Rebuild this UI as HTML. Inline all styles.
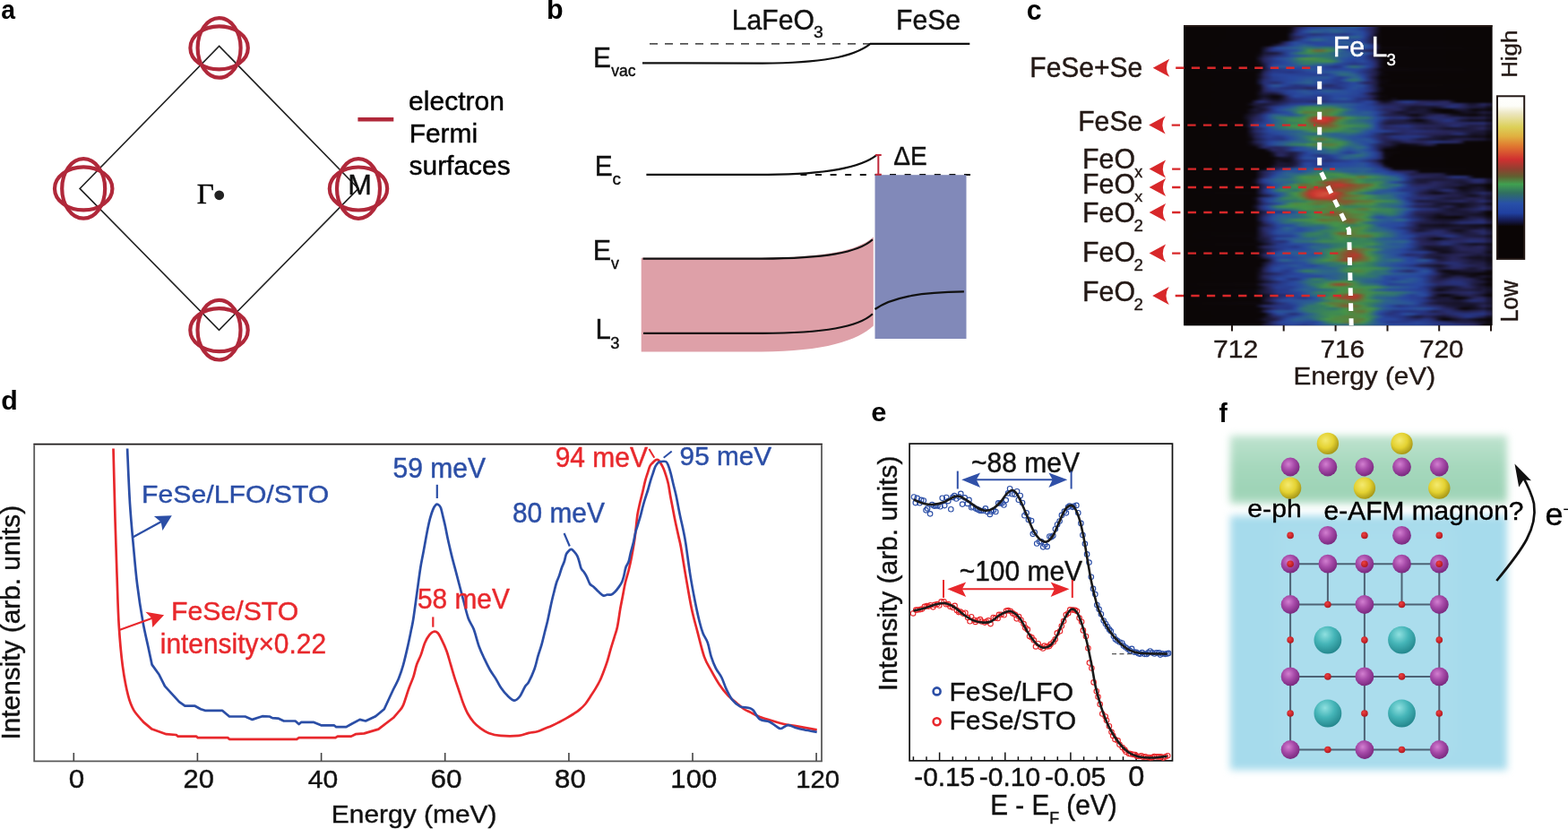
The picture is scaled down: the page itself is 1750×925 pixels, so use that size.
<!DOCTYPE html>
<html><head><meta charset="utf-8"><style>
html,body{margin:0;padding:0;background:#fff;}
body{width:1750px;height:925px;overflow:hidden;}
svg{display:block;font-family:'Liberation Sans', Arial, Helvetica, sans-serif;}
</style></head><body>
<svg width="1750" height="925" viewBox="0 0 1750 925">
<text x="1.35" y="21.20" font-size="28.36" fill="#000" font-weight="bold" transform="matrix(1 0 0 1.0629 0 -1.33)">a</text>
<polygon points="244.6,51.4 400,210.4 244.5,368.3 89.1,210.4" fill="none" stroke="#222" stroke-width="1.6"/>
<ellipse cx="244.6" cy="53.4" rx="32.2" ry="24" fill="none" stroke="#b0283a" stroke-width="4.2"/>
<ellipse cx="244.6" cy="53.4" rx="24" ry="33.3" fill="none" stroke="#b0283a" stroke-width="4.2"/>
<ellipse cx="93.2" cy="210.4" rx="32.2" ry="24" fill="none" stroke="#b0283a" stroke-width="4.2"/>
<ellipse cx="93.2" cy="210.4" rx="24" ry="33.3" fill="none" stroke="#b0283a" stroke-width="4.2"/>
<ellipse cx="400" cy="210.5" rx="32.2" ry="24" fill="none" stroke="#b0283a" stroke-width="4.2"/>
<ellipse cx="400" cy="210.5" rx="24" ry="33.3" fill="none" stroke="#b0283a" stroke-width="4.2"/>
<ellipse cx="244.5" cy="368.2" rx="32.2" ry="24" fill="none" stroke="#b0283a" stroke-width="4.2"/>
<ellipse cx="244.5" cy="368.2" rx="24" ry="33.3" fill="none" stroke="#b0283a" stroke-width="4.2"/>
<text x="219.81" y="226.80" font-size="33.01" fill="#000" font-family="'Liberation Serif', 'Times New Roman', serif" stroke="#000" stroke-width="0.42" transform="matrix(1 0 0 0.9400 0 13.61)">Γ</text>
<circle cx="244.7" cy="217.8" r="5.4" fill="#222"/>
<text x="388.36" y="217.40" font-size="32.06" fill="#111" stroke="#111" stroke-width="0.42" transform="matrix(1 0 0 0.9528 0 10.27)">M</text>
<line x1="399.4" y1="133.2" x2="439.3" y2="133.2" stroke="#b0283a" stroke-width="4.5"/>
<text x="456.12" y="122.80" font-size="30.03" fill="#000" stroke="#000" stroke-width="0.42" transform="matrix(1 0 0 0.9921 0 0.96)">electron</text>
<text x="456.63" y="158.80" font-size="29.98" fill="#000" stroke="#000" stroke-width="0.42" transform="matrix(1 0 0 0.9754 0 3.91)">Fermi</text>
<text x="456.58" y="194.90" font-size="29.91" fill="#000" stroke="#000" stroke-width="0.42" transform="matrix(1 0 0 0.9950 0 0.97)">surfaces</text>
<text x="610.02" y="20.80" font-size="30.50" fill="#000" font-weight="bold">b</text>
<text x="816.81" y="32.80" font-size="30.13" fill="#111" stroke="#111" stroke-width="0.42" transform="matrix(1 0 0 1.0279 0 -0.91)">LaFeO</text>
<text x="908.07" y="41.70" font-size="19.37" fill="#111" stroke="#111" stroke-width="0.42" transform="matrix(1 0 0 0.9400 0 2.50)">3</text>
<text x="1000.12" y="33.10" font-size="30.11" fill="#111" stroke="#111" stroke-width="0.42" transform="matrix(1 0 0 1.0428 0 -1.42)">FeSe</text>
<line x1="725" y1="48.8" x2="971.4" y2="48.8" stroke="#555" stroke-width="1.7" stroke-dasharray="9,8"/>
<line x1="971" y1="48.8" x2="1082.3" y2="48.8" stroke="#111" stroke-width="2.3"/>
<path d="M717,70.3 L851,70.6 C915,70.3 952,64 971.4,48.8" fill="none" stroke="#111" stroke-width="2.2"/>
<text x="662.04" y="74.60" font-size="29.86" fill="#111" stroke="#111" stroke-width="0.42" transform="matrix(1 0 0 1.0473 0 -3.52)">E</text>
<text x="682.21" y="85.00" font-size="17.54" fill="#111" stroke="#111" stroke-width="0.42" transform="matrix(1 0 0 1.0291 0 -2.47)">vac</text>
<line x1="893.4" y1="194.9" x2="1083" y2="194.9" stroke="#111" stroke-width="2" stroke-dasharray="7,9.6"/>
<path d="M721.4,194.9 L857,194.9 C920,194.5 960,188 978.6,172.9" fill="none" stroke="#111" stroke-width="2.2"/>
<text x="663.64" y="196.30" font-size="29.86" fill="#111" stroke="#111" stroke-width="0.42" transform="matrix(1 0 0 1.0521 0 -10.23)">E</text>
<text x="683.40" y="206.50" font-size="18.84" fill="#111" stroke="#111" stroke-width="0.42" transform="matrix(1 0 0 0.9580 0 8.67)">c</text>
<path d="M715.7,287.8 L850,287.8 C920,287.5 957,280 974.8,264.6 L974.8,363.5 C957,380 920,392.2 850,392.4 L715.7,392.4 Z" fill="#dea0a8"/>
<rect x="976.5" y="195.2" width="102" height="182.8" fill="#8189b9"/>
<path d="M717.5,288.6 L850,288.6 C920,288.3 958,282 973.9,267.3" fill="none" stroke="#111" stroke-width="2.2"/>
<path d="M718,371.9 L850,371.9 C920,371.6 958,365 973.9,350.3" fill="none" stroke="#111" stroke-width="2.2"/>
<path d="M976.5,345 C995,332 1025,326 1075.9,325.4" fill="none" stroke="#111" stroke-width="2.2"/>
<path d="M980.3,173 V194.5 M977,172.9 H983.7 M977,194.8 H983.7" stroke="#c0283a" stroke-width="2"/>
<text x="997.16" y="184.20" font-size="28.04" fill="#111" stroke="#111" stroke-width="0.42" transform="matrix(1 0 0 1.0323 0 -5.95)">ΔE</text>
<text x="661.79" y="289.60" font-size="30.41" fill="#111" stroke="#111" stroke-width="0.42" transform="matrix(1 0 0 1.0330 0 -9.55)">E</text>
<text x="681.91" y="299.60" font-size="17.76" fill="#111" stroke="#111" stroke-width="0.42" transform="matrix(1 0 0 1.0464 0 -13.89)">v</text>
<text x="664.53" y="378.50" font-size="31.14" fill="#111" stroke="#111" stroke-width="0.42" transform="matrix(1 0 0 1.0184 0 -6.96)">L</text>
<text x="681.31" y="388.70" font-size="18.32" fill="#111" stroke="#111" stroke-width="0.42" transform="matrix(1 0 0 0.9941 0 2.29)">3</text>
<text x="1145.79" y="21.60" font-size="30.36" fill="#000" font-weight="bold" transform="matrix(1 0 0 1.0234 0 -0.51)">c</text>
<defs><linearGradient id="h0"><stop offset="0.000" stop-color="#0b0606"/><stop offset="0.334" stop-color="#0b0607"/><stop offset="0.348" stop-color="#0e090f"/><stop offset="0.363" stop-color="#1c1938"/><stop offset="0.406" stop-color="#263584"/><stop offset="0.450" stop-color="#273b8c"/><stop offset="0.493" stop-color="#274195"/><stop offset="0.522" stop-color="#294f9b"/><stop offset="0.552" stop-color="#2c618e"/><stop offset="0.566" stop-color="#2a5994"/><stop offset="0.581" stop-color="#28449a"/><stop offset="0.610" stop-color="#272a66"/><stop offset="0.624" stop-color="#1f1c41"/><stop offset="0.639" stop-color="#0b0608"/><stop offset="0.987" stop-color="#0b0606"/></linearGradient><linearGradient id="h1"><stop offset="0.000" stop-color="#0b0606"/><stop offset="0.334" stop-color="#0b0607"/><stop offset="0.348" stop-color="#0f0b14"/><stop offset="0.363" stop-color="#242150"/><stop offset="0.377" stop-color="#273078"/><stop offset="0.406" stop-color="#28479e"/><stop offset="0.479" stop-color="#2b5e90"/><stop offset="0.552" stop-color="#284b9e"/><stop offset="0.581" stop-color="#263888"/><stop offset="0.610" stop-color="#272558"/><stop offset="0.639" stop-color="#0b0607"/><stop offset="0.987" stop-color="#0b0606"/></linearGradient><linearGradient id="h2"><stop offset="0.000" stop-color="#0b0606"/><stop offset="0.334" stop-color="#0b0607"/><stop offset="0.348" stop-color="#110d1a"/><stop offset="0.363" stop-color="#28265d"/><stop offset="0.377" stop-color="#263888"/><stop offset="0.392" stop-color="#294c9d"/><stop offset="0.421" stop-color="#2c628d"/><stop offset="0.464" stop-color="#2a5497"/><stop offset="0.493" stop-color="#2c648c"/><stop offset="0.537" stop-color="#2a5398"/><stop offset="0.566" stop-color="#295299"/><stop offset="0.581" stop-color="#28459c"/><stop offset="0.610" stop-color="#28275e"/><stop offset="0.639" stop-color="#0b0607"/><stop offset="0.987" stop-color="#0b0606"/></linearGradient><linearGradient id="h3"><stop offset="0.000" stop-color="#0b0606"/><stop offset="0.334" stop-color="#0b0607"/><stop offset="0.363" stop-color="#273077"/><stop offset="0.377" stop-color="#273b8c"/><stop offset="0.406" stop-color="#263584"/><stop offset="0.421" stop-color="#273076"/><stop offset="0.479" stop-color="#273d8f"/><stop offset="0.522" stop-color="#263482"/><stop offset="0.552" stop-color="#28469d"/><stop offset="0.566" stop-color="#294f9b"/><stop offset="0.581" stop-color="#284a9f"/><stop offset="0.595" stop-color="#263888"/><stop offset="0.610" stop-color="#28265d"/><stop offset="0.624" stop-color="#141021"/><stop offset="0.639" stop-color="#0b0607"/><stop offset="0.987" stop-color="#0b0606"/></linearGradient><linearGradient id="h4"><stop offset="0.000" stop-color="#0b0606"/><stop offset="0.334" stop-color="#0b0607"/><stop offset="0.348" stop-color="#1c1938"/><stop offset="0.363" stop-color="#262455"/><stop offset="0.377" stop-color="#282860"/><stop offset="0.406" stop-color="#274398"/><stop offset="0.435" stop-color="#294d9c"/><stop offset="0.479" stop-color="#294e9c"/><stop offset="0.552" stop-color="#2c648c"/><stop offset="0.566" stop-color="#2b608f"/><stop offset="0.581" stop-color="#294c9d"/><stop offset="0.595" stop-color="#26327d"/><stop offset="0.624" stop-color="#130f1e"/><stop offset="0.639" stop-color="#0b0607"/><stop offset="0.987" stop-color="#0b0606"/></linearGradient><linearGradient id="h5"><stop offset="0.000" stop-color="#0b0606"/><stop offset="0.334" stop-color="#0b0607"/><stop offset="0.363" stop-color="#272b69"/><stop offset="0.392" stop-color="#2849a0"/><stop offset="0.421" stop-color="#2c658a"/><stop offset="0.435" stop-color="#2d6885"/><stop offset="0.479" stop-color="#284b9e"/><stop offset="0.508" stop-color="#2a5597"/><stop offset="0.552" stop-color="#274398"/><stop offset="0.566" stop-color="#28459b"/><stop offset="0.581" stop-color="#273e91"/><stop offset="0.610" stop-color="#22204b"/><stop offset="0.624" stop-color="#130f1e"/><stop offset="0.639" stop-color="#0b0607"/><stop offset="0.987" stop-color="#0b0606"/></linearGradient><linearGradient id="h6"><stop offset="0.000" stop-color="#0b0606"/><stop offset="0.305" stop-color="#0b0607"/><stop offset="0.319" stop-color="#191631"/><stop offset="0.334" stop-color="#272d6f"/><stop offset="0.348" stop-color="#273f92"/><stop offset="0.363" stop-color="#294d9d"/><stop offset="0.406" stop-color="#274195"/><stop offset="0.450" stop-color="#28469c"/><stop offset="0.522" stop-color="#2b5c92"/><stop offset="0.566" stop-color="#294f9b"/><stop offset="0.581" stop-color="#274297"/><stop offset="0.610" stop-color="#24214f"/><stop offset="0.624" stop-color="#130f1e"/><stop offset="0.639" stop-color="#0b0607"/><stop offset="0.987" stop-color="#0b0606"/></linearGradient><linearGradient id="h7"><stop offset="0.000" stop-color="#0b0606"/><stop offset="0.276" stop-color="#0b0607"/><stop offset="0.290" stop-color="#130f1e"/><stop offset="0.319" stop-color="#282965"/><stop offset="0.348" stop-color="#274298"/><stop offset="0.363" stop-color="#294d9d"/><stop offset="0.392" stop-color="#2b5f8f"/><stop offset="0.435" stop-color="#2848a0"/><stop offset="0.479" stop-color="#284399"/><stop offset="0.493" stop-color="#284a9e"/><stop offset="0.537" stop-color="#2a5895"/><stop offset="0.581" stop-color="#2b5d91"/><stop offset="0.595" stop-color="#29509a"/><stop offset="0.610" stop-color="#273b8c"/><stop offset="0.624" stop-color="#23204d"/><stop offset="0.639" stop-color="#0b0607"/><stop offset="0.987" stop-color="#0b0606"/></linearGradient><linearGradient id="h8"><stop offset="0.000" stop-color="#0b0606"/><stop offset="0.247" stop-color="#0b0607"/><stop offset="0.261" stop-color="#161328"/><stop offset="0.276" stop-color="#262456"/><stop offset="0.290" stop-color="#263685"/><stop offset="0.305" stop-color="#28499f"/><stop offset="0.334" stop-color="#2a5597"/><stop offset="0.377" stop-color="#2d6689"/><stop offset="0.392" stop-color="#307273"/><stop offset="0.406" stop-color="#31756d"/><stop offset="0.435" stop-color="#2f6f78"/><stop offset="0.464" stop-color="#327966"/><stop offset="0.479" stop-color="#31766c"/><stop offset="0.508" stop-color="#2a5497"/><stop offset="0.522" stop-color="#273f92"/><stop offset="0.537" stop-color="#263380"/><stop offset="0.552" stop-color="#263685"/><stop offset="0.566" stop-color="#28459b"/><stop offset="0.581" stop-color="#29509a"/><stop offset="0.595" stop-color="#284b9e"/><stop offset="0.610" stop-color="#273c8e"/><stop offset="0.624" stop-color="#272559"/><stop offset="0.639" stop-color="#0d080c"/><stop offset="0.987" stop-color="#0b0606"/></linearGradient><linearGradient id="h9"><stop offset="0.000" stop-color="#0b0606"/><stop offset="0.247" stop-color="#0b0607"/><stop offset="0.276" stop-color="#272c6c"/><stop offset="0.290" stop-color="#263786"/><stop offset="0.363" stop-color="#294d9c"/><stop offset="0.377" stop-color="#2b5d91"/><stop offset="0.392" stop-color="#317769"/><stop offset="0.406" stop-color="#459248"/><stop offset="0.421" stop-color="#627639"/><stop offset="0.435" stop-color="#736633"/><stop offset="0.450" stop-color="#6c6c34"/><stop offset="0.464" stop-color="#55853f"/><stop offset="0.479" stop-color="#3d8853"/><stop offset="0.508" stop-color="#2d6786"/><stop offset="0.537" stop-color="#28459c"/><stop offset="0.595" stop-color="#28265b"/><stop offset="0.610" stop-color="#23214e"/><stop offset="0.639" stop-color="#0b0607"/><stop offset="0.987" stop-color="#0b0606"/></linearGradient><linearGradient id="h10"><stop offset="0.000" stop-color="#0b0606"/><stop offset="0.232" stop-color="#0b0607"/><stop offset="0.247" stop-color="#0d090e"/><stop offset="0.261" stop-color="#1a1733"/><stop offset="0.290" stop-color="#1b1837"/><stop offset="0.305" stop-color="#201e45"/><stop offset="0.334" stop-color="#273f92"/><stop offset="0.348" stop-color="#2a5795"/><stop offset="0.377" stop-color="#327a64"/><stop offset="0.406" stop-color="#3d8854"/><stop offset="0.464" stop-color="#317769"/><stop offset="0.493" stop-color="#2b5e90"/><stop offset="0.552" stop-color="#2a5596"/><stop offset="0.581" stop-color="#2b5b92"/><stop offset="0.595" stop-color="#294f9b"/><stop offset="0.610" stop-color="#263889"/><stop offset="0.624" stop-color="#1e1b3e"/><stop offset="0.639" stop-color="#0b0607"/><stop offset="0.987" stop-color="#0b0606"/></linearGradient><linearGradient id="h11"><stop offset="0.000" stop-color="#0b0606"/><stop offset="0.232" stop-color="#0b0607"/><stop offset="0.247" stop-color="#120e1d"/><stop offset="0.261" stop-color="#211f48"/><stop offset="0.290" stop-color="#272b6a"/><stop offset="0.334" stop-color="#273e91"/><stop offset="0.348" stop-color="#284b9e"/><stop offset="0.392" stop-color="#2b5b92"/><stop offset="0.421" stop-color="#2f7077"/><stop offset="0.479" stop-color="#2f7075"/><stop offset="0.522" stop-color="#2b5b93"/><stop offset="0.581" stop-color="#28469c"/><stop offset="0.595" stop-color="#263584"/><stop offset="0.610" stop-color="#262457"/><stop offset="0.624" stop-color="#130f1e"/><stop offset="0.639" stop-color="#0b0607"/><stop offset="0.987" stop-color="#0b0606"/></linearGradient><linearGradient id="h12"><stop offset="0.000" stop-color="#0b0606"/><stop offset="0.232" stop-color="#0b0607"/><stop offset="0.261" stop-color="#28275e"/><stop offset="0.305" stop-color="#28479e"/><stop offset="0.348" stop-color="#2b5f90"/><stop offset="0.377" stop-color="#3d8854"/><stop offset="0.392" stop-color="#499145"/><stop offset="0.421" stop-color="#4a8f44"/><stop offset="0.450" stop-color="#3b8656"/><stop offset="0.479" stop-color="#31756d"/><stop offset="0.508" stop-color="#2a5796"/><stop offset="0.537" stop-color="#2849a0"/><stop offset="0.581" stop-color="#28449a"/><stop offset="0.610" stop-color="#272a67"/><stop offset="0.639" stop-color="#120e1b"/><stop offset="0.653" stop-color="#0b0607"/><stop offset="0.987" stop-color="#0b0606"/></linearGradient><linearGradient id="h13"><stop offset="0.000" stop-color="#0b0606"/><stop offset="0.232" stop-color="#0b0607"/><stop offset="0.247" stop-color="#141022"/><stop offset="0.261" stop-color="#27255a"/><stop offset="0.290" stop-color="#263684"/><stop offset="0.334" stop-color="#284b9e"/><stop offset="0.377" stop-color="#31766c"/><stop offset="0.464" stop-color="#43904b"/><stop offset="0.479" stop-color="#3e8a52"/><stop offset="0.493" stop-color="#327966"/><stop offset="0.508" stop-color="#2c618e"/><stop offset="0.522" stop-color="#294d9c"/><stop offset="0.552" stop-color="#274297"/><stop offset="0.581" stop-color="#294d9c"/><stop offset="0.595" stop-color="#274196"/><stop offset="0.610" stop-color="#26327e"/><stop offset="0.624" stop-color="#262457"/><stop offset="0.639" stop-color="#141021"/><stop offset="0.653" stop-color="#0b0607"/><stop offset="0.987" stop-color="#0b0606"/></linearGradient><linearGradient id="h14"><stop offset="0.000" stop-color="#0b0606"/><stop offset="0.232" stop-color="#0b0607"/><stop offset="0.247" stop-color="#100b14"/><stop offset="0.276" stop-color="#272d70"/><stop offset="0.290" stop-color="#273c8e"/><stop offset="0.319" stop-color="#284499"/><stop offset="0.348" stop-color="#294d9c"/><stop offset="0.377" stop-color="#2e6a80"/><stop offset="0.392" stop-color="#317769"/><stop offset="0.406" stop-color="#327966"/><stop offset="0.435" stop-color="#2c658a"/><stop offset="0.479" stop-color="#2b5b92"/><stop offset="0.493" stop-color="#284b9e"/><stop offset="0.552" stop-color="#263583"/><stop offset="0.595" stop-color="#273d90"/><stop offset="0.610" stop-color="#263888"/><stop offset="0.624" stop-color="#282862"/><stop offset="0.639" stop-color="#110d1a"/><stop offset="0.653" stop-color="#0b0607"/><stop offset="0.987" stop-color="#0b0606"/></linearGradient><linearGradient id="h15"><stop offset="0.000" stop-color="#0b0606"/><stop offset="0.247" stop-color="#0b0607"/><stop offset="0.261" stop-color="#1b1735"/><stop offset="0.276" stop-color="#26317b"/><stop offset="0.290" stop-color="#284a9e"/><stop offset="0.305" stop-color="#2a5795"/><stop offset="0.435" stop-color="#294c9d"/><stop offset="0.464" stop-color="#273d90"/><stop offset="0.493" stop-color="#263380"/><stop offset="0.508" stop-color="#273a8b"/><stop offset="0.522" stop-color="#294e9c"/><stop offset="0.537" stop-color="#2d6688"/><stop offset="0.552" stop-color="#307174"/><stop offset="0.581" stop-color="#2b5d91"/><stop offset="0.595" stop-color="#28499f"/><stop offset="0.610" stop-color="#263786"/><stop offset="0.624" stop-color="#28265c"/><stop offset="0.639" stop-color="#141021"/><stop offset="0.653" stop-color="#0b0607"/><stop offset="0.987" stop-color="#0b0606"/></linearGradient><linearGradient id="h16"><stop offset="0.000" stop-color="#0b0606"/><stop offset="0.247" stop-color="#0d080c"/><stop offset="0.276" stop-color="#28275f"/><stop offset="0.290" stop-color="#263380"/><stop offset="0.348" stop-color="#274195"/><stop offset="0.377" stop-color="#274297"/><stop offset="0.392" stop-color="#294d9c"/><stop offset="0.406" stop-color="#2a5895"/><stop offset="0.464" stop-color="#28459c"/><stop offset="0.566" stop-color="#28469d"/><stop offset="0.595" stop-color="#26327c"/><stop offset="0.610" stop-color="#28275f"/><stop offset="0.639" stop-color="#0d080d"/><stop offset="0.987" stop-color="#0b0606"/></linearGradient><linearGradient id="h17"><stop offset="0.000" stop-color="#0b0606"/><stop offset="0.232" stop-color="#0b0607"/><stop offset="0.247" stop-color="#0f0b13"/><stop offset="0.261" stop-color="#252355"/><stop offset="0.276" stop-color="#273078"/><stop offset="0.290" stop-color="#27398a"/><stop offset="0.319" stop-color="#263888"/><stop offset="0.348" stop-color="#263381"/><stop offset="0.421" stop-color="#28489f"/><stop offset="0.508" stop-color="#2c648c"/><stop offset="0.537" stop-color="#2b5d91"/><stop offset="0.552" stop-color="#294d9c"/><stop offset="0.581" stop-color="#263584"/><stop offset="0.624" stop-color="#201d45"/><stop offset="0.639" stop-color="#110d19"/><stop offset="0.653" stop-color="#0b0607"/><stop offset="0.987" stop-color="#0b0606"/></linearGradient><linearGradient id="h18"><stop offset="0.000" stop-color="#0b0606"/><stop offset="0.232" stop-color="#0b0607"/><stop offset="0.247" stop-color="#161227"/><stop offset="0.261" stop-color="#282861"/><stop offset="0.276" stop-color="#263583"/><stop offset="0.290" stop-color="#274298"/><stop offset="0.319" stop-color="#28459c"/><stop offset="0.392" stop-color="#274195"/><stop offset="0.464" stop-color="#273d8f"/><stop offset="0.479" stop-color="#28479e"/><stop offset="0.508" stop-color="#2d6786"/><stop offset="0.522" stop-color="#2f6d7b"/><stop offset="0.552" stop-color="#2c628d"/><stop offset="0.581" stop-color="#274196"/><stop offset="0.610" stop-color="#28265d"/><stop offset="0.624" stop-color="#1f1c42"/><stop offset="0.639" stop-color="#0e0a11"/><stop offset="0.668" stop-color="#0b0606"/><stop offset="0.987" stop-color="#0b0606"/></linearGradient><linearGradient id="h19"><stop offset="0.000" stop-color="#0b0606"/><stop offset="0.232" stop-color="#0b0607"/><stop offset="0.247" stop-color="#151125"/><stop offset="0.261" stop-color="#27255a"/><stop offset="0.290" stop-color="#273c8e"/><stop offset="0.348" stop-color="#2848a0"/><stop offset="0.464" stop-color="#2a5994"/><stop offset="0.479" stop-color="#284a9e"/><stop offset="0.508" stop-color="#27398a"/><stop offset="0.522" stop-color="#274398"/><stop offset="0.552" stop-color="#2c628d"/><stop offset="0.566" stop-color="#2b608f"/><stop offset="0.581" stop-color="#2848a0"/><stop offset="0.610" stop-color="#23214f"/><stop offset="0.639" stop-color="#0b0607"/><stop offset="0.987" stop-color="#0b0606"/></linearGradient><linearGradient id="h20"><stop offset="0.000" stop-color="#0b0606"/><stop offset="0.232" stop-color="#0b0607"/><stop offset="0.261" stop-color="#272d6e"/><stop offset="0.290" stop-color="#273b8d"/><stop offset="0.363" stop-color="#284a9f"/><stop offset="0.406" stop-color="#2b5b93"/><stop offset="0.450" stop-color="#2848a0"/><stop offset="0.479" stop-color="#274196"/><stop offset="0.493" stop-color="#27398a"/><stop offset="0.508" stop-color="#274094"/><stop offset="0.522" stop-color="#2a5895"/><stop offset="0.537" stop-color="#2f6f78"/><stop offset="0.552" stop-color="#31766c"/><stop offset="0.566" stop-color="#2e6c7e"/><stop offset="0.581" stop-color="#2a5497"/><stop offset="0.595" stop-color="#27398a"/><stop offset="0.610" stop-color="#282860"/><stop offset="0.639" stop-color="#0e090f"/><stop offset="0.682" stop-color="#0b0606"/><stop offset="0.987" stop-color="#0b0606"/></linearGradient><linearGradient id="h21"><stop offset="0.000" stop-color="#0b0606"/><stop offset="0.232" stop-color="#0b0607"/><stop offset="0.261" stop-color="#273077"/><stop offset="0.276" stop-color="#273077"/><stop offset="0.290" stop-color="#272b6a"/><stop offset="0.305" stop-color="#272c6e"/><stop offset="0.334" stop-color="#28459b"/><stop offset="0.406" stop-color="#2c628e"/><stop offset="0.435" stop-color="#294d9c"/><stop offset="0.508" stop-color="#263787"/><stop offset="0.552" stop-color="#2849a0"/><stop offset="0.566" stop-color="#273d8f"/><stop offset="0.581" stop-color="#272c6d"/><stop offset="0.595" stop-color="#272458"/><stop offset="0.610" stop-color="#252354"/><stop offset="0.624" stop-color="#1e1b3e"/><stop offset="0.639" stop-color="#0e0910"/><stop offset="0.668" stop-color="#0b0606"/><stop offset="0.987" stop-color="#0b0606"/></linearGradient><linearGradient id="h22"><stop offset="0.000" stop-color="#0b0606"/><stop offset="0.232" stop-color="#0b0607"/><stop offset="0.247" stop-color="#110d19"/><stop offset="0.261" stop-color="#272a68"/><stop offset="0.276" stop-color="#273f92"/><stop offset="0.290" stop-color="#29519a"/><stop offset="0.305" stop-color="#2a5597"/><stop offset="0.319" stop-color="#28499f"/><stop offset="0.363" stop-color="#26327e"/><stop offset="0.392" stop-color="#263888"/><stop offset="0.421" stop-color="#274298"/><stop offset="0.464" stop-color="#272a66"/><stop offset="0.479" stop-color="#272c6c"/><stop offset="0.508" stop-color="#273c8d"/><stop offset="0.552" stop-color="#284b9e"/><stop offset="0.566" stop-color="#295299"/><stop offset="0.581" stop-color="#294c9d"/><stop offset="0.595" stop-color="#273a8b"/><stop offset="0.624" stop-color="#1d1a3c"/><stop offset="0.639" stop-color="#0c0709"/><stop offset="0.987" stop-color="#0b0606"/></linearGradient><linearGradient id="h23"><stop offset="0.000" stop-color="#0b0606"/><stop offset="0.232" stop-color="#0b0607"/><stop offset="0.247" stop-color="#0f0a12"/><stop offset="0.261" stop-color="#272559"/><stop offset="0.276" stop-color="#263583"/><stop offset="0.290" stop-color="#273c8e"/><stop offset="0.334" stop-color="#273076"/><stop offset="0.377" stop-color="#273076"/><stop offset="0.406" stop-color="#28275d"/><stop offset="0.421" stop-color="#282861"/><stop offset="0.450" stop-color="#263888"/><stop offset="0.479" stop-color="#263584"/><stop offset="0.508" stop-color="#26327c"/><stop offset="0.537" stop-color="#28499f"/><stop offset="0.552" stop-color="#295199"/><stop offset="0.581" stop-color="#274297"/><stop offset="0.610" stop-color="#272a68"/><stop offset="0.639" stop-color="#110d19"/><stop offset="0.653" stop-color="#0b0607"/><stop offset="0.987" stop-color="#0b0606"/></linearGradient><linearGradient id="h24"><stop offset="0.000" stop-color="#0b0606"/><stop offset="0.232" stop-color="#0b0607"/><stop offset="0.247" stop-color="#110d1a"/><stop offset="0.261" stop-color="#272458"/><stop offset="0.276" stop-color="#272d6f"/><stop offset="0.348" stop-color="#28459b"/><stop offset="0.392" stop-color="#2a5696"/><stop offset="0.421" stop-color="#28479e"/><stop offset="0.464" stop-color="#2b5e90"/><stop offset="0.537" stop-color="#284a9f"/><stop offset="0.581" stop-color="#274196"/><stop offset="0.595" stop-color="#263989"/><stop offset="0.610" stop-color="#272d6f"/><stop offset="0.639" stop-color="#100b15"/><stop offset="0.653" stop-color="#0b0607"/><stop offset="0.987" stop-color="#0b0606"/></linearGradient><linearGradient id="h25"><stop offset="0.000" stop-color="#0b0606"/><stop offset="0.232" stop-color="#0b0607"/><stop offset="0.261" stop-color="#1e1b3f"/><stop offset="0.290" stop-color="#1c193a"/><stop offset="0.305" stop-color="#22204b"/><stop offset="0.334" stop-color="#273e91"/><stop offset="0.363" stop-color="#28459c"/><stop offset="0.406" stop-color="#2a5497"/><stop offset="0.435" stop-color="#2848a0"/><stop offset="0.522" stop-color="#294f9b"/><stop offset="0.566" stop-color="#274398"/><stop offset="0.581" stop-color="#263887"/><stop offset="0.595" stop-color="#282860"/><stop offset="0.610" stop-color="#1b1735"/><stop offset="0.639" stop-color="#0b0607"/><stop offset="0.987" stop-color="#0b0606"/></linearGradient><linearGradient id="h26"><stop offset="0.000" stop-color="#0b0606"/><stop offset="0.232" stop-color="#0b0607"/><stop offset="0.261" stop-color="#161329"/><stop offset="0.290" stop-color="#0d080d"/><stop offset="0.305" stop-color="#0d080d"/><stop offset="0.319" stop-color="#161226"/><stop offset="0.334" stop-color="#28275f"/><stop offset="0.348" stop-color="#273c8e"/><stop offset="0.363" stop-color="#284a9f"/><stop offset="0.421" stop-color="#273f92"/><stop offset="0.450" stop-color="#263684"/><stop offset="0.493" stop-color="#28499f"/><stop offset="0.537" stop-color="#28449b"/><stop offset="0.581" stop-color="#273b8c"/><stop offset="0.595" stop-color="#26317a"/><stop offset="0.610" stop-color="#27255a"/><stop offset="0.639" stop-color="#0e0910"/><stop offset="0.668" stop-color="#0b0606"/><stop offset="0.987" stop-color="#0b0606"/></linearGradient><linearGradient id="h27"><stop offset="0.000" stop-color="#0b0606"/><stop offset="0.232" stop-color="#0b0607"/><stop offset="0.261" stop-color="#1f1c41"/><stop offset="0.290" stop-color="#120e1c"/><stop offset="0.305" stop-color="#110d19"/><stop offset="0.319" stop-color="#18152e"/><stop offset="0.334" stop-color="#262457"/><stop offset="0.348" stop-color="#272f74"/><stop offset="0.363" stop-color="#263483"/><stop offset="0.464" stop-color="#273b8d"/><stop offset="0.493" stop-color="#294d9d"/><stop offset="0.522" stop-color="#2a5696"/><stop offset="0.537" stop-color="#284a9e"/><stop offset="0.566" stop-color="#26327d"/><stop offset="0.595" stop-color="#272a66"/><stop offset="0.610" stop-color="#221f4b"/><stop offset="0.624" stop-color="#140f20"/><stop offset="0.639" stop-color="#0b0607"/><stop offset="0.668" stop-color="#0c0709"/><stop offset="0.682" stop-color="#110d1a"/><stop offset="0.697" stop-color="#0b0607"/><stop offset="0.987" stop-color="#0b0606"/></linearGradient><linearGradient id="h28"><stop offset="0.000" stop-color="#0b0606"/><stop offset="0.218" stop-color="#0b0607"/><stop offset="0.232" stop-color="#211e48"/><stop offset="0.247" stop-color="#272f75"/><stop offset="0.261" stop-color="#272c6d"/><stop offset="0.290" stop-color="#1e1b40"/><stop offset="0.305" stop-color="#1d1a3c"/><stop offset="0.348" stop-color="#272d70"/><stop offset="0.392" stop-color="#26317a"/><stop offset="0.435" stop-color="#28275f"/><stop offset="0.479" stop-color="#273a8b"/><stop offset="0.537" stop-color="#273b8c"/><stop offset="0.566" stop-color="#263584"/><stop offset="0.595" stop-color="#28459c"/><stop offset="0.610" stop-color="#274094"/><stop offset="0.624" stop-color="#272c6d"/><stop offset="0.639" stop-color="#1a1632"/><stop offset="0.653" stop-color="#120e1c"/><stop offset="0.668" stop-color="#191530"/><stop offset="0.697" stop-color="#272d70"/><stop offset="0.711" stop-color="#263786"/><stop offset="0.726" stop-color="#273c8d"/><stop offset="0.740" stop-color="#263787"/><stop offset="0.769" stop-color="#28275f"/><stop offset="0.813" stop-color="#242252"/><stop offset="0.842" stop-color="#282760"/><stop offset="0.856" stop-color="#27255a"/><stop offset="0.871" stop-color="#151226"/><stop offset="0.885" stop-color="#0b0607"/><stop offset="0.987" stop-color="#0b0606"/></linearGradient><linearGradient id="h29"><stop offset="0.000" stop-color="#0b0606"/><stop offset="0.203" stop-color="#0b0607"/><stop offset="0.232" stop-color="#1d1a3c"/><stop offset="0.261" stop-color="#1a1734"/><stop offset="0.290" stop-color="#211f49"/><stop offset="0.348" stop-color="#273c8e"/><stop offset="0.406" stop-color="#28499f"/><stop offset="0.450" stop-color="#2b608f"/><stop offset="0.537" stop-color="#2b5b92"/><stop offset="0.581" stop-color="#28469d"/><stop offset="0.610" stop-color="#27398a"/><stop offset="0.639" stop-color="#272559"/><stop offset="0.653" stop-color="#242251"/><stop offset="0.726" stop-color="#282862"/><stop offset="0.755" stop-color="#262355"/><stop offset="0.798" stop-color="#272d70"/><stop offset="0.856" stop-color="#282964"/><stop offset="0.885" stop-color="#272e71"/><stop offset="0.900" stop-color="#282964"/><stop offset="0.929" stop-color="#1a1632"/><stop offset="0.943" stop-color="#1b1735"/><stop offset="0.972" stop-color="#282964"/><stop offset="0.987" stop-color="#221f49"/></linearGradient><linearGradient id="h30"><stop offset="0.000" stop-color="#0b0606"/><stop offset="0.218" stop-color="#0b0607"/><stop offset="0.232" stop-color="#151124"/><stop offset="0.261" stop-color="#211e47"/><stop offset="0.290" stop-color="#263685"/><stop offset="0.319" stop-color="#28459c"/><stop offset="0.348" stop-color="#2a5597"/><stop offset="0.363" stop-color="#2d6786"/><stop offset="0.377" stop-color="#337b63"/><stop offset="0.406" stop-color="#3e8a51"/><stop offset="0.479" stop-color="#39825a"/><stop offset="0.522" stop-color="#2b5e90"/><stop offset="0.566" stop-color="#28479e"/><stop offset="0.610" stop-color="#274297"/><stop offset="0.653" stop-color="#272d6f"/><stop offset="0.682" stop-color="#272a68"/><stop offset="0.740" stop-color="#19152f"/><stop offset="0.813" stop-color="#18142d"/><stop offset="0.827" stop-color="#1c193a"/><stop offset="0.856" stop-color="#272e71"/><stop offset="0.871" stop-color="#263380"/><stop offset="0.900" stop-color="#282964"/><stop offset="0.929" stop-color="#1f1c42"/><stop offset="0.972" stop-color="#1e1b40"/><stop offset="0.987" stop-color="#130f1e"/></linearGradient><linearGradient id="h31"><stop offset="0.000" stop-color="#0b0606"/><stop offset="0.203" stop-color="#0b0607"/><stop offset="0.232" stop-color="#1c193a"/><stop offset="0.247" stop-color="#191530"/><stop offset="0.261" stop-color="#1b1837"/><stop offset="0.276" stop-color="#27255a"/><stop offset="0.290" stop-color="#263786"/><stop offset="0.305" stop-color="#28499f"/><stop offset="0.348" stop-color="#2e6b80"/><stop offset="0.392" stop-color="#418d4e"/><stop offset="0.435" stop-color="#469446"/><stop offset="0.464" stop-color="#617839"/><stop offset="0.479" stop-color="#5f793a"/><stop offset="0.508" stop-color="#418e4d"/><stop offset="0.522" stop-color="#347d60"/><stop offset="0.537" stop-color="#2e6a82"/><stop offset="0.566" stop-color="#294d9c"/><stop offset="0.610" stop-color="#284399"/><stop offset="0.653" stop-color="#28275e"/><stop offset="0.697" stop-color="#28275e"/><stop offset="0.726" stop-color="#1a1633"/><stop offset="0.740" stop-color="#171329"/><stop offset="0.769" stop-color="#1c1938"/><stop offset="0.784" stop-color="#1a1733"/><stop offset="0.813" stop-color="#0b0607"/><stop offset="0.856" stop-color="#0b0607"/><stop offset="0.871" stop-color="#0e0910"/><stop offset="0.885" stop-color="#17132b"/><stop offset="0.900" stop-color="#1c1939"/><stop offset="0.914" stop-color="#191631"/><stop offset="0.943" stop-color="#0c070a"/><stop offset="0.972" stop-color="#100c16"/><stop offset="0.987" stop-color="#0c0709"/></linearGradient><linearGradient id="h32"><stop offset="0.000" stop-color="#0b0606"/><stop offset="0.203" stop-color="#0b0608"/><stop offset="0.218" stop-color="#141021"/><stop offset="0.247" stop-color="#1d193a"/><stop offset="0.261" stop-color="#28265c"/><stop offset="0.276" stop-color="#26317a"/><stop offset="0.305" stop-color="#273f93"/><stop offset="0.334" stop-color="#2849a0"/><stop offset="0.348" stop-color="#2a5895"/><stop offset="0.363" stop-color="#307370"/><stop offset="0.377" stop-color="#459248"/><stop offset="0.392" stop-color="#5f793a"/><stop offset="0.464" stop-color="#5d7c3b"/><stop offset="0.493" stop-color="#43904b"/><stop offset="0.508" stop-color="#357e5f"/><stop offset="0.522" stop-color="#2e6a82"/><stop offset="0.537" stop-color="#2b5a93"/><stop offset="0.566" stop-color="#2a5497"/><stop offset="0.595" stop-color="#2b5e91"/><stop offset="0.624" stop-color="#28479f"/><stop offset="0.668" stop-color="#252355"/><stop offset="0.697" stop-color="#18142c"/><stop offset="0.711" stop-color="#17132b"/><stop offset="0.740" stop-color="#1f1c41"/><stop offset="0.784" stop-color="#1a1734"/><stop offset="0.842" stop-color="#0b0607"/><stop offset="0.885" stop-color="#0b0607"/><stop offset="0.914" stop-color="#151126"/><stop offset="0.943" stop-color="#130f1e"/><stop offset="0.972" stop-color="#1f1c42"/><stop offset="0.987" stop-color="#1a1632"/></linearGradient><linearGradient id="h33"><stop offset="0.000" stop-color="#0b0606"/><stop offset="0.189" stop-color="#0b0607"/><stop offset="0.232" stop-color="#201d44"/><stop offset="0.261" stop-color="#263787"/><stop offset="0.276" stop-color="#294d9c"/><stop offset="0.290" stop-color="#2c618e"/><stop offset="0.305" stop-color="#2c658b"/><stop offset="0.348" stop-color="#29509a"/><stop offset="0.377" stop-color="#2d6885"/><stop offset="0.392" stop-color="#337b63"/><stop offset="0.406" stop-color="#408c4f"/><stop offset="0.421" stop-color="#4b8f44"/><stop offset="0.450" stop-color="#5b7e3c"/><stop offset="0.464" stop-color="#5a7f3d"/><stop offset="0.479" stop-color="#489245"/><stop offset="0.508" stop-color="#30746f"/><stop offset="0.537" stop-color="#2c6689"/><stop offset="0.610" stop-color="#29519a"/><stop offset="0.624" stop-color="#274297"/><stop offset="0.653" stop-color="#252354"/><stop offset="0.711" stop-color="#1e1b3e"/><stop offset="0.740" stop-color="#100b15"/><stop offset="0.755" stop-color="#0f0a11"/><stop offset="0.798" stop-color="#242250"/><stop offset="0.827" stop-color="#282861"/><stop offset="0.842" stop-color="#28265b"/><stop offset="0.871" stop-color="#161328"/><stop offset="0.900" stop-color="#0f0b14"/><stop offset="0.943" stop-color="#0c070a"/><stop offset="0.972" stop-color="#141021"/><stop offset="0.987" stop-color="#100c17"/></linearGradient><linearGradient id="h34"><stop offset="0.000" stop-color="#0b0606"/><stop offset="0.189" stop-color="#0b0607"/><stop offset="0.232" stop-color="#272559"/><stop offset="0.247" stop-color="#272c6c"/><stop offset="0.261" stop-color="#273b8c"/><stop offset="0.276" stop-color="#29509a"/><stop offset="0.305" stop-color="#31766b"/><stop offset="0.334" stop-color="#36805d"/><stop offset="0.377" stop-color="#398359"/><stop offset="0.392" stop-color="#43904b"/><stop offset="0.406" stop-color="#5e7b3b"/><stop offset="0.421" stop-color="#8e4f2f"/><stop offset="0.435" stop-color="#ba382d"/><stop offset="0.450" stop-color="#cd352f"/><stop offset="0.464" stop-color="#ca322e"/><stop offset="0.479" stop-color="#b13a2d"/><stop offset="0.508" stop-color="#6b6d35"/><stop offset="0.522" stop-color="#55843f"/><stop offset="0.537" stop-color="#428f4b"/><stop offset="0.566" stop-color="#317868"/><stop offset="0.595" stop-color="#31756d"/><stop offset="0.624" stop-color="#294f9b"/><stop offset="0.668" stop-color="#26327c"/><stop offset="0.682" stop-color="#272f73"/><stop offset="0.711" stop-color="#26327d"/><stop offset="0.726" stop-color="#272b6a"/><stop offset="0.740" stop-color="#211e48"/><stop offset="0.755" stop-color="#1c1939"/><stop offset="0.798" stop-color="#272c6d"/><stop offset="0.813" stop-color="#272f73"/><stop offset="0.856" stop-color="#282964"/><stop offset="0.885" stop-color="#272a66"/><stop offset="0.929" stop-color="#1f1c42"/><stop offset="0.972" stop-color="#22204b"/><stop offset="0.987" stop-color="#17132a"/></linearGradient><linearGradient id="h35"><stop offset="0.000" stop-color="#0b0606"/><stop offset="0.189" stop-color="#0b0607"/><stop offset="0.203" stop-color="#0f0b14"/><stop offset="0.218" stop-color="#1f1c41"/><stop offset="0.232" stop-color="#282760"/><stop offset="0.247" stop-color="#272b69"/><stop offset="0.276" stop-color="#2848a0"/><stop offset="0.305" stop-color="#2c658a"/><stop offset="0.348" stop-color="#3f8b50"/><stop offset="0.377" stop-color="#418d4e"/><stop offset="0.392" stop-color="#4d8d43"/><stop offset="0.421" stop-color="#b23a2d"/><stop offset="0.435" stop-color="#cd3530"/><stop offset="0.450" stop-color="#ce3b32"/><stop offset="0.464" stop-color="#c8332e"/><stop offset="0.479" stop-color="#a33f2c"/><stop offset="0.493" stop-color="#6f6934"/><stop offset="0.508" stop-color="#4c8d43"/><stop offset="0.537" stop-color="#327867"/><stop offset="0.610" stop-color="#2a5597"/><stop offset="0.624" stop-color="#284a9f"/><stop offset="0.639" stop-color="#263888"/><stop offset="0.653" stop-color="#282861"/><stop offset="0.668" stop-color="#22204b"/><stop offset="0.711" stop-color="#201d43"/><stop offset="0.755" stop-color="#0d090e"/><stop offset="0.769" stop-color="#0d080d"/><stop offset="0.813" stop-color="#28265c"/><stop offset="0.856" stop-color="#263584"/><stop offset="0.871" stop-color="#273077"/><stop offset="0.900" stop-color="#1c1939"/><stop offset="0.929" stop-color="#130f20"/><stop offset="0.972" stop-color="#151124"/><stop offset="0.987" stop-color="#0f0a12"/></linearGradient><linearGradient id="h36"><stop offset="0.000" stop-color="#0b0606"/><stop offset="0.203" stop-color="#0d080c"/><stop offset="0.218" stop-color="#211f49"/><stop offset="0.232" stop-color="#272f75"/><stop offset="0.276" stop-color="#28469c"/><stop offset="0.305" stop-color="#2d6884"/><stop offset="0.334" stop-color="#327a64"/><stop offset="0.377" stop-color="#3b8557"/><stop offset="0.392" stop-color="#449149"/><stop offset="0.435" stop-color="#9d422c"/><stop offset="0.450" stop-color="#a93d2c"/><stop offset="0.464" stop-color="#a0402c"/><stop offset="0.493" stop-color="#58823e"/><stop offset="0.508" stop-color="#3f8a51"/><stop offset="0.537" stop-color="#327967"/><stop offset="0.581" stop-color="#307273"/><stop offset="0.610" stop-color="#2b5c92"/><stop offset="0.624" stop-color="#284399"/><stop offset="0.653" stop-color="#211e46"/><stop offset="0.668" stop-color="#1d1a3b"/><stop offset="0.726" stop-color="#211f49"/><stop offset="0.784" stop-color="#191631"/><stop offset="0.813" stop-color="#201d43"/><stop offset="0.842" stop-color="#282862"/><stop offset="0.943" stop-color="#272b6a"/><stop offset="0.972" stop-color="#272e72"/><stop offset="0.987" stop-color="#211e47"/></linearGradient><linearGradient id="h37"><stop offset="0.000" stop-color="#0b0606"/><stop offset="0.189" stop-color="#0b0607"/><stop offset="0.203" stop-color="#100b14"/><stop offset="0.218" stop-color="#28255b"/><stop offset="0.232" stop-color="#263786"/><stop offset="0.261" stop-color="#294d9d"/><stop offset="0.290" stop-color="#2d6885"/><stop offset="0.319" stop-color="#30746f"/><stop offset="0.348" stop-color="#469347"/><stop offset="0.392" stop-color="#4f8b42"/><stop offset="0.450" stop-color="#825a31"/><stop offset="0.479" stop-color="#7a6032"/><stop offset="0.508" stop-color="#518841"/><stop offset="0.537" stop-color="#428f4c"/><stop offset="0.595" stop-color="#357d60"/><stop offset="0.610" stop-color="#2d6786"/><stop offset="0.624" stop-color="#28469d"/><stop offset="0.639" stop-color="#273078"/><stop offset="0.653" stop-color="#282963"/><stop offset="0.697" stop-color="#273078"/><stop offset="0.726" stop-color="#26337f"/><stop offset="0.755" stop-color="#28275f"/><stop offset="0.813" stop-color="#252354"/><stop offset="0.842" stop-color="#23214e"/><stop offset="0.871" stop-color="#272d6f"/><stop offset="0.885" stop-color="#272f74"/><stop offset="0.929" stop-color="#201d44"/><stop offset="0.958" stop-color="#201e46"/><stop offset="0.972" stop-color="#221f4a"/><stop offset="0.987" stop-color="#17132a"/></linearGradient><linearGradient id="h38"><stop offset="0.000" stop-color="#0b0606"/><stop offset="0.203" stop-color="#0b0607"/><stop offset="0.232" stop-color="#262455"/><stop offset="0.247" stop-color="#272a66"/><stop offset="0.276" stop-color="#2848a0"/><stop offset="0.319" stop-color="#2f7175"/><stop offset="0.392" stop-color="#459347"/><stop offset="0.450" stop-color="#5f793a"/><stop offset="0.493" stop-color="#54853f"/><stop offset="0.508" stop-color="#449149"/><stop offset="0.552" stop-color="#307273"/><stop offset="0.581" stop-color="#307272"/><stop offset="0.610" stop-color="#2b5c92"/><stop offset="0.624" stop-color="#28459b"/><stop offset="0.653" stop-color="#282862"/><stop offset="0.726" stop-color="#272d6e"/><stop offset="0.784" stop-color="#211e48"/><stop offset="0.813" stop-color="#23214e"/><stop offset="0.856" stop-color="#18142c"/><stop offset="0.914" stop-color="#1c1939"/><stop offset="0.943" stop-color="#221f49"/><stop offset="0.958" stop-color="#272559"/><stop offset="0.972" stop-color="#28265b"/><stop offset="0.987" stop-color="#1a1734"/></linearGradient><linearGradient id="h39"><stop offset="0.000" stop-color="#0b0606"/><stop offset="0.203" stop-color="#0b0607"/><stop offset="0.232" stop-color="#272a66"/><stop offset="0.276" stop-color="#2848a0"/><stop offset="0.377" stop-color="#2c648c"/><stop offset="0.421" stop-color="#449249"/><stop offset="0.450" stop-color="#57823e"/><stop offset="0.479" stop-color="#43904b"/><stop offset="0.522" stop-color="#357d60"/><stop offset="0.552" stop-color="#367f5f"/><stop offset="0.566" stop-color="#31756d"/><stop offset="0.581" stop-color="#2c628d"/><stop offset="0.610" stop-color="#2848a0"/><stop offset="0.653" stop-color="#274094"/><stop offset="0.711" stop-color="#272a68"/><stop offset="0.755" stop-color="#273078"/><stop offset="0.842" stop-color="#28265b"/><stop offset="0.871" stop-color="#272559"/><stop offset="0.914" stop-color="#201d45"/><stop offset="0.972" stop-color="#1b1836"/><stop offset="0.987" stop-color="#120e1c"/></linearGradient><linearGradient id="h40"><stop offset="0.000" stop-color="#0b0606"/><stop offset="0.203" stop-color="#0b0607"/><stop offset="0.232" stop-color="#221f4a"/><stop offset="0.276" stop-color="#273e91"/><stop offset="0.305" stop-color="#28499f"/><stop offset="0.377" stop-color="#2e6a82"/><stop offset="0.421" stop-color="#2d6688"/><stop offset="0.450" stop-color="#2d6982"/><stop offset="0.493" stop-color="#2b5f90"/><stop offset="0.537" stop-color="#2e6c7e"/><stop offset="0.595" stop-color="#284b9e"/><stop offset="0.610" stop-color="#274093"/><stop offset="0.653" stop-color="#211e46"/><stop offset="0.682" stop-color="#211e47"/><stop offset="0.726" stop-color="#272b6a"/><stop offset="0.784" stop-color="#262458"/><stop offset="0.856" stop-color="#252252"/><stop offset="0.885" stop-color="#272e73"/><stop offset="0.900" stop-color="#272e71"/><stop offset="0.929" stop-color="#1a1734"/><stop offset="0.943" stop-color="#171329"/><stop offset="0.972" stop-color="#19152f"/><stop offset="0.987" stop-color="#0f0b14"/></linearGradient><linearGradient id="h41"><stop offset="0.000" stop-color="#0b0606"/><stop offset="0.203" stop-color="#0b0607"/><stop offset="0.218" stop-color="#130f1e"/><stop offset="0.232" stop-color="#23214f"/><stop offset="0.261" stop-color="#263584"/><stop offset="0.276" stop-color="#273d90"/><stop offset="0.305" stop-color="#263786"/><stop offset="0.319" stop-color="#273a8b"/><stop offset="0.334" stop-color="#28459c"/><stop offset="0.377" stop-color="#2c6689"/><stop offset="0.406" stop-color="#367f5e"/><stop offset="0.435" stop-color="#3a8458"/><stop offset="0.479" stop-color="#2d6885"/><stop offset="0.566" stop-color="#294c9d"/><stop offset="0.595" stop-color="#274297"/><stop offset="0.639" stop-color="#28275f"/><stop offset="0.653" stop-color="#28275f"/><stop offset="0.682" stop-color="#263583"/><stop offset="0.755" stop-color="#263685"/><stop offset="0.784" stop-color="#272c6b"/><stop offset="0.813" stop-color="#1d1a3c"/><stop offset="0.871" stop-color="#141022"/><stop offset="0.914" stop-color="#161227"/><stop offset="0.943" stop-color="#100b15"/><stop offset="0.972" stop-color="#120d1a"/><stop offset="0.987" stop-color="#0c0709"/></linearGradient><linearGradient id="h42"><stop offset="0.000" stop-color="#0b0606"/><stop offset="0.203" stop-color="#0b0607"/><stop offset="0.218" stop-color="#0e090f"/><stop offset="0.232" stop-color="#1c1939"/><stop offset="0.276" stop-color="#263686"/><stop offset="0.319" stop-color="#26337f"/><stop offset="0.348" stop-color="#284b9e"/><stop offset="0.392" stop-color="#2e6d7c"/><stop offset="0.406" stop-color="#347d61"/><stop offset="0.421" stop-color="#479345"/><stop offset="0.435" stop-color="#657337"/><stop offset="0.450" stop-color="#687136"/><stop offset="0.464" stop-color="#518841"/><stop offset="0.479" stop-color="#3e8a52"/><stop offset="0.522" stop-color="#2c648c"/><stop offset="0.552" stop-color="#295199"/><stop offset="0.595" stop-color="#2a5696"/><stop offset="0.610" stop-color="#28469c"/><stop offset="0.639" stop-color="#282964"/><stop offset="0.653" stop-color="#252252"/><stop offset="0.711" stop-color="#273078"/><stop offset="0.726" stop-color="#273076"/><stop offset="0.769" stop-color="#1e1b40"/><stop offset="0.813" stop-color="#1a1734"/><stop offset="0.842" stop-color="#151125"/><stop offset="0.885" stop-color="#23204d"/><stop offset="0.914" stop-color="#211f48"/><stop offset="0.972" stop-color="#1c1838"/><stop offset="0.987" stop-color="#120e1c"/></linearGradient><linearGradient id="h43"><stop offset="0.000" stop-color="#0b0606"/><stop offset="0.203" stop-color="#0b0607"/><stop offset="0.218" stop-color="#130f1e"/><stop offset="0.232" stop-color="#23204c"/><stop offset="0.276" stop-color="#274094"/><stop offset="0.290" stop-color="#284b9e"/><stop offset="0.363" stop-color="#2e6a81"/><stop offset="0.392" stop-color="#2d6688"/><stop offset="0.421" stop-color="#337b63"/><stop offset="0.508" stop-color="#408d4f"/><stop offset="0.522" stop-color="#38825b"/><stop offset="0.552" stop-color="#2b5d91"/><stop offset="0.581" stop-color="#294d9c"/><stop offset="0.610" stop-color="#295199"/><stop offset="0.624" stop-color="#274297"/><stop offset="0.653" stop-color="#242251"/><stop offset="0.682" stop-color="#1a1734"/><stop offset="0.697" stop-color="#1c1939"/><stop offset="0.726" stop-color="#282861"/><stop offset="0.769" stop-color="#28265c"/><stop offset="0.813" stop-color="#263482"/><stop offset="0.885" stop-color="#282964"/><stop offset="0.900" stop-color="#201d44"/><stop offset="0.914" stop-color="#0c0709"/><stop offset="0.987" stop-color="#0b0606"/></linearGradient><linearGradient id="h44"><stop offset="0.000" stop-color="#0b0606"/><stop offset="0.203" stop-color="#0b0607"/><stop offset="0.218" stop-color="#0f0a12"/><stop offset="0.247" stop-color="#211e47"/><stop offset="0.276" stop-color="#274196"/><stop offset="0.305" stop-color="#2a5795"/><stop offset="0.319" stop-color="#2b5c92"/><stop offset="0.348" stop-color="#317769"/><stop offset="0.392" stop-color="#3c8656"/><stop offset="0.406" stop-color="#459347"/><stop offset="0.435" stop-color="#5c7c3b"/><stop offset="0.479" stop-color="#5f7a3a"/><stop offset="0.508" stop-color="#418e4d"/><stop offset="0.537" stop-color="#307273"/><stop offset="0.581" stop-color="#2a5498"/><stop offset="0.595" stop-color="#28479f"/><stop offset="0.639" stop-color="#242251"/><stop offset="0.668" stop-color="#201d44"/><stop offset="0.697" stop-color="#100b15"/><stop offset="0.711" stop-color="#0d080d"/><stop offset="0.755" stop-color="#141022"/><stop offset="0.784" stop-color="#201d45"/><stop offset="0.798" stop-color="#23204d"/><stop offset="0.813" stop-color="#1a1734"/><stop offset="0.827" stop-color="#0b0607"/><stop offset="0.987" stop-color="#0b0606"/></linearGradient><linearGradient id="h45"><stop offset="0.000" stop-color="#0b0606"/><stop offset="0.232" stop-color="#0b0607"/><stop offset="0.261" stop-color="#272a67"/><stop offset="0.305" stop-color="#27255a"/><stop offset="0.334" stop-color="#272e71"/><stop offset="0.363" stop-color="#284399"/><stop offset="0.392" stop-color="#2a5795"/><stop offset="0.406" stop-color="#2c638c"/><stop offset="0.435" stop-color="#317868"/><stop offset="0.479" stop-color="#3f8b50"/><stop offset="0.493" stop-color="#3d8854"/><stop offset="0.508" stop-color="#327966"/><stop offset="0.522" stop-color="#2d6787"/><stop offset="0.537" stop-color="#2b5f8f"/><stop offset="0.566" stop-color="#2e6c7e"/><stop offset="0.581" stop-color="#2d6885"/><stop offset="0.595" stop-color="#2a5795"/><stop offset="0.610" stop-color="#273d8f"/><stop offset="0.639" stop-color="#1f1c42"/><stop offset="0.653" stop-color="#17132b"/><stop offset="0.697" stop-color="#0b0607"/><stop offset="0.987" stop-color="#0b0606"/></linearGradient><linearGradient id="h46"><stop offset="0.000" stop-color="#0b0606"/><stop offset="0.261" stop-color="#0b0607"/><stop offset="0.290" stop-color="#282862"/><stop offset="0.319" stop-color="#272558"/><stop offset="0.363" stop-color="#2848a0"/><stop offset="0.450" stop-color="#2b5e90"/><stop offset="0.479" stop-color="#307370"/><stop offset="0.493" stop-color="#307273"/><stop offset="0.508" stop-color="#2c648c"/><stop offset="0.537" stop-color="#29509a"/><stop offset="0.566" stop-color="#2b5f90"/><stop offset="0.595" stop-color="#284b9e"/><stop offset="0.610" stop-color="#273d90"/><stop offset="0.624" stop-color="#272f75"/><stop offset="0.639" stop-color="#1b1735"/><stop offset="0.653" stop-color="#0b0607"/><stop offset="0.987" stop-color="#0b0606"/></linearGradient><linearGradient id="h47"><stop offset="0.000" stop-color="#0b0606"/><stop offset="0.276" stop-color="#0b0607"/><stop offset="0.305" stop-color="#262456"/><stop offset="0.319" stop-color="#27255a"/><stop offset="0.348" stop-color="#1f1c41"/><stop offset="0.363" stop-color="#211f48"/><stop offset="0.392" stop-color="#27398a"/><stop offset="0.406" stop-color="#28499f"/><stop offset="0.479" stop-color="#2d6983"/><stop offset="0.493" stop-color="#2c658a"/><stop offset="0.522" stop-color="#274398"/><stop offset="0.537" stop-color="#273c8e"/><stop offset="0.552" stop-color="#28469d"/><stop offset="0.581" stop-color="#2c628d"/><stop offset="0.610" stop-color="#294d9c"/><stop offset="0.624" stop-color="#273e92"/><stop offset="0.639" stop-color="#282965"/><stop offset="0.653" stop-color="#0e090e"/><stop offset="0.711" stop-color="#0b0606"/><stop offset="0.987" stop-color="#0b0606"/></linearGradient><linearGradient id="h48"><stop offset="0.000" stop-color="#0b0606"/><stop offset="0.276" stop-color="#0b0607"/><stop offset="0.290" stop-color="#120e1c"/><stop offset="0.305" stop-color="#272559"/><stop offset="0.319" stop-color="#282963"/><stop offset="0.348" stop-color="#1b1735"/><stop offset="0.363" stop-color="#22204c"/><stop offset="0.377" stop-color="#263179"/><stop offset="0.392" stop-color="#274297"/><stop offset="0.406" stop-color="#28459b"/><stop offset="0.435" stop-color="#263380"/><stop offset="0.450" stop-color="#26327d"/><stop offset="0.479" stop-color="#284399"/><stop offset="0.537" stop-color="#2c648c"/><stop offset="0.566" stop-color="#307174"/><stop offset="0.595" stop-color="#2b5d91"/><stop offset="0.610" stop-color="#294c9d"/><stop offset="0.624" stop-color="#274093"/><stop offset="0.639" stop-color="#272b69"/><stop offset="0.653" stop-color="#0f0a12"/><stop offset="0.682" stop-color="#0b0606"/><stop offset="0.987" stop-color="#0b0606"/></linearGradient><linearGradient id="h49"><stop offset="0.000" stop-color="#0b0606"/><stop offset="0.290" stop-color="#0b0607"/><stop offset="0.319" stop-color="#141021"/><stop offset="0.348" stop-color="#151125"/><stop offset="0.363" stop-color="#24214f"/><stop offset="0.377" stop-color="#263786"/><stop offset="0.392" stop-color="#294d9c"/><stop offset="0.421" stop-color="#294e9c"/><stop offset="0.435" stop-color="#28469d"/><stop offset="0.464" stop-color="#263887"/><stop offset="0.479" stop-color="#263989"/><stop offset="0.493" stop-color="#28469d"/><stop offset="0.522" stop-color="#2d6787"/><stop offset="0.581" stop-color="#2a5597"/><stop offset="0.595" stop-color="#284b9e"/><stop offset="0.624" stop-color="#273a8a"/><stop offset="0.639" stop-color="#272a67"/><stop offset="0.653" stop-color="#100c17"/><stop offset="0.668" stop-color="#0b0607"/><stop offset="0.987" stop-color="#0b0606"/></linearGradient><linearGradient id="h50"><stop offset="0.000" stop-color="#0b0606"/><stop offset="0.276" stop-color="#0b0607"/><stop offset="0.290" stop-color="#0d090e"/><stop offset="0.305" stop-color="#161226"/><stop offset="0.334" stop-color="#0f0b13"/><stop offset="0.348" stop-color="#130f20"/><stop offset="0.377" stop-color="#282963"/><stop offset="0.392" stop-color="#26327e"/><stop offset="0.421" stop-color="#273a8a"/><stop offset="0.464" stop-color="#272f74"/><stop offset="0.552" stop-color="#28459c"/><stop offset="0.566" stop-color="#28459c"/><stop offset="0.610" stop-color="#272c6c"/><stop offset="0.624" stop-color="#242150"/><stop offset="0.639" stop-color="#151124"/><stop offset="0.653" stop-color="#0b0607"/><stop offset="0.987" stop-color="#0b0606"/></linearGradient><linearGradient id="h51"><stop offset="0.000" stop-color="#0b0606"/><stop offset="0.276" stop-color="#0b0607"/><stop offset="0.290" stop-color="#0e090f"/><stop offset="0.305" stop-color="#19152f"/><stop offset="0.319" stop-color="#1b1836"/><stop offset="0.348" stop-color="#17142b"/><stop offset="0.363" stop-color="#1e1b3e"/><stop offset="0.392" stop-color="#284399"/><stop offset="0.406" stop-color="#28489f"/><stop offset="0.435" stop-color="#263989"/><stop offset="0.493" stop-color="#2849a0"/><stop offset="0.537" stop-color="#2848a0"/><stop offset="0.581" stop-color="#2a5497"/><stop offset="0.595" stop-color="#2848a0"/><stop offset="0.624" stop-color="#272f75"/><stop offset="0.639" stop-color="#211e48"/><stop offset="0.653" stop-color="#0b0607"/><stop offset="0.987" stop-color="#0b0606"/></linearGradient><linearGradient id="h52"><stop offset="0.000" stop-color="#0b0606"/><stop offset="0.276" stop-color="#0b0607"/><stop offset="0.305" stop-color="#1c1939"/><stop offset="0.334" stop-color="#18152e"/><stop offset="0.348" stop-color="#1b1735"/><stop offset="0.363" stop-color="#242251"/><stop offset="0.377" stop-color="#263179"/><stop offset="0.392" stop-color="#274195"/><stop offset="0.406" stop-color="#28469d"/><stop offset="0.450" stop-color="#263889"/><stop offset="0.493" stop-color="#28499f"/><stop offset="0.581" stop-color="#2a5398"/><stop offset="0.595" stop-color="#284a9f"/><stop offset="0.624" stop-color="#273b8d"/><stop offset="0.639" stop-color="#272f75"/><stop offset="0.653" stop-color="#17142b"/><stop offset="0.668" stop-color="#0b0607"/><stop offset="0.987" stop-color="#0b0606"/></linearGradient><linearGradient id="h53"><stop offset="0.000" stop-color="#0b0606"/><stop offset="0.261" stop-color="#0b0607"/><stop offset="0.276" stop-color="#19152f"/><stop offset="0.305" stop-color="#272458"/><stop offset="0.334" stop-color="#274094"/><stop offset="0.363" stop-color="#2a5498"/><stop offset="0.450" stop-color="#2b5f90"/><stop offset="0.493" stop-color="#2b5b92"/><stop offset="0.595" stop-color="#2c618e"/><stop offset="0.639" stop-color="#274196"/><stop offset="0.653" stop-color="#26327c"/><stop offset="0.668" stop-color="#221f4a"/><stop offset="0.682" stop-color="#0d080c"/><stop offset="0.987" stop-color="#0b0606"/></linearGradient><linearGradient id="h54"><stop offset="0.000" stop-color="#0b0606"/><stop offset="0.232" stop-color="#0b0607"/><stop offset="0.261" stop-color="#262457"/><stop offset="0.305" stop-color="#274398"/><stop offset="0.334" stop-color="#2b5a93"/><stop offset="0.377" stop-color="#284b9e"/><stop offset="0.406" stop-color="#2b5f90"/><stop offset="0.435" stop-color="#327a65"/><stop offset="0.479" stop-color="#327a65"/><stop offset="0.522" stop-color="#2b608f"/><stop offset="0.552" stop-color="#2a5994"/><stop offset="0.581" stop-color="#2c618e"/><stop offset="0.624" stop-color="#2848a0"/><stop offset="0.653" stop-color="#28479e"/><stop offset="0.682" stop-color="#26337e"/><stop offset="0.697" stop-color="#282965"/><stop offset="0.740" stop-color="#27255a"/><stop offset="0.755" stop-color="#1c1838"/><stop offset="0.769" stop-color="#0b0607"/><stop offset="0.987" stop-color="#0b0606"/></linearGradient><linearGradient id="h55"><stop offset="0.000" stop-color="#0b0606"/><stop offset="0.232" stop-color="#0b0607"/><stop offset="0.261" stop-color="#252353"/><stop offset="0.290" stop-color="#273b8c"/><stop offset="0.305" stop-color="#294f9b"/><stop offset="0.334" stop-color="#2c648c"/><stop offset="0.377" stop-color="#2e6c7e"/><stop offset="0.464" stop-color="#418d4e"/><stop offset="0.508" stop-color="#479346"/><stop offset="0.552" stop-color="#2f7175"/><stop offset="0.624" stop-color="#2d6884"/><stop offset="0.668" stop-color="#2848a0"/><stop offset="0.697" stop-color="#28449a"/><stop offset="0.711" stop-color="#263888"/><stop offset="0.740" stop-color="#221f4a"/><stop offset="0.827" stop-color="#23214e"/><stop offset="0.842" stop-color="#1d1a3d"/><stop offset="0.856" stop-color="#0e0910"/><stop offset="0.885" stop-color="#0b0606"/><stop offset="0.987" stop-color="#0b0606"/></linearGradient><linearGradient id="h56"><stop offset="0.000" stop-color="#0b0606"/><stop offset="0.232" stop-color="#0b0607"/><stop offset="0.261" stop-color="#28275e"/><stop offset="0.290" stop-color="#2848a0"/><stop offset="0.305" stop-color="#2a5994"/><stop offset="0.334" stop-color="#2b5d91"/><stop offset="0.348" stop-color="#2d6786"/><stop offset="0.377" stop-color="#3d8953"/><stop offset="0.392" stop-color="#489245"/><stop offset="0.421" stop-color="#518841"/><stop offset="0.450" stop-color="#449149"/><stop offset="0.479" stop-color="#3a8458"/><stop offset="0.522" stop-color="#43904b"/><stop offset="0.552" stop-color="#479346"/><stop offset="0.566" stop-color="#5d7c3b"/><stop offset="0.581" stop-color="#637638"/><stop offset="0.595" stop-color="#528840"/><stop offset="0.610" stop-color="#418d4e"/><stop offset="0.682" stop-color="#2c6589"/><stop offset="0.711" stop-color="#28459b"/><stop offset="0.740" stop-color="#272b6a"/><stop offset="0.784" stop-color="#272558"/><stop offset="0.827" stop-color="#211e47"/><stop offset="0.842" stop-color="#221f49"/><stop offset="0.871" stop-color="#273077"/><stop offset="0.885" stop-color="#263481"/><stop offset="0.914" stop-color="#272d70"/><stop offset="0.943" stop-color="#0b0607"/><stop offset="0.987" stop-color="#0b0606"/></linearGradient><linearGradient id="h57"><stop offset="0.000" stop-color="#0b0606"/><stop offset="0.218" stop-color="#0b0607"/><stop offset="0.232" stop-color="#100c16"/><stop offset="0.247" stop-color="#282861"/><stop offset="0.261" stop-color="#284399"/><stop offset="0.305" stop-color="#2d6787"/><stop offset="0.348" stop-color="#307273"/><stop offset="0.392" stop-color="#408c4f"/><stop offset="0.450" stop-color="#459347"/><stop offset="0.508" stop-color="#766432"/><stop offset="0.537" stop-color="#6b6d34"/><stop offset="0.566" stop-color="#418d4e"/><stop offset="0.595" stop-color="#357e60"/><stop offset="0.668" stop-color="#2e6c7e"/><stop offset="0.682" stop-color="#2e6d7c"/><stop offset="0.697" stop-color="#2c6689"/><stop offset="0.711" stop-color="#294d9c"/><stop offset="0.726" stop-color="#263482"/><stop offset="0.755" stop-color="#1d1a3c"/><stop offset="0.784" stop-color="#1b1836"/><stop offset="0.842" stop-color="#1d193a"/><stop offset="0.871" stop-color="#211e46"/><stop offset="0.900" stop-color="#1f1c42"/><stop offset="0.943" stop-color="#272d6e"/><stop offset="0.958" stop-color="#272d6f"/><stop offset="0.972" stop-color="#282862"/><stop offset="0.987" stop-color="#1a1633"/></linearGradient><linearGradient id="h58"><stop offset="0.000" stop-color="#0b0606"/><stop offset="0.218" stop-color="#0b0607"/><stop offset="0.232" stop-color="#130f20"/><stop offset="0.247" stop-color="#282965"/><stop offset="0.261" stop-color="#273c8d"/><stop offset="0.276" stop-color="#2848a0"/><stop offset="0.305" stop-color="#2b608f"/><stop offset="0.348" stop-color="#2c638c"/><stop offset="0.377" stop-color="#357e5f"/><stop offset="0.421" stop-color="#4b8e43"/><stop offset="0.464" stop-color="#96482d"/><stop offset="0.479" stop-color="#a23f2c"/><stop offset="0.508" stop-color="#934b2e"/><stop offset="0.552" stop-color="#5a7f3d"/><stop offset="0.566" stop-color="#479346"/><stop offset="0.595" stop-color="#398359"/><stop offset="0.624" stop-color="#3e8952"/><stop offset="0.639" stop-color="#3a8458"/><stop offset="0.668" stop-color="#2b5b92"/><stop offset="0.682" stop-color="#28499f"/><stop offset="0.755" stop-color="#1f1c41"/><stop offset="0.769" stop-color="#1c1938"/><stop offset="0.784" stop-color="#1d1a3d"/><stop offset="0.813" stop-color="#28275f"/><stop offset="0.871" stop-color="#201e46"/><stop offset="0.900" stop-color="#191631"/><stop offset="0.914" stop-color="#1c193a"/><stop offset="0.943" stop-color="#282965"/><stop offset="0.958" stop-color="#272a67"/><stop offset="0.972" stop-color="#27255a"/><stop offset="0.987" stop-color="#18152e"/></linearGradient><linearGradient id="h59"><stop offset="0.000" stop-color="#0b0606"/><stop offset="0.232" stop-color="#0c0709"/><stop offset="0.261" stop-color="#282860"/><stop offset="0.290" stop-color="#28479f"/><stop offset="0.319" stop-color="#2c618e"/><stop offset="0.348" stop-color="#39825a"/><stop offset="0.363" stop-color="#4c8d43"/><stop offset="0.377" stop-color="#696f35"/><stop offset="0.392" stop-color="#746533"/><stop offset="0.421" stop-color="#538640"/><stop offset="0.435" stop-color="#538640"/><stop offset="0.450" stop-color="#647538"/><stop offset="0.479" stop-color="#a43f2c"/><stop offset="0.493" stop-color="#be372d"/><stop offset="0.508" stop-color="#c4342e"/><stop offset="0.537" stop-color="#a0402c"/><stop offset="0.566" stop-color="#7d5e31"/><stop offset="0.595" stop-color="#726733"/><stop offset="0.610" stop-color="#617739"/><stop offset="0.624" stop-color="#449149"/><stop offset="0.639" stop-color="#327a63"/><stop offset="0.653" stop-color="#2f6e79"/><stop offset="0.682" stop-color="#307272"/><stop offset="0.697" stop-color="#2e6d7c"/><stop offset="0.711" stop-color="#2a5398"/><stop offset="0.726" stop-color="#263887"/><stop offset="0.740" stop-color="#272b68"/><stop offset="0.755" stop-color="#28265d"/><stop offset="0.813" stop-color="#282860"/><stop offset="0.856" stop-color="#201d45"/><stop offset="0.885" stop-color="#221f49"/><stop offset="0.929" stop-color="#120e1d"/><stop offset="0.972" stop-color="#0f0b14"/><stop offset="0.987" stop-color="#0b0607"/></linearGradient><linearGradient id="h60"><stop offset="0.000" stop-color="#0b0606"/><stop offset="0.232" stop-color="#0c0709"/><stop offset="0.261" stop-color="#282863"/><stop offset="0.290" stop-color="#28449b"/><stop offset="0.305" stop-color="#2b5e91"/><stop offset="0.319" stop-color="#30746f"/><stop offset="0.334" stop-color="#37805d"/><stop offset="0.377" stop-color="#3f8b50"/><stop offset="0.392" stop-color="#4f8a42"/><stop offset="0.435" stop-color="#924c2e"/><stop offset="0.493" stop-color="#a63e2c"/><stop offset="0.566" stop-color="#766332"/><stop offset="0.610" stop-color="#469347"/><stop offset="0.653" stop-color="#317868"/><stop offset="0.668" stop-color="#2d6886"/><stop offset="0.697" stop-color="#284b9e"/><stop offset="0.726" stop-color="#263787"/><stop offset="0.755" stop-color="#272e71"/><stop offset="0.784" stop-color="#272c6d"/><stop offset="0.871" stop-color="#1a1632"/><stop offset="0.900" stop-color="#0e0a11"/><stop offset="0.929" stop-color="#130f1f"/><stop offset="0.958" stop-color="#1a1632"/><stop offset="0.972" stop-color="#151123"/><stop offset="0.987" stop-color="#0b0607"/></linearGradient><linearGradient id="h61"><stop offset="0.000" stop-color="#0b0606"/><stop offset="0.232" stop-color="#0b0607"/><stop offset="0.247" stop-color="#1d1a3c"/><stop offset="0.261" stop-color="#26337e"/><stop offset="0.276" stop-color="#28479e"/><stop offset="0.290" stop-color="#2b5f8f"/><stop offset="0.305" stop-color="#327a64"/><stop offset="0.319" stop-color="#3c8755"/><stop offset="0.363" stop-color="#307371"/><stop offset="0.377" stop-color="#39835a"/><stop offset="0.392" stop-color="#5b7e3c"/><stop offset="0.406" stop-color="#97472d"/><stop offset="0.421" stop-color="#c1352e"/><stop offset="0.435" stop-color="#ce3931"/><stop offset="0.450" stop-color="#cd3831"/><stop offset="0.464" stop-color="#c0362d"/><stop offset="0.479" stop-color="#a53e2c"/><stop offset="0.493" stop-color="#885430"/><stop offset="0.508" stop-color="#7b5f32"/><stop offset="0.537" stop-color="#7f5c31"/><stop offset="0.581" stop-color="#499145"/><stop offset="0.610" stop-color="#347d61"/><stop offset="0.624" stop-color="#2d6885"/><stop offset="0.639" stop-color="#2b5a93"/><stop offset="0.682" stop-color="#28499f"/><stop offset="0.711" stop-color="#263583"/><stop offset="0.740" stop-color="#26337f"/><stop offset="0.784" stop-color="#242252"/><stop offset="0.798" stop-color="#1d1a3d"/><stop offset="0.813" stop-color="#1c193a"/><stop offset="0.842" stop-color="#272b6b"/><stop offset="0.856" stop-color="#272e72"/><stop offset="0.871" stop-color="#282861"/><stop offset="0.900" stop-color="#151124"/><stop offset="0.914" stop-color="#141021"/><stop offset="0.943" stop-color="#1c1939"/><stop offset="0.972" stop-color="#1a1632"/><stop offset="0.987" stop-color="#100c17"/></linearGradient><linearGradient id="h62"><stop offset="0.000" stop-color="#0b0606"/><stop offset="0.232" stop-color="#0c070a"/><stop offset="0.261" stop-color="#272e71"/><stop offset="0.276" stop-color="#273d90"/><stop offset="0.290" stop-color="#284b9e"/><stop offset="0.319" stop-color="#2b608f"/><stop offset="0.348" stop-color="#3c8755"/><stop offset="0.363" stop-color="#469347"/><stop offset="0.377" stop-color="#5a7f3c"/><stop offset="0.406" stop-color="#b8382d"/><stop offset="0.421" stop-color="#ce3931"/><stop offset="0.464" stop-color="#d4553f"/><stop offset="0.479" stop-color="#d3503c"/><stop offset="0.493" stop-color="#cd3630"/><stop offset="0.508" stop-color="#a43f2c"/><stop offset="0.522" stop-color="#776332"/><stop offset="0.537" stop-color="#58813e"/><stop offset="0.552" stop-color="#428f4c"/><stop offset="0.581" stop-color="#31756d"/><stop offset="0.595" stop-color="#2c658a"/><stop offset="0.624" stop-color="#2a5497"/><stop offset="0.668" stop-color="#2c618e"/><stop offset="0.711" stop-color="#295299"/><stop offset="0.726" stop-color="#274296"/><stop offset="0.769" stop-color="#221f4a"/><stop offset="0.813" stop-color="#110c18"/><stop offset="0.827" stop-color="#110c18"/><stop offset="0.871" stop-color="#211f49"/><stop offset="0.914" stop-color="#191631"/><stop offset="0.929" stop-color="#1c1939"/><stop offset="0.972" stop-color="#272d6e"/><stop offset="0.987" stop-color="#242251"/></linearGradient><linearGradient id="h63"><stop offset="0.000" stop-color="#0b0606"/><stop offset="0.232" stop-color="#0b0607"/><stop offset="0.276" stop-color="#242251"/><stop offset="0.305" stop-color="#28459b"/><stop offset="0.319" stop-color="#2b5f90"/><stop offset="0.348" stop-color="#38815b"/><stop offset="0.363" stop-color="#428f4c"/><stop offset="0.377" stop-color="#59803d"/><stop offset="0.406" stop-color="#ab3d2c"/><stop offset="0.421" stop-color="#cc332e"/><stop offset="0.435" stop-color="#d14638"/><stop offset="0.450" stop-color="#d24d3b"/><stop offset="0.479" stop-color="#cd3630"/><stop offset="0.493" stop-color="#b43a2d"/><stop offset="0.522" stop-color="#7d5e31"/><stop offset="0.581" stop-color="#538740"/><stop offset="0.595" stop-color="#44914a"/><stop offset="0.639" stop-color="#307175"/><stop offset="0.653" stop-color="#307272"/><stop offset="0.668" stop-color="#2f6d7b"/><stop offset="0.697" stop-color="#294e9c"/><stop offset="0.726" stop-color="#274196"/><stop offset="0.769" stop-color="#28265d"/><stop offset="0.813" stop-color="#262456"/><stop offset="0.842" stop-color="#262457"/><stop offset="0.871" stop-color="#23204c"/><stop offset="0.885" stop-color="#242150"/><stop offset="0.914" stop-color="#1a1632"/><stop offset="0.929" stop-color="#141021"/><stop offset="0.943" stop-color="#141021"/><stop offset="0.972" stop-color="#211e48"/><stop offset="0.987" stop-color="#1a1734"/></linearGradient><linearGradient id="h64"><stop offset="0.000" stop-color="#0b0606"/><stop offset="0.218" stop-color="#0b0607"/><stop offset="0.232" stop-color="#100c17"/><stop offset="0.247" stop-color="#28275e"/><stop offset="0.261" stop-color="#273a8a"/><stop offset="0.290" stop-color="#294e9c"/><stop offset="0.305" stop-color="#2c658a"/><stop offset="0.319" stop-color="#327a65"/><stop offset="0.334" stop-color="#3a8459"/><stop offset="0.363" stop-color="#38815c"/><stop offset="0.377" stop-color="#408c4f"/><stop offset="0.392" stop-color="#5f793a"/><stop offset="0.406" stop-color="#8b512f"/><stop offset="0.421" stop-color="#a73e2c"/><stop offset="0.464" stop-color="#c0362d"/><stop offset="0.479" stop-color="#c0362d"/><stop offset="0.493" stop-color="#af3b2d"/><stop offset="0.522" stop-color="#637638"/><stop offset="0.552" stop-color="#54863f"/><stop offset="0.581" stop-color="#459347"/><stop offset="0.639" stop-color="#31756e"/><stop offset="0.682" stop-color="#2d6884"/><stop offset="0.711" stop-color="#28469c"/><stop offset="0.726" stop-color="#263584"/><stop offset="0.755" stop-color="#272f75"/><stop offset="0.784" stop-color="#272f74"/><stop offset="0.856" stop-color="#1c1939"/><stop offset="0.900" stop-color="#1d1a3b"/><stop offset="0.929" stop-color="#262355"/><stop offset="0.972" stop-color="#23204c"/><stop offset="0.987" stop-color="#17132a"/></linearGradient><linearGradient id="h65"><stop offset="0.000" stop-color="#0b0606"/><stop offset="0.218" stop-color="#0b0607"/><stop offset="0.232" stop-color="#0d080d"/><stop offset="0.247" stop-color="#22204b"/><stop offset="0.261" stop-color="#263685"/><stop offset="0.276" stop-color="#284b9e"/><stop offset="0.305" stop-color="#2d6786"/><stop offset="0.334" stop-color="#2e6b7f"/><stop offset="0.392" stop-color="#36805e"/><stop offset="0.406" stop-color="#418d4e"/><stop offset="0.435" stop-color="#657438"/><stop offset="0.464" stop-color="#677136"/><stop offset="0.493" stop-color="#835830"/><stop offset="0.537" stop-color="#845830"/><stop offset="0.566" stop-color="#687036"/><stop offset="0.610" stop-color="#5f7a3a"/><stop offset="0.624" stop-color="#4e8c42"/><stop offset="0.653" stop-color="#3f8b50"/><stop offset="0.682" stop-color="#38825a"/><stop offset="0.711" stop-color="#2b5a93"/><stop offset="0.726" stop-color="#274094"/><stop offset="0.755" stop-color="#22204b"/><stop offset="0.769" stop-color="#1c193a"/><stop offset="0.813" stop-color="#1e1b3f"/><stop offset="0.900" stop-color="#282965"/><stop offset="0.929" stop-color="#201e46"/><stop offset="0.943" stop-color="#23214e"/><stop offset="0.958" stop-color="#272a67"/><stop offset="0.972" stop-color="#272f74"/><stop offset="0.987" stop-color="#23214e"/></linearGradient><linearGradient id="h66"><stop offset="0.000" stop-color="#0b0606"/><stop offset="0.218" stop-color="#0b0607"/><stop offset="0.232" stop-color="#0e0910"/><stop offset="0.261" stop-color="#272c6c"/><stop offset="0.305" stop-color="#28499f"/><stop offset="0.319" stop-color="#2b5d91"/><stop offset="0.348" stop-color="#428f4c"/><stop offset="0.363" stop-color="#528740"/><stop offset="0.392" stop-color="#499144"/><stop offset="0.435" stop-color="#647438"/><stop offset="0.479" stop-color="#4f8b42"/><stop offset="0.522" stop-color="#7d5e31"/><stop offset="0.566" stop-color="#528841"/><stop offset="0.595" stop-color="#54853f"/><stop offset="0.610" stop-color="#479345"/><stop offset="0.639" stop-color="#307370"/><stop offset="0.697" stop-color="#2e6c7e"/><stop offset="0.726" stop-color="#294c9d"/><stop offset="0.755" stop-color="#272e72"/><stop offset="0.798" stop-color="#262456"/><stop offset="0.827" stop-color="#18152e"/><stop offset="0.900" stop-color="#130f1e"/><stop offset="0.958" stop-color="#1f1c42"/><stop offset="0.972" stop-color="#1d1a3c"/><stop offset="0.987" stop-color="#110d1a"/></linearGradient><linearGradient id="h67"><stop offset="0.000" stop-color="#0b0606"/><stop offset="0.218" stop-color="#0b0607"/><stop offset="0.232" stop-color="#161228"/><stop offset="0.247" stop-color="#272b69"/><stop offset="0.261" stop-color="#273f92"/><stop offset="0.276" stop-color="#2a5398"/><stop offset="0.305" stop-color="#3c8755"/><stop offset="0.334" stop-color="#459347"/><stop offset="0.406" stop-color="#43914a"/><stop offset="0.435" stop-color="#3e8953"/><stop offset="0.450" stop-color="#43904b"/><stop offset="0.479" stop-color="#5e7b3b"/><stop offset="0.493" stop-color="#59803d"/><stop offset="0.508" stop-color="#449149"/><stop offset="0.522" stop-color="#37815c"/><stop offset="0.552" stop-color="#357f5f"/><stop offset="0.595" stop-color="#3c8755"/><stop offset="0.697" stop-color="#2b5b92"/><stop offset="0.711" stop-color="#294e9c"/><stop offset="0.726" stop-color="#273c8e"/><stop offset="0.755" stop-color="#262457"/><stop offset="0.798" stop-color="#1f1d43"/><stop offset="0.813" stop-color="#1b1836"/><stop offset="0.827" stop-color="#1c1939"/><stop offset="0.856" stop-color="#262456"/><stop offset="0.871" stop-color="#211e47"/><stop offset="0.885" stop-color="#17132a"/><stop offset="0.900" stop-color="#120e1b"/><stop offset="0.943" stop-color="#1f1c41"/><stop offset="0.972" stop-color="#272a66"/><stop offset="0.987" stop-color="#221f49"/></linearGradient><linearGradient id="h68"><stop offset="0.000" stop-color="#0b0606"/><stop offset="0.218" stop-color="#0b0607"/><stop offset="0.232" stop-color="#100b14"/><stop offset="0.247" stop-color="#27255a"/><stop offset="0.261" stop-color="#263888"/><stop offset="0.276" stop-color="#28459c"/><stop offset="0.305" stop-color="#2c648c"/><stop offset="0.348" stop-color="#307371"/><stop offset="0.392" stop-color="#459347"/><stop offset="0.450" stop-color="#5c7d3c"/><stop offset="0.508" stop-color="#528740"/><stop offset="0.537" stop-color="#4d8d43"/><stop offset="0.581" stop-color="#647438"/><stop offset="0.595" stop-color="#5c7d3b"/><stop offset="0.610" stop-color="#499145"/><stop offset="0.639" stop-color="#3c8656"/><stop offset="0.668" stop-color="#3a8557"/><stop offset="0.726" stop-color="#2b5d91"/><stop offset="0.740" stop-color="#284b9e"/><stop offset="0.769" stop-color="#26337f"/><stop offset="0.813" stop-color="#272c6d"/><stop offset="0.856" stop-color="#1b1836"/><stop offset="0.871" stop-color="#18142d"/><stop offset="0.914" stop-color="#221f4a"/><stop offset="0.972" stop-color="#272f75"/><stop offset="0.987" stop-color="#252252"/></linearGradient><linearGradient id="h69"><stop offset="0.000" stop-color="#0b0606"/><stop offset="0.232" stop-color="#0b0607"/><stop offset="0.276" stop-color="#272a67"/><stop offset="0.290" stop-color="#26337f"/><stop offset="0.305" stop-color="#263685"/><stop offset="0.319" stop-color="#26327d"/><stop offset="0.334" stop-color="#263584"/><stop offset="0.348" stop-color="#284399"/><stop offset="0.377" stop-color="#2c6589"/><stop offset="0.406" stop-color="#337b63"/><stop offset="0.450" stop-color="#449149"/><stop offset="0.493" stop-color="#756433"/><stop offset="0.537" stop-color="#55853f"/><stop offset="0.552" stop-color="#489245"/><stop offset="0.624" stop-color="#37805d"/><stop offset="0.668" stop-color="#38815c"/><stop offset="0.682" stop-color="#327a64"/><stop offset="0.711" stop-color="#2b5e90"/><stop offset="0.726" stop-color="#28459c"/><stop offset="0.755" stop-color="#28275f"/><stop offset="0.871" stop-color="#1b1837"/><stop offset="0.914" stop-color="#1b1836"/><stop offset="0.943" stop-color="#201e46"/><stop offset="0.958" stop-color="#1d1a3c"/><stop offset="0.987" stop-color="#0b0607"/></linearGradient><linearGradient id="h70"><stop offset="0.000" stop-color="#0b0606"/><stop offset="0.232" stop-color="#0b0607"/><stop offset="0.261" stop-color="#27255a"/><stop offset="0.290" stop-color="#28469c"/><stop offset="0.305" stop-color="#2a5597"/><stop offset="0.363" stop-color="#2c658b"/><stop offset="0.392" stop-color="#357d60"/><stop offset="0.421" stop-color="#408d4e"/><stop offset="0.435" stop-color="#518841"/><stop offset="0.464" stop-color="#845830"/><stop offset="0.479" stop-color="#8a532f"/><stop offset="0.552" stop-color="#59803d"/><stop offset="0.581" stop-color="#538640"/><stop offset="0.595" stop-color="#43914a"/><stop offset="0.624" stop-color="#2f6e7a"/><stop offset="0.639" stop-color="#2e6c7e"/><stop offset="0.668" stop-color="#327867"/><stop offset="0.682" stop-color="#30746f"/><stop offset="0.711" stop-color="#295299"/><stop offset="0.726" stop-color="#273c8e"/><stop offset="0.755" stop-color="#242250"/><stop offset="0.769" stop-color="#201d44"/><stop offset="0.798" stop-color="#1d193b"/><stop offset="0.827" stop-color="#140f20"/><stop offset="0.856" stop-color="#1e1a3d"/><stop offset="0.885" stop-color="#1d1a3b"/><stop offset="0.972" stop-color="#130f1e"/><stop offset="0.987" stop-color="#0b0607"/></linearGradient><linearGradient id="h71"><stop offset="0.000" stop-color="#0b0606"/><stop offset="0.232" stop-color="#0b0607"/><stop offset="0.261" stop-color="#272f73"/><stop offset="0.276" stop-color="#273f93"/><stop offset="0.290" stop-color="#295199"/><stop offset="0.319" stop-color="#2c648c"/><stop offset="0.363" stop-color="#2c628e"/><stop offset="0.392" stop-color="#2f6f77"/><stop offset="0.421" stop-color="#3d8953"/><stop offset="0.464" stop-color="#428f4b"/><stop offset="0.493" stop-color="#607839"/><stop offset="0.537" stop-color="#637538"/><stop offset="0.581" stop-color="#469347"/><stop offset="0.595" stop-color="#398459"/><stop offset="0.610" stop-color="#2e6a80"/><stop offset="0.624" stop-color="#295299"/><stop offset="0.639" stop-color="#284a9e"/><stop offset="0.668" stop-color="#2b5b93"/><stop offset="0.697" stop-color="#294e9c"/><stop offset="0.726" stop-color="#263686"/><stop offset="0.784" stop-color="#1d1a3d"/><stop offset="0.827" stop-color="#0f0a12"/><stop offset="0.885" stop-color="#0b0607"/><stop offset="0.900" stop-color="#0f0a13"/><stop offset="0.929" stop-color="#201d44"/><stop offset="0.958" stop-color="#1f1c42"/><stop offset="0.972" stop-color="#1b1837"/><stop offset="0.987" stop-color="#110c18"/></linearGradient><linearGradient id="h72"><stop offset="0.000" stop-color="#0b0606"/><stop offset="0.232" stop-color="#0b0607"/><stop offset="0.261" stop-color="#272e73"/><stop offset="0.276" stop-color="#273e91"/><stop offset="0.290" stop-color="#295299"/><stop offset="0.334" stop-color="#2f7076"/><stop offset="0.363" stop-color="#3f8b50"/><stop offset="0.421" stop-color="#4a8f44"/><stop offset="0.450" stop-color="#6a6e35"/><stop offset="0.493" stop-color="#5e7b3b"/><stop offset="0.537" stop-color="#835830"/><stop offset="0.595" stop-color="#489145"/><stop offset="0.624" stop-color="#2f6f78"/><stop offset="0.639" stop-color="#2c628e"/><stop offset="0.668" stop-color="#2a5994"/><stop offset="0.697" stop-color="#2e6a82"/><stop offset="0.711" stop-color="#2c658b"/><stop offset="0.726" stop-color="#29509a"/><stop offset="0.740" stop-color="#273b8d"/><stop offset="0.784" stop-color="#23214e"/><stop offset="0.813" stop-color="#18152f"/><stop offset="0.871" stop-color="#171329"/><stop offset="0.958" stop-color="#272b6b"/><stop offset="0.972" stop-color="#282965"/><stop offset="0.987" stop-color="#1b1735"/></linearGradient><linearGradient id="h73"><stop offset="0.000" stop-color="#0b0606"/><stop offset="0.232" stop-color="#0b0607"/><stop offset="0.247" stop-color="#130f1e"/><stop offset="0.261" stop-color="#272559"/><stop offset="0.276" stop-color="#26337e"/><stop offset="0.290" stop-color="#274094"/><stop offset="0.305" stop-color="#295299"/><stop offset="0.334" stop-color="#2f7075"/><stop offset="0.363" stop-color="#2e6b7e"/><stop offset="0.406" stop-color="#38815b"/><stop offset="0.435" stop-color="#449149"/><stop offset="0.464" stop-color="#4e8b42"/><stop offset="0.493" stop-color="#43914a"/><stop offset="0.508" stop-color="#4c8e43"/><stop offset="0.537" stop-color="#716833"/><stop offset="0.552" stop-color="#667337"/><stop offset="0.566" stop-color="#4a9044"/><stop offset="0.595" stop-color="#2f6e7a"/><stop offset="0.610" stop-color="#2b5d91"/><stop offset="0.653" stop-color="#2a5398"/><stop offset="0.711" stop-color="#28449a"/><stop offset="0.740" stop-color="#272d70"/><stop offset="0.755" stop-color="#262355"/><stop offset="0.769" stop-color="#211e48"/><stop offset="0.813" stop-color="#1f1d43"/><stop offset="0.842" stop-color="#1c1838"/><stop offset="0.856" stop-color="#1d1a3d"/><stop offset="0.900" stop-color="#272e73"/><stop offset="0.943" stop-color="#272f74"/><stop offset="0.972" stop-color="#273078"/><stop offset="0.987" stop-color="#23204d"/></linearGradient><linearGradient id="h74"><stop offset="0.000" stop-color="#0b0606"/><stop offset="0.232" stop-color="#0b0607"/><stop offset="0.276" stop-color="#28265b"/><stop offset="0.305" stop-color="#28459b"/><stop offset="0.348" stop-color="#284a9f"/><stop offset="0.377" stop-color="#2e6d7c"/><stop offset="0.392" stop-color="#307370"/><stop offset="0.450" stop-color="#2f7076"/><stop offset="0.493" stop-color="#469446"/><stop offset="0.522" stop-color="#3c8755"/><stop offset="0.552" stop-color="#347d61"/><stop offset="0.581" stop-color="#3f8b50"/><stop offset="0.595" stop-color="#3e8a52"/><stop offset="0.610" stop-color="#327966"/><stop offset="0.624" stop-color="#2b608f"/><stop offset="0.639" stop-color="#294d9c"/><stop offset="0.711" stop-color="#28479f"/><stop offset="0.740" stop-color="#272d6f"/><stop offset="0.769" stop-color="#171329"/><stop offset="0.842" stop-color="#110c18"/><stop offset="0.900" stop-color="#18142c"/><stop offset="0.972" stop-color="#100b15"/><stop offset="0.987" stop-color="#0b0607"/></linearGradient><linearGradient id="h75"><stop offset="0.000" stop-color="#0b0606"/><stop offset="0.232" stop-color="#0b0607"/><stop offset="0.261" stop-color="#272a66"/><stop offset="0.290" stop-color="#263380"/><stop offset="0.305" stop-color="#274398"/><stop offset="0.334" stop-color="#2c638d"/><stop offset="0.377" stop-color="#294c9d"/><stop offset="0.421" stop-color="#2c628d"/><stop offset="0.450" stop-color="#2c638d"/><stop offset="0.493" stop-color="#3a8458"/><stop offset="0.522" stop-color="#479346"/><stop offset="0.566" stop-color="#538640"/><stop offset="0.581" stop-color="#4b8e43"/><stop offset="0.610" stop-color="#31756d"/><stop offset="0.653" stop-color="#2a5895"/><stop offset="0.682" stop-color="#28449a"/><stop offset="0.755" stop-color="#221f4b"/><stop offset="0.769" stop-color="#1b1735"/><stop offset="0.798" stop-color="#1b1837"/><stop offset="0.885" stop-color="#1b1735"/><stop offset="0.929" stop-color="#18142c"/><stop offset="0.943" stop-color="#161227"/><stop offset="0.972" stop-color="#1c193a"/><stop offset="0.987" stop-color="#130f1f"/></linearGradient><linearGradient id="h76"><stop offset="0.000" stop-color="#0b0606"/><stop offset="0.232" stop-color="#0b0607"/><stop offset="0.261" stop-color="#282964"/><stop offset="0.290" stop-color="#273e91"/><stop offset="0.305" stop-color="#294d9c"/><stop offset="0.334" stop-color="#2b5b93"/><stop offset="0.377" stop-color="#284a9e"/><stop offset="0.421" stop-color="#2c648c"/><stop offset="0.450" stop-color="#337b63"/><stop offset="0.522" stop-color="#449149"/><stop offset="0.552" stop-color="#57833e"/><stop offset="0.566" stop-color="#4e8b42"/><stop offset="0.581" stop-color="#3d8953"/><stop offset="0.610" stop-color="#2f6f78"/><stop offset="0.653" stop-color="#2d6689"/><stop offset="0.697" stop-color="#284a9f"/><stop offset="0.711" stop-color="#28449a"/><stop offset="0.726" stop-color="#263583"/><stop offset="0.740" stop-color="#28265d"/><stop offset="0.755" stop-color="#1d1a3c"/><stop offset="0.769" stop-color="#1a1733"/><stop offset="0.813" stop-color="#282963"/><stop offset="0.827" stop-color="#272a68"/><stop offset="0.842" stop-color="#28275f"/><stop offset="0.871" stop-color="#18142c"/><stop offset="0.885" stop-color="#120e1c"/><stop offset="0.900" stop-color="#141020"/><stop offset="0.943" stop-color="#28265b"/><stop offset="0.972" stop-color="#272a66"/><stop offset="0.987" stop-color="#1d1a3d"/></linearGradient><linearGradient id="h77"><stop offset="0.000" stop-color="#0b0606"/><stop offset="0.232" stop-color="#0b0708"/><stop offset="0.261" stop-color="#272558"/><stop offset="0.290" stop-color="#273f93"/><stop offset="0.305" stop-color="#294d9d"/><stop offset="0.348" stop-color="#294f9b"/><stop offset="0.377" stop-color="#2c658a"/><stop offset="0.406" stop-color="#337b63"/><stop offset="0.435" stop-color="#38815c"/><stop offset="0.464" stop-color="#31756d"/><stop offset="0.479" stop-color="#3a8557"/><stop offset="0.493" stop-color="#5a7f3d"/><stop offset="0.508" stop-color="#7a6032"/><stop offset="0.522" stop-color="#7b6032"/><stop offset="0.566" stop-color="#4c8e43"/><stop offset="0.624" stop-color="#3d8953"/><stop offset="0.697" stop-color="#295299"/><stop offset="0.711" stop-color="#284399"/><stop offset="0.755" stop-color="#272c6e"/><stop offset="0.827" stop-color="#272e72"/><stop offset="0.871" stop-color="#252353"/><stop offset="0.900" stop-color="#1c1939"/><stop offset="0.943" stop-color="#211f49"/><stop offset="0.972" stop-color="#272c6c"/><stop offset="0.987" stop-color="#22204c"/></linearGradient><linearGradient id="h78"><stop offset="0.000" stop-color="#0b0606"/><stop offset="0.232" stop-color="#0c070a"/><stop offset="0.261" stop-color="#252252"/><stop offset="0.305" stop-color="#263888"/><stop offset="0.348" stop-color="#273f92"/><stop offset="0.363" stop-color="#284a9f"/><stop offset="0.377" stop-color="#2b5e90"/><stop offset="0.392" stop-color="#307273"/><stop offset="0.406" stop-color="#337b63"/><stop offset="0.464" stop-color="#307371"/><stop offset="0.493" stop-color="#418d4e"/><stop offset="0.522" stop-color="#58813d"/><stop offset="0.595" stop-color="#667237"/><stop offset="0.624" stop-color="#3e8a51"/><stop offset="0.653" stop-color="#2f7175"/><stop offset="0.668" stop-color="#2f6e7a"/><stop offset="0.697" stop-color="#295199"/><stop offset="0.726" stop-color="#28479f"/><stop offset="0.740" stop-color="#274398"/><stop offset="0.769" stop-color="#272a68"/><stop offset="0.798" stop-color="#262456"/><stop offset="0.813" stop-color="#262355"/><stop offset="0.856" stop-color="#263584"/><stop offset="0.871" stop-color="#26337f"/><stop offset="0.914" stop-color="#211e47"/><stop offset="0.958" stop-color="#1d1a3b"/><stop offset="0.972" stop-color="#1e1b3e"/><stop offset="0.987" stop-color="#151124"/></linearGradient><linearGradient id="h79"><stop offset="0.000" stop-color="#0b0606"/><stop offset="0.218" stop-color="#0b0607"/><stop offset="0.232" stop-color="#0d080d"/><stop offset="0.247" stop-color="#191631"/><stop offset="0.261" stop-color="#1d1a3b"/><stop offset="0.276" stop-color="#252353"/><stop offset="0.290" stop-color="#263584"/><stop offset="0.305" stop-color="#284b9e"/><stop offset="0.363" stop-color="#2b5e91"/><stop offset="0.421" stop-color="#2d6688"/><stop offset="0.450" stop-color="#327967"/><stop offset="0.479" stop-color="#347c61"/><stop offset="0.508" stop-color="#459248"/><stop offset="0.552" stop-color="#337b63"/><stop offset="0.581" stop-color="#3b8656"/><stop offset="0.610" stop-color="#31756c"/><stop offset="0.639" stop-color="#2b5f8f"/><stop offset="0.697" stop-color="#294d9c"/><stop offset="0.726" stop-color="#274298"/><stop offset="0.755" stop-color="#28265d"/><stop offset="0.784" stop-color="#211e47"/><stop offset="0.813" stop-color="#110c17"/><stop offset="0.827" stop-color="#0f0b13"/><stop offset="0.871" stop-color="#252253"/><stop offset="0.929" stop-color="#282964"/><stop offset="0.972" stop-color="#282760"/><stop offset="0.987" stop-color="#1f1c42"/></linearGradient><linearGradient id="h80"><stop offset="0.000" stop-color="#0b0606"/><stop offset="0.232" stop-color="#0b0607"/><stop offset="0.290" stop-color="#272d6e"/><stop offset="0.305" stop-color="#273077"/><stop offset="0.319" stop-color="#272e72"/><stop offset="0.334" stop-color="#263888"/><stop offset="0.348" stop-color="#2a5398"/><stop offset="0.363" stop-color="#2d6885"/><stop offset="0.406" stop-color="#307174"/><stop offset="0.450" stop-color="#3e8952"/><stop offset="0.537" stop-color="#3c8854"/><stop offset="0.581" stop-color="#398359"/><stop offset="0.610" stop-color="#36805e"/><stop offset="0.639" stop-color="#2d6884"/><stop offset="0.682" stop-color="#2c638d"/><stop offset="0.711" stop-color="#2d6688"/><stop offset="0.726" stop-color="#2b5c92"/><stop offset="0.740" stop-color="#28449a"/><stop offset="0.769" stop-color="#27255a"/><stop offset="0.798" stop-color="#211e48"/><stop offset="0.813" stop-color="#22204b"/><stop offset="0.842" stop-color="#272c6c"/><stop offset="0.871" stop-color="#272c6c"/><stop offset="0.900" stop-color="#282964"/><stop offset="0.929" stop-color="#26327b"/><stop offset="0.972" stop-color="#272d70"/><stop offset="0.987" stop-color="#23214d"/></linearGradient><linearGradient id="h81"><stop offset="0.000" stop-color="#0b0606"/><stop offset="0.247" stop-color="#0c070b"/><stop offset="0.276" stop-color="#1d1a3c"/><stop offset="0.305" stop-color="#263786"/><stop offset="0.348" stop-color="#284a9f"/><stop offset="0.406" stop-color="#294f9b"/><stop offset="0.493" stop-color="#317769"/><stop offset="0.537" stop-color="#398359"/><stop offset="0.581" stop-color="#3c8755"/><stop offset="0.610" stop-color="#428f4c"/><stop offset="0.639" stop-color="#30746f"/><stop offset="0.653" stop-color="#2c638c"/><stop offset="0.682" stop-color="#2a5597"/><stop offset="0.711" stop-color="#2a5597"/><stop offset="0.726" stop-color="#28499f"/><stop offset="0.769" stop-color="#282760"/><stop offset="0.813" stop-color="#262355"/><stop offset="0.842" stop-color="#273076"/><stop offset="0.856" stop-color="#273077"/><stop offset="0.914" stop-color="#1a1734"/><stop offset="0.943" stop-color="#140f20"/><stop offset="0.972" stop-color="#17132b"/><stop offset="0.987" stop-color="#110d1a"/></linearGradient><linearGradient id="h82"><stop offset="0.000" stop-color="#0b0606"/><stop offset="0.232" stop-color="#0b0607"/><stop offset="0.261" stop-color="#28265b"/><stop offset="0.305" stop-color="#273c8d"/><stop offset="0.334" stop-color="#273e91"/><stop offset="0.363" stop-color="#263787"/><stop offset="0.392" stop-color="#294d9d"/><stop offset="0.421" stop-color="#2d6786"/><stop offset="0.464" stop-color="#2c628e"/><stop offset="0.493" stop-color="#317868"/><stop offset="0.566" stop-color="#459348"/><stop offset="0.624" stop-color="#2e6a81"/><stop offset="0.697" stop-color="#2b5b92"/><stop offset="0.726" stop-color="#284a9f"/><stop offset="0.740" stop-color="#273e91"/><stop offset="0.784" stop-color="#1a1632"/><stop offset="0.798" stop-color="#18142c"/><stop offset="0.827" stop-color="#1a1733"/><stop offset="0.856" stop-color="#191631"/><stop offset="0.885" stop-color="#262456"/><stop offset="0.900" stop-color="#27255a"/><stop offset="0.929" stop-color="#23204c"/><stop offset="0.958" stop-color="#28275e"/><stop offset="0.972" stop-color="#272458"/><stop offset="0.987" stop-color="#18142c"/></linearGradient><linearGradient id="h83"><stop offset="0.000" stop-color="#0b0606"/><stop offset="0.232" stop-color="#0b0607"/><stop offset="0.247" stop-color="#110c18"/><stop offset="0.261" stop-color="#1b1836"/><stop offset="0.305" stop-color="#26327d"/><stop offset="0.334" stop-color="#28459c"/><stop offset="0.392" stop-color="#28499f"/><stop offset="0.435" stop-color="#2d6688"/><stop offset="0.464" stop-color="#337c62"/><stop offset="0.508" stop-color="#4a9044"/><stop offset="0.537" stop-color="#796132"/><stop offset="0.552" stop-color="#805b31"/><stop offset="0.610" stop-color="#4e8b42"/><stop offset="0.624" stop-color="#3d8854"/><stop offset="0.653" stop-color="#2b5e90"/><stop offset="0.711" stop-color="#28459c"/><stop offset="0.784" stop-color="#1d1a3d"/><stop offset="0.813" stop-color="#110c18"/><stop offset="0.856" stop-color="#17132a"/><stop offset="0.900" stop-color="#28265c"/><stop offset="0.958" stop-color="#262457"/><stop offset="0.972" stop-color="#242250"/><stop offset="0.987" stop-color="#18142c"/></linearGradient><linearGradient id="h84"><stop offset="0.000" stop-color="#0b0606"/><stop offset="0.232" stop-color="#0b0607"/><stop offset="0.247" stop-color="#110c18"/><stop offset="0.276" stop-color="#252354"/><stop offset="0.290" stop-color="#263380"/><stop offset="0.305" stop-color="#28479f"/><stop offset="0.334" stop-color="#2b5e90"/><stop offset="0.421" stop-color="#2b5b92"/><stop offset="0.435" stop-color="#2c648c"/><stop offset="0.479" stop-color="#408d4e"/><stop offset="0.493" stop-color="#56833f"/><stop offset="0.537" stop-color="#98472d"/><stop offset="0.552" stop-color="#99462d"/><stop offset="0.595" stop-color="#449149"/><stop offset="0.624" stop-color="#2e6c7d"/><stop offset="0.639" stop-color="#2b5c91"/><stop offset="0.668" stop-color="#2a5398"/><stop offset="0.697" stop-color="#29509a"/><stop offset="0.711" stop-color="#28469c"/><stop offset="0.740" stop-color="#273c8e"/><stop offset="0.769" stop-color="#273e91"/><stop offset="0.784" stop-color="#263989"/><stop offset="0.813" stop-color="#24214f"/><stop offset="0.827" stop-color="#17132a"/><stop offset="0.842" stop-color="#120d1b"/><stop offset="0.856" stop-color="#130f1f"/><stop offset="0.885" stop-color="#1e1b3f"/><stop offset="0.958" stop-color="#252353"/><stop offset="0.972" stop-color="#1f1c43"/><stop offset="0.987" stop-color="#110d18"/></linearGradient><linearGradient id="h85"><stop offset="0.000" stop-color="#0b0606"/><stop offset="0.232" stop-color="#0b0607"/><stop offset="0.247" stop-color="#151123"/><stop offset="0.261" stop-color="#282760"/><stop offset="0.290" stop-color="#28459c"/><stop offset="0.305" stop-color="#2a5498"/><stop offset="0.348" stop-color="#294e9b"/><stop offset="0.377" stop-color="#2b5f90"/><stop offset="0.421" stop-color="#294f9b"/><stop offset="0.435" stop-color="#2b5a93"/><stop offset="0.464" stop-color="#367f5e"/><stop offset="0.479" stop-color="#459347"/><stop offset="0.522" stop-color="#875530"/><stop offset="0.537" stop-color="#a33f2c"/><stop offset="0.552" stop-color="#b7392d"/><stop offset="0.566" stop-color="#ab3d2c"/><stop offset="0.595" stop-color="#4b8f44"/><stop offset="0.624" stop-color="#337b63"/><stop offset="0.653" stop-color="#2c618e"/><stop offset="0.682" stop-color="#29509b"/><stop offset="0.697" stop-color="#274296"/><stop offset="0.726" stop-color="#272a67"/><stop offset="0.769" stop-color="#272d6e"/><stop offset="0.798" stop-color="#1f1c41"/><stop offset="0.827" stop-color="#1f1c40"/><stop offset="0.900" stop-color="#28265b"/><stop offset="0.929" stop-color="#22204b"/><stop offset="0.958" stop-color="#1b1837"/><stop offset="0.972" stop-color="#1f1c41"/><stop offset="0.987" stop-color="#18152f"/></linearGradient><linearGradient id="h86"><stop offset="0.000" stop-color="#0b0606"/><stop offset="0.232" stop-color="#0b0607"/><stop offset="0.247" stop-color="#0e0910"/><stop offset="0.261" stop-color="#1f1c41"/><stop offset="0.290" stop-color="#263584"/><stop offset="0.305" stop-color="#284499"/><stop offset="0.348" stop-color="#28449a"/><stop offset="0.406" stop-color="#2b5d91"/><stop offset="0.435" stop-color="#2e6b7e"/><stop offset="0.479" stop-color="#418e4d"/><stop offset="0.493" stop-color="#538640"/><stop offset="0.537" stop-color="#a1402c"/><stop offset="0.552" stop-color="#a43f2c"/><stop offset="0.566" stop-color="#954a2e"/><stop offset="0.610" stop-color="#499044"/><stop offset="0.639" stop-color="#2f7076"/><stop offset="0.653" stop-color="#2c618e"/><stop offset="0.726" stop-color="#28469d"/><stop offset="0.755" stop-color="#263889"/><stop offset="0.784" stop-color="#242250"/><stop offset="0.827" stop-color="#18142d"/><stop offset="0.871" stop-color="#272559"/><stop offset="0.885" stop-color="#252353"/><stop offset="0.929" stop-color="#151125"/><stop offset="0.958" stop-color="#130f1e"/><stop offset="0.972" stop-color="#161328"/><stop offset="0.987" stop-color="#110c18"/></linearGradient><linearGradient id="h87"><stop offset="0.000" stop-color="#0b0606"/><stop offset="0.261" stop-color="#0b0607"/><stop offset="0.276" stop-color="#18152e"/><stop offset="0.290" stop-color="#272e71"/><stop offset="0.305" stop-color="#294c9d"/><stop offset="0.319" stop-color="#2c628d"/><stop offset="0.334" stop-color="#2c648b"/><stop offset="0.363" stop-color="#29509b"/><stop offset="0.392" stop-color="#2b5e90"/><stop offset="0.450" stop-color="#3f8b50"/><stop offset="0.464" stop-color="#499144"/><stop offset="0.493" stop-color="#60793a"/><stop offset="0.522" stop-color="#96482e"/><stop offset="0.537" stop-color="#9b442d"/><stop offset="0.595" stop-color="#5e7b3b"/><stop offset="0.610" stop-color="#459248"/><stop offset="0.639" stop-color="#2f6f77"/><stop offset="0.653" stop-color="#2d6983"/><stop offset="0.682" stop-color="#2f7077"/><stop offset="0.697" stop-color="#2e6b7f"/><stop offset="0.726" stop-color="#28499f"/><stop offset="0.740" stop-color="#28459b"/><stop offset="0.769" stop-color="#2a5795"/><stop offset="0.784" stop-color="#2a5696"/><stop offset="0.798" stop-color="#274297"/><stop offset="0.827" stop-color="#211e48"/><stop offset="0.842" stop-color="#1f1c42"/><stop offset="0.871" stop-color="#28265c"/><stop offset="0.900" stop-color="#262456"/><stop offset="0.943" stop-color="#1b1735"/><stop offset="0.972" stop-color="#19152f"/><stop offset="0.987" stop-color="#110c18"/></linearGradient><linearGradient id="h88"><stop offset="0.000" stop-color="#0b0606"/><stop offset="0.247" stop-color="#0b0607"/><stop offset="0.276" stop-color="#23214e"/><stop offset="0.290" stop-color="#273076"/><stop offset="0.305" stop-color="#273b8c"/><stop offset="0.392" stop-color="#294e9c"/><stop offset="0.421" stop-color="#2f6d7b"/><stop offset="0.435" stop-color="#31776a"/><stop offset="0.479" stop-color="#307371"/><stop offset="0.508" stop-color="#39835a"/><stop offset="0.522" stop-color="#459248"/><stop offset="0.537" stop-color="#538640"/><stop offset="0.552" stop-color="#538640"/><stop offset="0.566" stop-color="#469447"/><stop offset="0.610" stop-color="#337b63"/><stop offset="0.639" stop-color="#2c6689"/><stop offset="0.697" stop-color="#29509a"/><stop offset="0.740" stop-color="#28479e"/><stop offset="0.827" stop-color="#28275f"/><stop offset="0.856" stop-color="#273077"/><stop offset="0.885" stop-color="#272d6f"/><stop offset="0.929" stop-color="#1f1c40"/><stop offset="0.972" stop-color="#201e46"/><stop offset="0.987" stop-color="#141023"/></linearGradient><linearGradient id="h89"><stop offset="0.000" stop-color="#0b0606"/><stop offset="0.247" stop-color="#0b0607"/><stop offset="0.276" stop-color="#272b6b"/><stop offset="0.290" stop-color="#273b8c"/><stop offset="0.319" stop-color="#28479e"/><stop offset="0.363" stop-color="#2a5795"/><stop offset="0.392" stop-color="#284a9f"/><stop offset="0.421" stop-color="#28459b"/><stop offset="0.450" stop-color="#2b5b92"/><stop offset="0.479" stop-color="#30746f"/><stop offset="0.522" stop-color="#2f7175"/><stop offset="0.552" stop-color="#3a8458"/><stop offset="0.581" stop-color="#3c8656"/><stop offset="0.610" stop-color="#337b63"/><stop offset="0.639" stop-color="#2b608f"/><stop offset="0.697" stop-color="#28469d"/><stop offset="0.740" stop-color="#263583"/><stop offset="0.769" stop-color="#23214e"/><stop offset="0.827" stop-color="#161226"/><stop offset="0.842" stop-color="#1a1632"/><stop offset="0.871" stop-color="#272b6a"/><stop offset="0.885" stop-color="#272e72"/><stop offset="0.958" stop-color="#23204c"/><stop offset="0.972" stop-color="#22204c"/><stop offset="0.987" stop-color="#18142c"/></linearGradient><linearGradient id="h90"><stop offset="0.000" stop-color="#0b0606"/><stop offset="0.232" stop-color="#0b0607"/><stop offset="0.247" stop-color="#110c18"/><stop offset="0.261" stop-color="#23214e"/><stop offset="0.276" stop-color="#26327c"/><stop offset="0.290" stop-color="#284399"/><stop offset="0.305" stop-color="#294d9d"/><stop offset="0.348" stop-color="#274196"/><stop offset="0.377" stop-color="#294f9b"/><stop offset="0.435" stop-color="#2b5e90"/><stop offset="0.479" stop-color="#2b5d91"/><stop offset="0.493" stop-color="#2c658a"/><stop offset="0.522" stop-color="#38825b"/><stop offset="0.552" stop-color="#459347"/><stop offset="0.624" stop-color="#3f8b50"/><stop offset="0.653" stop-color="#347d61"/><stop offset="0.682" stop-color="#2b608f"/><stop offset="0.755" stop-color="#28459c"/><stop offset="0.784" stop-color="#273b8d"/><stop offset="0.827" stop-color="#1e1b3f"/><stop offset="0.842" stop-color="#201e46"/><stop offset="0.871" stop-color="#282965"/><stop offset="0.900" stop-color="#27255a"/><stop offset="0.929" stop-color="#1c1838"/><stop offset="0.943" stop-color="#1c1838"/><stop offset="0.972" stop-color="#272559"/><stop offset="0.987" stop-color="#1e1b3f"/></linearGradient><linearGradient id="h91"><stop offset="0.000" stop-color="#0b0606"/><stop offset="0.232" stop-color="#0b0607"/><stop offset="0.247" stop-color="#120e1d"/><stop offset="0.261" stop-color="#262456"/><stop offset="0.276" stop-color="#26337e"/><stop offset="0.290" stop-color="#274095"/><stop offset="0.305" stop-color="#28449a"/><stop offset="0.334" stop-color="#263786"/><stop offset="0.348" stop-color="#274095"/><stop offset="0.363" stop-color="#2a5696"/><stop offset="0.392" stop-color="#347d60"/><stop offset="0.406" stop-color="#36805e"/><stop offset="0.450" stop-color="#2d6885"/><stop offset="0.493" stop-color="#2d6884"/><stop offset="0.522" stop-color="#3c8656"/><stop offset="0.537" stop-color="#4c8d43"/><stop offset="0.566" stop-color="#58813d"/><stop offset="0.595" stop-color="#408c4f"/><stop offset="0.624" stop-color="#2f7076"/><stop offset="0.639" stop-color="#307273"/><stop offset="0.653" stop-color="#2e6c7d"/><stop offset="0.682" stop-color="#28479e"/><stop offset="0.726" stop-color="#272a67"/><stop offset="0.740" stop-color="#272d6e"/><stop offset="0.769" stop-color="#294c9d"/><stop offset="0.784" stop-color="#2a5597"/><stop offset="0.798" stop-color="#28459b"/><stop offset="0.813" stop-color="#272c6c"/><stop offset="0.827" stop-color="#1a1733"/><stop offset="0.842" stop-color="#100b15"/><stop offset="0.856" stop-color="#0d080d"/><stop offset="0.900" stop-color="#17132a"/><stop offset="0.958" stop-color="#1b1837"/><stop offset="0.972" stop-color="#18152f"/><stop offset="0.987" stop-color="#0e090e"/></linearGradient><linearGradient id="h92"><stop offset="0.000" stop-color="#0b0606"/><stop offset="0.232" stop-color="#0b0607"/><stop offset="0.261" stop-color="#1e1b3f"/><stop offset="0.305" stop-color="#272d70"/><stop offset="0.334" stop-color="#273d90"/><stop offset="0.377" stop-color="#28479f"/><stop offset="0.435" stop-color="#2c638d"/><stop offset="0.493" stop-color="#2b608f"/><stop offset="0.522" stop-color="#2e6c7e"/><stop offset="0.566" stop-color="#3e8952"/><stop offset="0.581" stop-color="#3d8854"/><stop offset="0.610" stop-color="#2f7175"/><stop offset="0.653" stop-color="#2f6f78"/><stop offset="0.682" stop-color="#2b5b92"/><stop offset="0.784" stop-color="#28479f"/><stop offset="0.813" stop-color="#26327c"/><stop offset="0.827" stop-color="#262456"/><stop offset="0.842" stop-color="#191631"/><stop offset="0.871" stop-color="#0f0b14"/><stop offset="0.929" stop-color="#100b15"/><stop offset="0.958" stop-color="#0b0607"/><stop offset="0.987" stop-color="#0b0607"/></linearGradient><linearGradient id="h93"><stop offset="0.000" stop-color="#0b0606"/><stop offset="0.232" stop-color="#0b0607"/><stop offset="0.247" stop-color="#17132a"/><stop offset="0.261" stop-color="#28265c"/><stop offset="0.290" stop-color="#263787"/><stop offset="0.348" stop-color="#284a9e"/><stop offset="0.435" stop-color="#28449b"/><stop offset="0.464" stop-color="#2a5597"/><stop offset="0.552" stop-color="#327a64"/><stop offset="0.610" stop-color="#31776a"/><stop offset="0.624" stop-color="#2f6f77"/><stop offset="0.639" stop-color="#2b5e91"/><stop offset="0.653" stop-color="#294c9d"/><stop offset="0.755" stop-color="#28479f"/><stop offset="0.784" stop-color="#263889"/><stop offset="0.813" stop-color="#28265b"/><stop offset="0.842" stop-color="#171329"/><stop offset="0.856" stop-color="#18142c"/><stop offset="0.885" stop-color="#22204b"/><stop offset="0.900" stop-color="#201d44"/><stop offset="0.929" stop-color="#110d1a"/><stop offset="0.943" stop-color="#110c18"/><stop offset="0.972" stop-color="#1a1734"/><stop offset="0.987" stop-color="#130f1e"/></linearGradient><linearGradient id="h94"><stop offset="0.000" stop-color="#0b0606"/><stop offset="0.232" stop-color="#0b0607"/><stop offset="0.261" stop-color="#221f4a"/><stop offset="0.305" stop-color="#28479e"/><stop offset="0.319" stop-color="#2848a0"/><stop offset="0.348" stop-color="#26337e"/><stop offset="0.363" stop-color="#263481"/><stop offset="0.377" stop-color="#273f93"/><stop offset="0.392" stop-color="#2a5498"/><stop offset="0.421" stop-color="#337b63"/><stop offset="0.435" stop-color="#367f5e"/><stop offset="0.450" stop-color="#317769"/><stop offset="0.464" stop-color="#2d6983"/><stop offset="0.479" stop-color="#2b5f90"/><stop offset="0.493" stop-color="#2b5f90"/><stop offset="0.522" stop-color="#30746e"/><stop offset="0.537" stop-color="#31766c"/><stop offset="0.610" stop-color="#2c628d"/><stop offset="0.639" stop-color="#2b5b92"/><stop offset="0.653" stop-color="#294c9d"/><stop offset="0.682" stop-color="#273f92"/><stop offset="0.697" stop-color="#28469d"/><stop offset="0.740" stop-color="#2b5a93"/><stop offset="0.769" stop-color="#284b9e"/><stop offset="0.784" stop-color="#273d8f"/><stop offset="0.813" stop-color="#262456"/><stop offset="0.827" stop-color="#201e46"/><stop offset="0.842" stop-color="#211e47"/><stop offset="0.871" stop-color="#272a66"/><stop offset="0.900" stop-color="#272a66"/><stop offset="0.929" stop-color="#262457"/><stop offset="0.958" stop-color="#17132a"/><stop offset="0.987" stop-color="#0b0608"/></linearGradient><linearGradient id="h95"><stop offset="0.000" stop-color="#0b0606"/><stop offset="0.232" stop-color="#0b0607"/><stop offset="0.247" stop-color="#0f0a13"/><stop offset="0.305" stop-color="#272c6d"/><stop offset="0.319" stop-color="#263684"/><stop offset="0.363" stop-color="#294c9d"/><stop offset="0.406" stop-color="#307273"/><stop offset="0.435" stop-color="#2f7076"/><stop offset="0.493" stop-color="#449149"/><stop offset="0.537" stop-color="#4b8f44"/><stop offset="0.552" stop-color="#408c50"/><stop offset="0.581" stop-color="#2d6884"/><stop offset="0.653" stop-color="#28499f"/><stop offset="0.711" stop-color="#2b608f"/><stop offset="0.769" stop-color="#28479e"/><stop offset="0.813" stop-color="#28275e"/><stop offset="0.827" stop-color="#28265c"/><stop offset="0.871" stop-color="#26327c"/><stop offset="0.900" stop-color="#273077"/><stop offset="0.943" stop-color="#211e48"/><stop offset="0.972" stop-color="#1c1938"/><stop offset="0.987" stop-color="#100b15"/></linearGradient><linearGradient id="h96"><stop offset="0.000" stop-color="#0b0606"/><stop offset="0.232" stop-color="#0d080b"/><stop offset="0.261" stop-color="#262456"/><stop offset="0.290" stop-color="#26327c"/><stop offset="0.348" stop-color="#2848a0"/><stop offset="0.377" stop-color="#294f9b"/><stop offset="0.392" stop-color="#2b5d91"/><stop offset="0.421" stop-color="#327965"/><stop offset="0.450" stop-color="#3a8558"/><stop offset="0.464" stop-color="#479346"/><stop offset="0.493" stop-color="#914d2e"/><stop offset="0.508" stop-color="#9f412c"/><stop offset="0.522" stop-color="#924c2e"/><stop offset="0.552" stop-color="#4e8b42"/><stop offset="0.581" stop-color="#317769"/><stop offset="0.624" stop-color="#2e6a82"/><stop offset="0.653" stop-color="#2849a0"/><stop offset="0.668" stop-color="#273e91"/><stop offset="0.769" stop-color="#28499f"/><stop offset="0.798" stop-color="#273a8a"/><stop offset="0.827" stop-color="#272a66"/><stop offset="0.900" stop-color="#26317a"/><stop offset="0.914" stop-color="#272e71"/><stop offset="0.943" stop-color="#1d1a3c"/><stop offset="0.987" stop-color="#0b0607"/></linearGradient><linearGradient id="h97"><stop offset="0.000" stop-color="#0b0606"/><stop offset="0.232" stop-color="#0b0607"/><stop offset="0.247" stop-color="#0f0b14"/><stop offset="0.276" stop-color="#27255a"/><stop offset="0.290" stop-color="#26337e"/><stop offset="0.305" stop-color="#273e91"/><stop offset="0.348" stop-color="#273c8e"/><stop offset="0.377" stop-color="#294e9c"/><stop offset="0.421" stop-color="#2d6885"/><stop offset="0.435" stop-color="#337b63"/><stop offset="0.450" stop-color="#418d4e"/><stop offset="0.479" stop-color="#4a9044"/><stop offset="0.522" stop-color="#44914a"/><stop offset="0.624" stop-color="#428f4c"/><stop offset="0.653" stop-color="#307371"/><stop offset="0.668" stop-color="#2d6688"/><stop offset="0.755" stop-color="#2848a0"/><stop offset="0.784" stop-color="#263584"/><stop offset="0.827" stop-color="#1c1838"/><stop offset="0.856" stop-color="#17142b"/><stop offset="0.871" stop-color="#18152e"/><stop offset="0.914" stop-color="#282965"/><stop offset="0.929" stop-color="#28275e"/><stop offset="0.958" stop-color="#1b1735"/><stop offset="0.972" stop-color="#1b1735"/><stop offset="0.987" stop-color="#130f1e"/></linearGradient><linearGradient id="h98"><stop offset="0.000" stop-color="#0b0606"/><stop offset="0.232" stop-color="#0c080b"/><stop offset="0.276" stop-color="#252353"/><stop offset="0.305" stop-color="#263786"/><stop offset="0.334" stop-color="#273a8b"/><stop offset="0.363" stop-color="#29509a"/><stop offset="0.392" stop-color="#2c628e"/><stop offset="0.421" stop-color="#2b5d91"/><stop offset="0.479" stop-color="#307273"/><stop offset="0.508" stop-color="#428f4c"/><stop offset="0.537" stop-color="#4e8b42"/><stop offset="0.566" stop-color="#5b7e3c"/><stop offset="0.595" stop-color="#3f8b50"/><stop offset="0.624" stop-color="#2c648c"/><stop offset="0.668" stop-color="#294d9d"/><stop offset="0.726" stop-color="#28459c"/><stop offset="0.784" stop-color="#273b8c"/><stop offset="0.798" stop-color="#272a66"/><stop offset="0.813" stop-color="#1a1733"/><stop offset="0.827" stop-color="#110d19"/><stop offset="0.842" stop-color="#130f1f"/><stop offset="0.871" stop-color="#1f1c41"/><stop offset="0.929" stop-color="#201d43"/><stop offset="0.958" stop-color="#1b1735"/><stop offset="0.972" stop-color="#1e1b3f"/><stop offset="0.987" stop-color="#17142b"/></linearGradient><linearGradient id="h99"><stop offset="0.000" stop-color="#0b0606"/><stop offset="0.232" stop-color="#0d080c"/><stop offset="0.247" stop-color="#18152e"/><stop offset="0.276" stop-color="#242250"/><stop offset="0.305" stop-color="#263787"/><stop offset="0.377" stop-color="#28459c"/><stop offset="0.406" stop-color="#2b5e91"/><stop offset="0.435" stop-color="#367f5f"/><stop offset="0.479" stop-color="#398359"/><stop offset="0.508" stop-color="#489245"/><stop offset="0.552" stop-color="#54853f"/><stop offset="0.610" stop-color="#418d4e"/><stop offset="0.711" stop-color="#2f6f78"/><stop offset="0.740" stop-color="#2b5b93"/><stop offset="0.769" stop-color="#284a9e"/><stop offset="0.784" stop-color="#274094"/><stop offset="0.813" stop-color="#262355"/><stop offset="0.827" stop-color="#201e46"/><stop offset="0.900" stop-color="#282860"/><stop offset="0.929" stop-color="#272c6b"/><stop offset="0.972" stop-color="#1f1c42"/><stop offset="0.987" stop-color="#140f20"/></linearGradient><linearGradient id="h100"><stop offset="0.000" stop-color="#0b0606"/><stop offset="0.247" stop-color="#0c070b"/><stop offset="0.276" stop-color="#191630"/><stop offset="0.305" stop-color="#282965"/><stop offset="0.334" stop-color="#272d6f"/><stop offset="0.377" stop-color="#28469c"/><stop offset="0.421" stop-color="#2d6787"/><stop offset="0.450" stop-color="#2e6a81"/><stop offset="0.479" stop-color="#3c8755"/><stop offset="0.493" stop-color="#4f8b42"/><stop offset="0.522" stop-color="#825931"/><stop offset="0.537" stop-color="#a63e2c"/><stop offset="0.552" stop-color="#b8382d"/><stop offset="0.566" stop-color="#a43f2c"/><stop offset="0.581" stop-color="#6a6e35"/><stop offset="0.595" stop-color="#43904a"/><stop offset="0.624" stop-color="#30746e"/><stop offset="0.653" stop-color="#307175"/><stop offset="0.682" stop-color="#2f7077"/><stop offset="0.726" stop-color="#28469d"/><stop offset="0.740" stop-color="#273f92"/><stop offset="0.769" stop-color="#294c9d"/><stop offset="0.784" stop-color="#28499f"/><stop offset="0.798" stop-color="#26337e"/><stop offset="0.813" stop-color="#201d44"/><stop offset="0.827" stop-color="#120d1b"/><stop offset="0.842" stop-color="#0c070a"/><stop offset="0.856" stop-color="#0d090e"/><stop offset="0.900" stop-color="#211f48"/><stop offset="0.929" stop-color="#252354"/><stop offset="0.958" stop-color="#1c1837"/><stop offset="0.987" stop-color="#0b0607"/></linearGradient><linearGradient id="h101"><stop offset="0.000" stop-color="#0b0606"/><stop offset="0.247" stop-color="#0c0708"/><stop offset="0.290" stop-color="#28265b"/><stop offset="0.334" stop-color="#274094"/><stop offset="0.348" stop-color="#28459b"/><stop offset="0.392" stop-color="#263583"/><stop offset="0.421" stop-color="#28499f"/><stop offset="0.435" stop-color="#2b5c92"/><stop offset="0.464" stop-color="#3e8a51"/><stop offset="0.479" stop-color="#57833e"/><stop offset="0.508" stop-color="#914d2e"/><stop offset="0.537" stop-color="#b33a2d"/><stop offset="0.552" stop-color="#b03b2d"/><stop offset="0.566" stop-color="#95492e"/><stop offset="0.581" stop-color="#627739"/><stop offset="0.595" stop-color="#3d8953"/><stop offset="0.624" stop-color="#2c6589"/><stop offset="0.668" stop-color="#2a5894"/><stop offset="0.711" stop-color="#28469e"/><stop offset="0.769" stop-color="#273a8c"/><stop offset="0.784" stop-color="#272f74"/><stop offset="0.798" stop-color="#221f4b"/><stop offset="0.813" stop-color="#191631"/><stop offset="0.856" stop-color="#1c1939"/><stop offset="0.885" stop-color="#0b0607"/><stop offset="0.900" stop-color="#0b0607"/><stop offset="0.914" stop-color="#110d19"/><stop offset="0.943" stop-color="#262456"/><stop offset="0.958" stop-color="#282860"/><stop offset="0.972" stop-color="#28265d"/><stop offset="0.987" stop-color="#1a1632"/></linearGradient><linearGradient id="h102"><stop offset="0.000" stop-color="#0b0606"/><stop offset="0.247" stop-color="#0b0607"/><stop offset="0.276" stop-color="#242251"/><stop offset="0.305" stop-color="#273e91"/><stop offset="0.319" stop-color="#294c9d"/><stop offset="0.435" stop-color="#2b5d91"/><stop offset="0.479" stop-color="#3c8755"/><stop offset="0.508" stop-color="#499144"/><stop offset="0.552" stop-color="#736633"/><stop offset="0.595" stop-color="#459248"/><stop offset="0.624" stop-color="#3a8458"/><stop offset="0.653" stop-color="#2d6787"/><stop offset="0.726" stop-color="#294c9d"/><stop offset="0.769" stop-color="#273f92"/><stop offset="0.784" stop-color="#263584"/><stop offset="0.813" stop-color="#23214e"/><stop offset="0.827" stop-color="#1e1b3f"/><stop offset="0.871" stop-color="#1c193a"/><stop offset="0.885" stop-color="#191631"/><stop offset="0.900" stop-color="#1c193a"/><stop offset="0.929" stop-color="#272d6e"/><stop offset="0.943" stop-color="#273078"/><stop offset="0.972" stop-color="#272a66"/><stop offset="0.987" stop-color="#1c193a"/></linearGradient><linearGradient id="h103"><stop offset="0.000" stop-color="#0b0606"/><stop offset="0.247" stop-color="#0d080d"/><stop offset="0.276" stop-color="#151125"/><stop offset="0.305" stop-color="#272b6a"/><stop offset="0.348" stop-color="#274398"/><stop offset="0.392" stop-color="#2b5e91"/><stop offset="0.421" stop-color="#2d6885"/><stop offset="0.450" stop-color="#428f4c"/><stop offset="0.479" stop-color="#60793a"/><stop offset="0.522" stop-color="#627639"/><stop offset="0.566" stop-color="#449149"/><stop offset="0.610" stop-color="#337b62"/><stop offset="0.653" stop-color="#2b5e91"/><stop offset="0.697" stop-color="#2b5a93"/><stop offset="0.740" stop-color="#2a5497"/><stop offset="0.755" stop-color="#28459c"/><stop offset="0.798" stop-color="#23204d"/><stop offset="0.827" stop-color="#19152f"/><stop offset="0.900" stop-color="#161227"/><stop offset="0.972" stop-color="#201e46"/><stop offset="0.987" stop-color="#19152f"/></linearGradient><linearGradient id="h104"><stop offset="0.000" stop-color="#0b0606"/><stop offset="0.232" stop-color="#0b0607"/><stop offset="0.261" stop-color="#272a67"/><stop offset="0.305" stop-color="#263583"/><stop offset="0.348" stop-color="#263888"/><stop offset="0.363" stop-color="#274398"/><stop offset="0.377" stop-color="#2a5597"/><stop offset="0.406" stop-color="#31756e"/><stop offset="0.421" stop-color="#327966"/><stop offset="0.450" stop-color="#327a64"/><stop offset="0.479" stop-color="#489245"/><stop offset="0.522" stop-color="#825931"/><stop offset="0.537" stop-color="#865630"/><stop offset="0.566" stop-color="#657438"/><stop offset="0.581" stop-color="#4d8d43"/><stop offset="0.610" stop-color="#31756d"/><stop offset="0.624" stop-color="#2d6688"/><stop offset="0.668" stop-color="#28499f"/><stop offset="0.697" stop-color="#263481"/><stop offset="0.740" stop-color="#273f92"/><stop offset="0.827" stop-color="#282862"/><stop offset="0.856" stop-color="#1c1939"/><stop offset="0.929" stop-color="#130f20"/><stop offset="0.943" stop-color="#17132a"/><stop offset="0.972" stop-color="#28265c"/><stop offset="0.987" stop-color="#201d43"/></linearGradient><linearGradient id="h105"><stop offset="0.000" stop-color="#0b0606"/><stop offset="0.247" stop-color="#0b0608"/><stop offset="0.290" stop-color="#282965"/><stop offset="0.305" stop-color="#26327d"/><stop offset="0.319" stop-color="#263685"/><stop offset="0.334" stop-color="#263380"/><stop offset="0.348" stop-color="#263888"/><stop offset="0.363" stop-color="#284b9e"/><stop offset="0.377" stop-color="#2d6687"/><stop offset="0.392" stop-color="#31756e"/><stop offset="0.421" stop-color="#30746f"/><stop offset="0.450" stop-color="#36805d"/><stop offset="0.479" stop-color="#307372"/><stop offset="0.493" stop-color="#31766c"/><stop offset="0.522" stop-color="#449249"/><stop offset="0.552" stop-color="#57823e"/><stop offset="0.610" stop-color="#469446"/><stop offset="0.624" stop-color="#398459"/><stop offset="0.639" stop-color="#2e6c7d"/><stop offset="0.653" stop-color="#2a5894"/><stop offset="0.711" stop-color="#28479f"/><stop offset="0.769" stop-color="#2a5398"/><stop offset="0.798" stop-color="#2848a0"/><stop offset="0.842" stop-color="#272b6b"/><stop offset="0.871" stop-color="#242150"/><stop offset="0.900" stop-color="#0f0a11"/><stop offset="0.914" stop-color="#0b0607"/><stop offset="0.972" stop-color="#1c193a"/><stop offset="0.987" stop-color="#130f1f"/></linearGradient><linearGradient id="h106"><stop offset="0.000" stop-color="#0b0606"/><stop offset="0.232" stop-color="#0b0607"/><stop offset="0.247" stop-color="#0d090e"/><stop offset="0.261" stop-color="#23204c"/><stop offset="0.276" stop-color="#263481"/><stop offset="0.290" stop-color="#28479f"/><stop offset="0.305" stop-color="#2a5696"/><stop offset="0.363" stop-color="#29509a"/><stop offset="0.377" stop-color="#2b5e90"/><stop offset="0.406" stop-color="#317868"/><stop offset="0.522" stop-color="#459347"/><stop offset="0.566" stop-color="#677136"/><stop offset="0.581" stop-color="#687036"/><stop offset="0.595" stop-color="#528841"/><stop offset="0.610" stop-color="#37815c"/><stop offset="0.624" stop-color="#2c648b"/><stop offset="0.639" stop-color="#294e9c"/><stop offset="0.682" stop-color="#26317b"/><stop offset="0.711" stop-color="#263482"/><stop offset="0.740" stop-color="#263179"/><stop offset="0.769" stop-color="#263584"/><stop offset="0.784" stop-color="#273077"/><stop offset="0.813" stop-color="#221f4a"/><stop offset="0.856" stop-color="#272f74"/><stop offset="0.914" stop-color="#221f4a"/><stop offset="0.958" stop-color="#282862"/><stop offset="0.972" stop-color="#272c6c"/><stop offset="0.987" stop-color="#221f4a"/></linearGradient><linearGradient id="h107"><stop offset="0.000" stop-color="#0b0606"/><stop offset="0.261" stop-color="#0b0607"/><stop offset="0.290" stop-color="#273078"/><stop offset="0.305" stop-color="#28459c"/><stop offset="0.319" stop-color="#284a9f"/><stop offset="0.348" stop-color="#263179"/><stop offset="0.363" stop-color="#263179"/><stop offset="0.377" stop-color="#273f93"/><stop offset="0.392" stop-color="#295299"/><stop offset="0.421" stop-color="#2e6a81"/><stop offset="0.450" stop-color="#3a8458"/><stop offset="0.479" stop-color="#408c4f"/><stop offset="0.508" stop-color="#3d8953"/><stop offset="0.522" stop-color="#449149"/><stop offset="0.566" stop-color="#54853f"/><stop offset="0.595" stop-color="#3f8b51"/><stop offset="0.624" stop-color="#2a5895"/><stop offset="0.639" stop-color="#274095"/><stop offset="0.668" stop-color="#273078"/><stop offset="0.697" stop-color="#273a8c"/><stop offset="0.711" stop-color="#28469d"/><stop offset="0.726" stop-color="#294f9b"/><stop offset="0.740" stop-color="#284a9e"/><stop offset="0.769" stop-color="#26327d"/><stop offset="0.813" stop-color="#272e71"/><stop offset="0.842" stop-color="#28265b"/><stop offset="0.885" stop-color="#26327b"/><stop offset="0.972" stop-color="#263685"/><stop offset="0.987" stop-color="#28275f"/></linearGradient><linearGradient id="h108"><stop offset="0.000" stop-color="#0b0606"/><stop offset="0.247" stop-color="#0b0607"/><stop offset="0.261" stop-color="#100c16"/><stop offset="0.290" stop-color="#262457"/><stop offset="0.348" stop-color="#274297"/><stop offset="0.363" stop-color="#284b9e"/><stop offset="0.421" stop-color="#2f6f78"/><stop offset="0.464" stop-color="#3b8557"/><stop offset="0.479" stop-color="#449248"/><stop offset="0.537" stop-color="#5d7c3b"/><stop offset="0.581" stop-color="#459347"/><stop offset="0.610" stop-color="#38825a"/><stop offset="0.639" stop-color="#2a5597"/><stop offset="0.653" stop-color="#274195"/><stop offset="0.711" stop-color="#26337f"/><stop offset="0.755" stop-color="#1c193a"/><stop offset="0.769" stop-color="#1f1c40"/><stop offset="0.784" stop-color="#252353"/><stop offset="0.798" stop-color="#252252"/><stop offset="0.827" stop-color="#18142d"/><stop offset="0.842" stop-color="#161228"/><stop offset="0.885" stop-color="#28265c"/><stop offset="0.914" stop-color="#263584"/><stop offset="0.929" stop-color="#263584"/><stop offset="0.972" stop-color="#23204d"/><stop offset="0.987" stop-color="#141023"/></linearGradient><linearGradient id="h109"><stop offset="0.000" stop-color="#0b0606"/><stop offset="0.232" stop-color="#0b0607"/><stop offset="0.247" stop-color="#0f0a13"/><stop offset="0.261" stop-color="#191631"/><stop offset="0.290" stop-color="#1d1a3b"/><stop offset="0.305" stop-color="#272458"/><stop offset="0.319" stop-color="#263482"/><stop offset="0.334" stop-color="#28479f"/><stop offset="0.363" stop-color="#2c628d"/><stop offset="0.406" stop-color="#2b5a93"/><stop offset="0.421" stop-color="#2d6786"/><stop offset="0.435" stop-color="#327965"/><stop offset="0.464" stop-color="#469446"/><stop offset="0.493" stop-color="#538640"/><stop offset="0.537" stop-color="#4f8a42"/><stop offset="0.566" stop-color="#617839"/><stop offset="0.581" stop-color="#5e7b3b"/><stop offset="0.595" stop-color="#469446"/><stop offset="0.610" stop-color="#31766a"/><stop offset="0.624" stop-color="#2a5795"/><stop offset="0.639" stop-color="#28479e"/><stop offset="0.682" stop-color="#28469d"/><stop offset="0.726" stop-color="#263179"/><stop offset="0.755" stop-color="#272d6e"/><stop offset="0.784" stop-color="#263786"/><stop offset="0.798" stop-color="#26317b"/><stop offset="0.813" stop-color="#272558"/><stop offset="0.827" stop-color="#161227"/><stop offset="0.842" stop-color="#0b0607"/><stop offset="0.856" stop-color="#0b0607"/><stop offset="0.900" stop-color="#1d193b"/><stop offset="0.914" stop-color="#1d1a3d"/><stop offset="0.958" stop-color="#0e0910"/><stop offset="0.987" stop-color="#0b0607"/></linearGradient><linearGradient id="h110"><stop offset="0.000" stop-color="#0b0606"/><stop offset="0.247" stop-color="#0b0607"/><stop offset="0.261" stop-color="#100c16"/><stop offset="0.290" stop-color="#272d6e"/><stop offset="0.305" stop-color="#273c8e"/><stop offset="0.319" stop-color="#28479e"/><stop offset="0.363" stop-color="#294e9c"/><stop offset="0.421" stop-color="#274196"/><stop offset="0.435" stop-color="#28499f"/><stop offset="0.450" stop-color="#2b608f"/><stop offset="0.464" stop-color="#327a64"/><stop offset="0.493" stop-color="#43904a"/><stop offset="0.508" stop-color="#4b8f44"/><stop offset="0.537" stop-color="#677136"/><stop offset="0.552" stop-color="#6a6e35"/><stop offset="0.566" stop-color="#5f7a3a"/><stop offset="0.581" stop-color="#459347"/><stop offset="0.610" stop-color="#2e6b7f"/><stop offset="0.639" stop-color="#284b9e"/><stop offset="0.668" stop-color="#263787"/><stop offset="0.726" stop-color="#27398a"/><stop offset="0.755" stop-color="#284499"/><stop offset="0.842" stop-color="#272e72"/><stop offset="0.885" stop-color="#211f48"/><stop offset="0.929" stop-color="#211e48"/><stop offset="0.958" stop-color="#17142b"/><stop offset="0.972" stop-color="#161328"/><stop offset="0.987" stop-color="#0f0b13"/></linearGradient><linearGradient id="h111"><stop offset="0.000" stop-color="#0b0606"/><stop offset="0.247" stop-color="#0c0709"/><stop offset="0.261" stop-color="#1b1735"/><stop offset="0.305" stop-color="#26337f"/><stop offset="0.348" stop-color="#28459b"/><stop offset="0.377" stop-color="#273e92"/><stop offset="0.392" stop-color="#263888"/><stop offset="0.435" stop-color="#294e9c"/><stop offset="0.493" stop-color="#2e6c7e"/><stop offset="0.522" stop-color="#2d6885"/><stop offset="0.566" stop-color="#317868"/><stop offset="0.595" stop-color="#2e6c7d"/><stop offset="0.624" stop-color="#2a5895"/><stop offset="0.668" stop-color="#2849a0"/><stop offset="0.784" stop-color="#274297"/><stop offset="0.827" stop-color="#263481"/><stop offset="0.871" stop-color="#263787"/><stop offset="0.943" stop-color="#282860"/><stop offset="0.958" stop-color="#1f1d43"/><stop offset="0.972" stop-color="#0f0b13"/><stop offset="0.987" stop-color="#0b0607"/></linearGradient><linearGradient id="cbar" x1="0" y1="0" x2="0" y2="1"><stop offset="0.000" stop-color="#ffffff"/><stop offset="0.060" stop-color="#fdfdf8"/><stop offset="0.106" stop-color="#ece6c0"/><stop offset="0.190" stop-color="#dcd058"/><stop offset="0.247" stop-color="#e0b040"/><stop offset="0.306" stop-color="#e07830"/><stop offset="0.388" stop-color="#d03030"/><stop offset="0.447" stop-color="#904030"/><stop offset="0.494" stop-color="#606030"/><stop offset="0.541" stop-color="#40a050"/><stop offset="0.594" stop-color="#307060"/><stop offset="0.659" stop-color="#2850a8"/><stop offset="0.718" stop-color="#2040a0"/><stop offset="0.765" stop-color="#151a50"/><stop offset="0.800" stop-color="#0a0505"/><stop offset="1.000" stop-color="#0a0505"/></linearGradient><clipPath id="hclip"><rect x="1321.0" y="28.0" width="344.5" height="335.2"/></clipPath><filter id="hblur" color-interpolation-filters="sRGB" x="-5%" y="-5%" width="110%" height="110%"><feGaussianBlur stdDeviation="1.6 1.2"/></filter></defs>
<rect x="1321.0" y="28.0" width="344.5" height="335.2" fill="#0a0505"/>
<g clip-path="url(#hclip)"><g filter="url(#hblur)"><rect x="1321.0" y="28.0" width="344.5" height="3.6" fill="url(#h0)"/><rect x="1321.0" y="31.0" width="344.5" height="3.6" fill="url(#h1)"/><rect x="1321.0" y="34.0" width="344.5" height="3.6" fill="url(#h2)"/><rect x="1321.0" y="37.0" width="344.5" height="3.6" fill="url(#h3)"/><rect x="1321.0" y="40.0" width="344.5" height="3.6" fill="url(#h4)"/><rect x="1321.0" y="43.0" width="344.5" height="3.6" fill="url(#h5)"/><rect x="1321.0" y="46.0" width="344.5" height="3.6" fill="url(#h6)"/><rect x="1321.0" y="49.0" width="344.5" height="3.6" fill="url(#h7)"/><rect x="1321.0" y="52.0" width="344.5" height="3.6" fill="url(#h8)"/><rect x="1321.0" y="55.0" width="344.5" height="3.6" fill="url(#h9)"/><rect x="1321.0" y="58.0" width="344.5" height="3.6" fill="url(#h10)"/><rect x="1321.0" y="61.0" width="344.5" height="3.6" fill="url(#h11)"/><rect x="1321.0" y="64.0" width="344.5" height="3.6" fill="url(#h12)"/><rect x="1321.0" y="67.0" width="344.5" height="3.6" fill="url(#h13)"/><rect x="1321.0" y="70.0" width="344.5" height="3.6" fill="url(#h14)"/><rect x="1321.0" y="73.0" width="344.5" height="3.6" fill="url(#h15)"/><rect x="1321.0" y="76.0" width="344.5" height="3.6" fill="url(#h16)"/><rect x="1321.0" y="79.0" width="344.5" height="3.6" fill="url(#h17)"/><rect x="1321.0" y="82.0" width="344.5" height="3.6" fill="url(#h18)"/><rect x="1321.0" y="85.0" width="344.5" height="3.6" fill="url(#h19)"/><rect x="1321.0" y="88.0" width="344.5" height="3.6" fill="url(#h20)"/><rect x="1321.0" y="91.0" width="344.5" height="3.6" fill="url(#h21)"/><rect x="1321.0" y="94.0" width="344.5" height="3.6" fill="url(#h22)"/><rect x="1321.0" y="97.0" width="344.5" height="3.6" fill="url(#h23)"/><rect x="1321.0" y="100.0" width="344.5" height="3.6" fill="url(#h24)"/><rect x="1321.0" y="103.0" width="344.5" height="3.6" fill="url(#h25)"/><rect x="1321.0" y="106.0" width="344.5" height="3.6" fill="url(#h26)"/><rect x="1321.0" y="109.0" width="344.5" height="3.6" fill="url(#h27)"/><rect x="1321.0" y="112.0" width="344.5" height="3.6" fill="url(#h28)"/><rect x="1321.0" y="115.0" width="344.5" height="3.6" fill="url(#h29)"/><rect x="1321.0" y="118.0" width="344.5" height="3.6" fill="url(#h30)"/><rect x="1321.0" y="121.0" width="344.5" height="3.6" fill="url(#h31)"/><rect x="1321.0" y="124.0" width="344.5" height="3.6" fill="url(#h32)"/><rect x="1321.0" y="127.0" width="344.5" height="3.6" fill="url(#h33)"/><rect x="1321.0" y="130.0" width="344.5" height="3.6" fill="url(#h34)"/><rect x="1321.0" y="133.0" width="344.5" height="3.6" fill="url(#h35)"/><rect x="1321.0" y="136.0" width="344.5" height="3.6" fill="url(#h36)"/><rect x="1321.0" y="139.0" width="344.5" height="3.6" fill="url(#h37)"/><rect x="1321.0" y="142.0" width="344.5" height="3.6" fill="url(#h38)"/><rect x="1321.0" y="145.0" width="344.5" height="3.6" fill="url(#h39)"/><rect x="1321.0" y="148.0" width="344.5" height="3.6" fill="url(#h40)"/><rect x="1321.0" y="151.0" width="344.5" height="3.6" fill="url(#h41)"/><rect x="1321.0" y="154.0" width="344.5" height="3.6" fill="url(#h42)"/><rect x="1321.0" y="157.0" width="344.5" height="3.6" fill="url(#h43)"/><rect x="1321.0" y="160.0" width="344.5" height="3.6" fill="url(#h44)"/><rect x="1321.0" y="163.0" width="344.5" height="3.6" fill="url(#h45)"/><rect x="1321.0" y="166.0" width="344.5" height="3.6" fill="url(#h46)"/><rect x="1321.0" y="169.0" width="344.5" height="3.6" fill="url(#h47)"/><rect x="1321.0" y="172.0" width="344.5" height="3.6" fill="url(#h48)"/><rect x="1321.0" y="175.0" width="344.5" height="3.6" fill="url(#h49)"/><rect x="1321.0" y="178.0" width="344.5" height="3.6" fill="url(#h50)"/><rect x="1321.0" y="181.0" width="344.5" height="3.6" fill="url(#h51)"/><rect x="1321.0" y="184.0" width="344.5" height="3.6" fill="url(#h52)"/><rect x="1321.0" y="187.0" width="344.5" height="3.6" fill="url(#h53)"/><rect x="1321.0" y="190.0" width="344.5" height="3.6" fill="url(#h54)"/><rect x="1321.0" y="193.0" width="344.5" height="3.6" fill="url(#h55)"/><rect x="1321.0" y="196.0" width="344.5" height="3.6" fill="url(#h56)"/><rect x="1321.0" y="199.0" width="344.5" height="3.6" fill="url(#h57)"/><rect x="1321.0" y="202.0" width="344.5" height="3.6" fill="url(#h58)"/><rect x="1321.0" y="205.0" width="344.5" height="3.6" fill="url(#h59)"/><rect x="1321.0" y="208.0" width="344.5" height="3.6" fill="url(#h60)"/><rect x="1321.0" y="211.0" width="344.5" height="3.6" fill="url(#h61)"/><rect x="1321.0" y="214.0" width="344.5" height="3.6" fill="url(#h62)"/><rect x="1321.0" y="217.0" width="344.5" height="3.6" fill="url(#h63)"/><rect x="1321.0" y="220.0" width="344.5" height="3.6" fill="url(#h64)"/><rect x="1321.0" y="223.0" width="344.5" height="3.6" fill="url(#h65)"/><rect x="1321.0" y="226.0" width="344.5" height="3.6" fill="url(#h66)"/><rect x="1321.0" y="229.0" width="344.5" height="3.6" fill="url(#h67)"/><rect x="1321.0" y="232.0" width="344.5" height="3.6" fill="url(#h68)"/><rect x="1321.0" y="235.0" width="344.5" height="3.6" fill="url(#h69)"/><rect x="1321.0" y="238.0" width="344.5" height="3.6" fill="url(#h70)"/><rect x="1321.0" y="241.0" width="344.5" height="3.6" fill="url(#h71)"/><rect x="1321.0" y="244.0" width="344.5" height="3.6" fill="url(#h72)"/><rect x="1321.0" y="247.0" width="344.5" height="3.6" fill="url(#h73)"/><rect x="1321.0" y="250.0" width="344.5" height="3.6" fill="url(#h74)"/><rect x="1321.0" y="253.0" width="344.5" height="3.6" fill="url(#h75)"/><rect x="1321.0" y="256.0" width="344.5" height="3.6" fill="url(#h76)"/><rect x="1321.0" y="259.0" width="344.5" height="3.6" fill="url(#h77)"/><rect x="1321.0" y="262.0" width="344.5" height="3.6" fill="url(#h78)"/><rect x="1321.0" y="265.0" width="344.5" height="3.6" fill="url(#h79)"/><rect x="1321.0" y="268.0" width="344.5" height="3.6" fill="url(#h80)"/><rect x="1321.0" y="271.0" width="344.5" height="3.6" fill="url(#h81)"/><rect x="1321.0" y="274.0" width="344.5" height="3.6" fill="url(#h82)"/><rect x="1321.0" y="277.0" width="344.5" height="3.6" fill="url(#h83)"/><rect x="1321.0" y="280.0" width="344.5" height="3.6" fill="url(#h84)"/><rect x="1321.0" y="283.0" width="344.5" height="3.6" fill="url(#h85)"/><rect x="1321.0" y="286.0" width="344.5" height="3.6" fill="url(#h86)"/><rect x="1321.0" y="289.0" width="344.5" height="3.6" fill="url(#h87)"/><rect x="1321.0" y="292.0" width="344.5" height="3.6" fill="url(#h88)"/><rect x="1321.0" y="295.0" width="344.5" height="3.6" fill="url(#h89)"/><rect x="1321.0" y="298.0" width="344.5" height="3.6" fill="url(#h90)"/><rect x="1321.0" y="301.0" width="344.5" height="3.6" fill="url(#h91)"/><rect x="1321.0" y="304.0" width="344.5" height="3.6" fill="url(#h92)"/><rect x="1321.0" y="307.0" width="344.5" height="3.6" fill="url(#h93)"/><rect x="1321.0" y="310.0" width="344.5" height="3.6" fill="url(#h94)"/><rect x="1321.0" y="313.0" width="344.5" height="3.6" fill="url(#h95)"/><rect x="1321.0" y="316.0" width="344.5" height="3.6" fill="url(#h96)"/><rect x="1321.0" y="319.0" width="344.5" height="3.6" fill="url(#h97)"/><rect x="1321.0" y="322.0" width="344.5" height="3.6" fill="url(#h98)"/><rect x="1321.0" y="325.0" width="344.5" height="3.6" fill="url(#h99)"/><rect x="1321.0" y="328.0" width="344.5" height="3.6" fill="url(#h100)"/><rect x="1321.0" y="331.0" width="344.5" height="3.6" fill="url(#h101)"/><rect x="1321.0" y="334.0" width="344.5" height="3.6" fill="url(#h102)"/><rect x="1321.0" y="337.0" width="344.5" height="3.6" fill="url(#h103)"/><rect x="1321.0" y="340.0" width="344.5" height="3.6" fill="url(#h104)"/><rect x="1321.0" y="343.0" width="344.5" height="3.6" fill="url(#h105)"/><rect x="1321.0" y="346.0" width="344.5" height="3.6" fill="url(#h106)"/><rect x="1321.0" y="349.0" width="344.5" height="3.6" fill="url(#h107)"/><rect x="1321.0" y="352.0" width="344.5" height="3.6" fill="url(#h108)"/><rect x="1321.0" y="355.0" width="344.5" height="3.6" fill="url(#h109)"/><rect x="1321.0" y="358.0" width="344.5" height="3.6" fill="url(#h110)"/><rect x="1321.0" y="361.0" width="344.5" height="3.6" fill="url(#h111)"/></g></g>
<rect x="1321.0" y="28.0" width="344.5" height="2" fill="#231815"/>
<text x="1487.79" y="63.00" font-size="30.38" fill="#fff" stroke="#fff" stroke-width="0.42" transform="matrix(1 0 0 1.0101 0 -0.64)">Fe</text>
<text x="1530.56" y="63.00" font-size="32.05" fill="#fff" stroke="#fff" stroke-width="0.42" transform="matrix(1 0 0 0.9577 0 2.66)">L</text>
<text x="1547.40" y="73.50" font-size="18.74" fill="#fff" stroke="#fff" stroke-width="0.42" transform="matrix(1 0 0 0.9400 0 4.41)">3</text>
<path d="M1472.7,73.8 L1472.7,188.5 L1505.6,256.5 L1508.2,363" fill="none" stroke="#fff" stroke-width="5" stroke-dasharray="8.8,8.2"/>
<line x1="1312.2" y1="75.8" x2="1466.0" y2="75.8" stroke="#d8282a" stroke-width="2.4" stroke-dasharray="9.3,8.3"/>
<path d="M1286.7,75.8 L1305.2,65.8 Q1298.7,75.8 1305.2,85.8 Z" fill="#d8282a"/>
<line x1="1307.7" y1="139.6" x2="1468.0" y2="139.6" stroke="#d8282a" stroke-width="2.4" stroke-dasharray="9.3,8.3"/>
<path d="M1282.2,139.6 L1300.7,129.6 Q1294.2,139.6 1300.7,149.6 Z" fill="#d8282a"/>
<line x1="1308.1" y1="188.6" x2="1490.0" y2="188.6" stroke="#d8282a" stroke-width="2.4" stroke-dasharray="9.3,8.3"/>
<path d="M1282.6,188.6 L1301.1,178.6 Q1294.6,188.6 1301.1,198.6 Z" fill="#d8282a"/>
<line x1="1308.1" y1="209.0" x2="1471.0" y2="209.0" stroke="#d8282a" stroke-width="2.4" stroke-dasharray="9.3,8.3"/>
<path d="M1282.6,209.0 L1301.1,199.0 Q1294.6,209.0 1301.1,219.0 Z" fill="#d8282a"/>
<line x1="1308.1" y1="237.0" x2="1489.0" y2="237.0" stroke="#d8282a" stroke-width="2.4" stroke-dasharray="9.3,8.3"/>
<path d="M1282.6,237.0 L1301.1,227.0 Q1294.6,237.0 1301.1,247.0 Z" fill="#d8282a"/>
<line x1="1308.1" y1="282.6" x2="1498.0" y2="282.6" stroke="#d8282a" stroke-width="2.4" stroke-dasharray="9.3,8.3"/>
<path d="M1282.6,282.6 L1301.1,272.6 Q1294.6,282.6 1301.1,292.6 Z" fill="#d8282a"/>
<line x1="1311.7" y1="330.0" x2="1498.0" y2="330.0" stroke="#d8282a" stroke-width="2.4" stroke-dasharray="9.3,8.3"/>
<path d="M1286.2,330.0 L1304.7,320.0 Q1298.2,330.0 1304.7,340.0 Z" fill="#d8282a"/>
<text x="1149.32" y="86.40" font-size="30.02" fill="#231815" stroke="#231815" stroke-width="0.42" transform="matrix(1 0 0 1.0219 0 -1.89)">FeSe+Se</text>
<text x="1203.21" y="146.40" font-size="30.15" fill="#231815" stroke="#231815" stroke-width="0.42" transform="matrix(1 0 0 1.0175 0 -2.56)">FeSe</text>
<text x="1208.10" y="187.90" font-size="30.30" fill="#231815" stroke="#231815" stroke-width="0.42" transform="matrix(1 0 0 1.0219 0 -4.12)">FeO</text>
<text x="1266.28" y="197.90" font-size="17.89" fill="#231815" stroke="#231815" stroke-width="0.42" transform="matrix(1 0 0 1.0170 0 -3.37)">x</text>
<text x="1208.10" y="215.70" font-size="30.30" fill="#231815" stroke="#231815" stroke-width="0.42" transform="matrix(1 0 0 1.0219 0 -4.73)">FeO</text>
<text x="1266.28" y="225.40" font-size="17.89" fill="#231815" stroke="#231815" stroke-width="0.42" transform="matrix(1 0 0 0.9640 0 8.11)">x</text>
<text x="1208.10" y="247.60" font-size="30.30" fill="#231815" stroke="#231815" stroke-width="0.42" transform="matrix(1 0 0 1.0219 0 -5.43)">FeO</text>
<text x="1265.57" y="257.90" font-size="18.68" fill="#231815" stroke="#231815" stroke-width="0.42" transform="matrix(1 0 0 0.9516 0 12.47)">2</text>
<text x="1208.10" y="291.60" font-size="30.30" fill="#231815" stroke="#231815" stroke-width="0.42" transform="matrix(1 0 0 1.0219 0 -6.40)">FeO</text>
<text x="1265.57" y="301.90" font-size="18.68" fill="#231815" stroke="#231815" stroke-width="0.42" transform="matrix(1 0 0 0.9516 0 14.60)">2</text>
<text x="1208.10" y="335.90" font-size="30.30" fill="#231815" stroke="#231815" stroke-width="0.42" transform="matrix(1 0 0 1.0219 0 -7.37)">FeO</text>
<text x="1265.57" y="346.20" font-size="18.68" fill="#231815" stroke="#231815" stroke-width="0.42" transform="matrix(1 0 0 0.9516 0 16.74)">2</text>
<line x1="1375.0" y1="363" x2="1375.0" y2="369.5" stroke="#231815" stroke-width="2"/>
<line x1="1432.7" y1="363" x2="1432.7" y2="369.5" stroke="#231815" stroke-width="2"/>
<line x1="1490.6" y1="363" x2="1490.6" y2="369.5" stroke="#231815" stroke-width="2"/>
<line x1="1548.5" y1="363" x2="1548.5" y2="369.5" stroke="#231815" stroke-width="2"/>
<line x1="1606.2" y1="363" x2="1606.2" y2="369.5" stroke="#231815" stroke-width="2"/>
<line x1="1664.0" y1="363" x2="1664.0" y2="369.5" stroke="#231815" stroke-width="2"/>
<text x="1353.92" y="398.60" font-size="30.10" fill="#231815" stroke="#231815" stroke-width="0.42" transform="matrix(1 0 0 0.9400 0 23.92)">712</text>
<text x="1473.44" y="398.60" font-size="29.70" fill="#231815" stroke="#231815" stroke-width="0.42" transform="matrix(1 0 0 0.9462 0 21.44)">716</text>
<text x="1584.25" y="398.60" font-size="29.54" fill="#231815" stroke="#231815" stroke-width="0.42" transform="matrix(1 0 0 0.9513 0 19.43)">720</text>
<text x="1443.45" y="428.70" font-size="29.75" fill="#231815" stroke="#231815" stroke-width="0.42" transform="matrix(1 0 0 0.9458 0 23.22)">Energy (eV)</text>
<rect x="1671" y="107.3" width="30.2" height="181.6" fill="url(#cbar)" stroke="#231815" stroke-width="2"/>
<text transform="translate(1693.30 86.84) rotate(-90) scale(1 0.9587)" font-size="25.90" fill="#231815" stroke="#231815" stroke-width="0.42">High</text>
<text transform="translate(1693.60 359.50) rotate(-90) scale(1 1.0703)" font-size="25.41" fill="#231815" stroke="#231815" stroke-width="0.42">Low</text>
<text x="1.19" y="457.50" font-size="30.30" fill="#000" font-weight="bold" transform="matrix(1 0 0 0.9788 0 9.69)">d</text>
<path d="M917,496.4 V849.4 H38.2 V496.4" fill="none" stroke="#5a5a5a" stroke-width="1.8"/>
<line x1="37.3" y1="495.6" x2="917.9" y2="495.6" stroke="#1e1a1a" stroke-width="1.6"/>
<line x1="82.3" y1="849" x2="82.3" y2="840" stroke="#444" stroke-width="1.6"/>
<line x1="220.4" y1="849" x2="220.4" y2="840" stroke="#444" stroke-width="1.6"/>
<line x1="358.6" y1="849" x2="358.6" y2="840" stroke="#444" stroke-width="1.6"/>
<line x1="496.7" y1="849" x2="496.7" y2="840" stroke="#444" stroke-width="1.6"/>
<line x1="634.9" y1="849" x2="634.9" y2="840" stroke="#444" stroke-width="1.6"/>
<line x1="773.0" y1="849" x2="773.0" y2="840" stroke="#444" stroke-width="1.6"/>
<line x1="911.1" y1="849" x2="911.1" y2="840" stroke="#444" stroke-width="1.6"/>
<text x="76.84" y="879.50" font-size="31.41" fill="#111" stroke="#111" stroke-width="0.42" transform="matrix(1 0 0 0.9400 0 52.77)">0</text>
<text x="204.55" y="879.50" font-size="30.90" fill="#111" stroke="#111" stroke-width="0.42" transform="matrix(1 0 0 0.9400 0 52.77)">20</text>
<text x="343.72" y="879.50" font-size="30.10" fill="#111" stroke="#111" stroke-width="0.42" transform="matrix(1 0 0 0.9432 0 49.92)">40</text>
<text x="480.53" y="879.50" font-size="31.49" fill="#111" stroke="#111" stroke-width="0.42" transform="matrix(1 0 0 0.9400 0 52.77)">60</text>
<text x="619.07" y="879.50" font-size="31.26" fill="#111" stroke="#111" stroke-width="0.42" transform="matrix(1 0 0 0.9400 0 52.77)">80</text>
<text x="748.37" y="879.50" font-size="31.06" fill="#111" stroke="#111" stroke-width="0.42" transform="matrix(1 0 0 0.9400 0 52.77)">100</text>
<text x="888.20" y="879.50" font-size="29.32" fill="#111" stroke="#111" stroke-width="0.42" transform="matrix(1 0 0 0.9680 0 28.12)">120</text>
<text x="369.83" y="918.30" font-size="29.94" fill="#111" stroke="#111" stroke-width="0.42" transform="matrix(1 0 0 0.9400 0 55.10)">Energy (meV)</text>
<text transform="translate(21.80 825.56) rotate(-90) scale(1 0.9898)" font-size="29.82" fill="#111" stroke="#111" stroke-width="0.42">Intensity (arb. units)</text>
<path d="M126.5,500.5 C126.85,514.2 127.92,558.73 128.6,582.7 C129.28,606.67 129.92,625.13 130.6,644.3 C131.28,663.47 131.67,681.28 132.7,697.7 C133.73,714.12 135.1,729.8 136.8,742.8 C138.5,755.8 140.85,767.48 142.9,775.7 C144.95,783.92 146.25,787.12 149.1,792.1 C151.95,797.08 158.18,803.35 160,805.6 L169.6,813.6 L185.6,819.2 L196.8,820 L198.4,821.6 L219.2,821.6 L220.8,823.2 L254.4,823.2 L256,824.8 L331.2,824.8 L333.6,823.2 L374.4,823.2 L376.8,821.6 L392,821.6 L396.8,819.2 L406.4,818.4 L422.4,813.6 L439.2,800.8  C440.17,799.67 443.2,796.32 445,794 C446.8,791.68 448.15,791.12 450,786.9 C451.85,782.68 454.2,774 456.1,768.7 C458,763.4 459.9,759.63 461.4,755.1 C462.9,750.57 463.72,745.53 465.1,741.5 C466.48,737.47 468.18,734.95 469.7,730.9 C471.22,726.85 472.57,720.98 474.2,717.2 C475.83,713.42 477.85,710.27 479.5,708.2 C481.15,706.13 482.58,705.12 484.1,704.8 C485.62,704.48 487.1,704.73 488.6,706.3 C490.1,707.87 491.47,710.87 493.1,714.2 C494.73,717.53 496.75,721.75 498.4,726.3 C500.05,730.85 501.48,736.45 503,741.5 C504.52,746.55 505.98,751.82 507.5,756.6 C509.02,761.38 510.58,765.67 512.1,770.2 C513.62,774.73 514.97,779.5 516.6,783.8 C518.23,788.1 519.88,792.33 521.9,796 C523.92,799.67 526.3,803.03 528.7,805.8 C531.1,808.57 533.52,810.58 536.3,812.6 C539.08,814.62 541.62,816.52 545.4,817.9 C549.18,819.28 553.45,820.4 559,820.9 C564.55,821.4 573.53,821.4 578.7,820.9 C583.87,820.4 586.5,818.67 590,817.9 C593.5,817.13 596.73,817.12 599.7,816.3 C602.67,815.48 605.08,814.08 607.8,813 C610.52,811.92 613.28,811.02 616,809.8 C618.72,808.58 621.4,807.12 624.1,805.7 C626.8,804.28 629.5,802.83 632.2,801.3 C634.9,799.77 637.87,798.07 640.3,796.5 C642.73,794.93 644.63,793.73 646.8,791.9 C648.97,790.07 651.28,787.93 653.3,785.5 C655.32,783.07 657.02,780.15 658.9,777.3 C660.78,774.45 662.83,771.37 664.6,768.4 C666.37,765.43 668.02,762.6 669.5,759.5 C670.98,756.4 672.15,753.32 673.5,749.8 C674.85,746.28 676.23,742.73 677.6,738.4 C678.97,734.07 680.35,728.4 681.7,723.8 C683.05,719.2 684.48,714.85 685.7,710.8 C686.92,706.75 687.88,704.87 689,699.5 C690.12,694.13 691.38,684.42 692.4,678.6 C693.42,672.78 694.2,669.28 695.1,664.6 C696,659.92 696.72,655.18 697.8,650.5 C698.88,645.82 700.42,641.35 701.6,636.5 C702.78,631.65 703.82,626.98 704.9,621.4 C705.98,615.82 707.3,608.23 708.1,603 C708.9,597.77 709.15,594.73 709.7,590 C710.25,585.27 710.67,579.33 711.4,574.6 C712.13,569.87 713.12,565.93 714.1,561.6 C715.08,557.27 716.32,552.73 717.3,548.6 C718.28,544.47 719.1,540.22 720,536.8 C720.9,533.38 721.8,530.9 722.7,528.1 C723.6,525.3 724.42,521.98 725.4,520 C726.38,518.02 727.52,517.33 728.6,516.2 C729.68,515.07 730.9,513.7 731.9,513.2 C732.9,512.7 733.7,512.6 734.6,513.2 C735.5,513.8 736.32,515.22 737.3,516.8 C738.28,518.38 739.52,520.45 740.5,522.7 C741.48,524.95 742.3,527.42 743.2,530.3 C744.1,533.18 745.08,536.22 745.9,540 C746.72,543.78 747.28,548.5 748.1,553 C748.92,557.5 749.9,562.32 750.8,567 C751.7,571.68 752.42,575.87 753.5,581.1 C754.58,586.33 756.22,593.47 757.3,598.4 C758.38,603.33 758.68,603.45 760,610.7 C761.32,617.95 763.25,630.65 765.2,641.9 C767.15,653.15 769.53,667.83 771.7,678.2 C773.87,688.57 775.83,695.03 778.2,704.1 C780.57,713.17 783.32,725.25 785.9,732.6 C788.48,739.95 790.88,743 793.7,748.2 C796.52,753.4 799.77,759.27 802.8,763.8 C805.83,768.33 808.67,771.95 811.9,775.4 C815.13,778.85 819.18,781.9 822.2,784.5 C825.22,787.1 827.4,789.27 830,791 C832.6,792.73 834.77,793.38 837.8,794.9 C840.83,796.42 844.32,798.58 848.2,800.1 C852.08,801.62 856.78,802.72 861.1,804 C865.42,805.28 869.33,806.73 874.1,807.8 C878.87,808.87 883.43,809.32 889.7,810.4 C895.97,811.48 908.03,813.65 911.7,814.3" fill="none" stroke="#e8282c" stroke-width="2.7" stroke-linejoin="round"/>
<path d="M142.1,500.5 C142.58,510.77 143.83,543.62 145,562.1 C146.17,580.58 147.73,596.33 149.1,611.4 C150.47,626.47 151.48,638.8 153.2,652.5 C154.92,666.2 157.35,681.97 159.4,693.6 C161.45,705.23 163.8,714.3 165.5,722.3 C167.2,730.3 168.92,738.38 169.6,741.6 L177.6,752.8 L184,765.6 L192,774.4 L200,783.2 L206.4,787.7 L217.6,787.7 L224,791.2 L228.8,792.8 L248,792.8 L256,799.5 L273.6,799.5 L281.6,802.9 L288,800.8 L292.8,799.2 L300.8,799.5 L304,801.1 L310.4,801.6 L316.8,804.5 L329.6,804.5 L333.6,808 L336,805.9 L350.4,805.9 L358.4,809.3 L372.8,809.3 L375.2,811.2 L386.4,811.2 L392,808 L401.6,802.9 L408,804.5 L419.2,799.2 L428.8,791.2 L439.2,768.8  C440.17,766.83 443.2,761.43 445,757 C446.8,752.57 448.28,748.32 450,742.2 C451.72,736.08 453.78,726.98 455.3,720.3 C456.82,713.62 458.08,707.15 459.1,702.1 C460.12,697.05 460.37,696.68 461.4,690 C462.43,683.32 464,671.33 465.3,662 C466.6,652.67 468.02,641.53 469.2,634 C470.38,626.47 471.05,624.08 472.4,616.8 C473.75,609.52 476.03,596.7 477.3,590.3 C478.57,583.9 479.02,582.02 480,578.4 C480.98,574.78 482.12,571.13 483.2,568.6 C484.28,566.07 485.5,564.1 486.5,563.2 C487.5,562.3 488.3,562.65 489.2,563.2 C490.1,563.75 491.08,564.52 491.9,566.5 C492.72,568.48 493.28,571.77 494.1,575.1 C494.92,578.43 495.9,582.35 496.8,586.5 C497.7,590.65 498.6,595.77 499.5,600 C500.4,604.23 501.3,608.03 502.2,611.9 C503.1,615.77 503.92,619.33 504.9,623.2 C505.88,627.07 506.83,630.3 508.1,635.1 C509.37,639.9 510.93,646.02 512.5,652 C514.07,657.98 515.8,664.67 517.5,671 C519.2,677.33 520.83,684.82 522.7,690 C524.57,695.18 526.68,696.8 528.7,702.1 C530.72,707.4 532.78,716.25 534.8,721.8 C536.82,727.35 538.78,731.12 540.8,735.4 C542.82,739.68 544.88,743.97 546.9,747.5 C548.92,751.03 550.88,753.32 552.9,756.6 C554.92,759.88 556.73,763.92 559,767.2 C561.27,770.48 563.98,773.9 566.5,776.3 C569.02,778.7 571.82,781.48 574.1,781.6 C576.38,781.72 578.18,779.65 580.2,777 C582.22,774.35 584.57,768.35 586.2,765.7 C587.83,763.05 588.28,764.3 590,761.1 C591.72,757.9 594.75,751.37 596.5,746.5 C598.25,741.63 599.15,736.5 600.5,731.9 C601.85,727.3 603.38,723.22 604.6,718.9 C605.82,714.58 606.72,710.32 607.8,706 C608.88,701.68 610.15,697.07 611.1,693 C612.05,688.93 612.68,685.43 613.5,681.6 C614.32,677.77 615.18,673.55 616,670 C616.82,666.45 617.55,663.63 618.4,660.3 C619.25,656.97 620.12,653.07 621.1,650 C622.08,646.93 623.32,644.7 624.3,641.9 C625.28,639.1 626.1,635.72 627,633.2 C627.9,630.68 628.88,629.23 629.7,626.8 C630.52,624.37 631.08,620.58 631.9,618.6 C632.72,616.62 633.65,615.85 634.6,614.9 C635.55,613.95 636.52,612.73 637.6,612.9 C638.68,613.07 639.98,614.67 641.1,615.9 C642.22,617.13 643.4,618.48 644.3,620.3 C645.2,622.12 645.78,624.47 646.5,626.8 C647.22,629.13 647.7,632.33 648.6,634.3 C649.5,636.27 650.82,636.97 651.9,638.6 C652.98,640.23 654.02,641.93 655.1,644.1 C656.18,646.27 657.13,649.8 658.4,651.6 C659.67,653.4 661.08,653.45 662.7,654.9 C664.32,656.35 666.3,658.68 668.1,660.3 C669.9,661.92 671.88,664.07 673.5,664.6 C675.12,665.13 676.35,663.68 677.8,663.5 C679.25,663.32 680.75,664.03 682.2,663.5 C683.65,662.97 685.07,661.73 686.5,660.3 C687.93,658.87 689.53,656.7 690.8,654.9 C692.07,653.1 693.2,651.48 694.1,649.5 C695,647.52 695.48,645.72 696.2,643 C696.92,640.28 697.5,635.9 698.4,633.2 C699.3,630.5 700.7,629.5 701.6,626.8 C702.5,624.1 702.9,620.62 703.8,617 C704.7,613.38 706.05,609.1 707,605.1 C707.95,601.1 708.68,596.28 709.5,593 C710.32,589.72 710.97,588.47 711.9,585.4 C712.83,582.33 714.12,578.2 715.1,574.6 C716.08,571 716.8,567.4 717.8,563.8 C718.8,560.2 720.2,555.88 721.1,553 C722,550.12 722.4,549.2 723.2,546.5 C724,543.8 725,539.78 725.9,536.8 C726.8,533.82 727.68,531.32 728.6,528.6 C729.52,525.88 730.4,522.57 731.4,520.5 C732.4,518.43 733.62,517.1 734.6,516.2 C735.58,515.3 735.87,515.28 737.3,515.1 C738.73,514.92 741.77,514.37 743.2,515.1 C744.63,515.83 745,517.33 745.9,519.5 C746.8,521.67 747.68,524.68 748.6,528.1 C749.52,531.52 750.4,535.85 751.4,540 C752.4,544.15 753.62,548.5 754.6,553 C755.58,557.5 756.48,562.87 757.3,567 C758.12,571.13 758.68,574.02 759.5,577.8 C760.32,581.58 761.25,585.07 762.2,589.7 C763.15,594.33 763.83,596.9 765.2,605.6 C766.57,614.3 768.67,631.1 770.4,641.9 C772.13,652.7 773.88,661.77 775.6,670.4 C777.32,679.03 779.2,687.65 780.7,693.7 C782.2,699.75 783.08,702.8 784.6,706.7 C786.12,710.6 788.28,712.78 789.8,717.1 C791.32,721.42 792.18,727.85 793.7,732.6 C795.22,737.35 796.95,741.7 798.9,745.6 C800.85,749.5 803.45,752.12 805.4,756 C807.35,759.88 808.65,764.8 810.6,768.9 C812.55,773 814.52,777.35 817.1,780.6 C819.68,783.85 823.08,786.88 826.1,788.4 C829.12,789.92 832.82,789.05 835.2,789.7 C837.58,790.35 838.23,790.13 840.4,792.3 C842.57,794.47 845.18,800.55 848.2,802.7 C851.22,804.85 855.48,803.92 858.5,805.2 C861.52,806.48 864.13,809.1 866.3,810.4 C868.47,811.7 869.33,813.22 871.5,813 C873.67,812.78 876.7,809.32 879.3,809.1 C881.9,808.88 884.08,810.83 887.1,811.7 C890.12,812.57 893.3,813.43 897.4,814.3 C901.5,815.17 909.32,816.47 911.7,816.9" fill="none" stroke="#2b4ea6" stroke-width="2.7" stroke-linejoin="round"/>
<text x="158.11" y="561.30" font-size="30.20" fill="#2b4ea6" stroke="#2b4ea6" stroke-width="0.42" transform="matrix(1 0 0 0.9400 0 33.68)">FeSe/LFO/STO</text>
<line x1="147.7" y1="599.8" x2="181" y2="581.5" stroke="#2b4ea6" stroke-width="2.2"/>
<path d="M191.8,575.2 L171.9,575.9 L179.7,582.5 L181.4,592 Z" fill="#2b4ea6"/>
<text x="191.01" y="692.30" font-size="30.23" fill="#e8282c" stroke="#e8282c" stroke-width="0.42" transform="matrix(1 0 0 0.9491 0 35.26)">FeSe/STO</text>
<text x="178.78" y="729.50" font-size="29.90" fill="#e8282c" stroke="#e8282c" stroke-width="0.42" transform="matrix(1 0 0 1.0200 0 -14.59)">intensity×0.22</text>
<line x1="133.8" y1="702.7" x2="172" y2="689" stroke="#e8282c" stroke-width="2.2"/>
<path d="M183.1,686.3 L162.4,682.8 L169.3,689.8 L170.2,700.1 Z" fill="#e8282c"/>
<text x="438.50" y="533.40" font-size="30.07" fill="#2b4ea6" stroke="#2b4ea6" stroke-width="0.42" transform="matrix(1 0 0 1.0205 0 -10.91)">59 meV</text>
<line x1="487.8" y1="540.8" x2="487.8" y2="556" stroke="#2b4ea6" stroke-width="2.2"/>
<text x="572.03" y="582.70" font-size="29.85" fill="#2b4ea6" stroke="#2b4ea6" stroke-width="0.42" transform="matrix(1 0 0 1.0277 0 -16.16)">80 meV</text>
<line x1="629.6" y1="595" x2="635.8" y2="609.5" stroke="#2b4ea6" stroke-width="2.2"/>
<text x="466.01" y="679.50" font-size="29.83" fill="#e8282c" stroke="#e8282c" stroke-width="0.42" transform="matrix(1 0 0 1.0381 0 -25.89)">58 meV</text>
<line x1="483.3" y1="688.4" x2="483.3" y2="699.7" stroke="#e8282c" stroke-width="2.2"/>
<text x="619.68" y="521.20" font-size="29.99" fill="#e8282c" stroke="#e8282c" stroke-width="0.42" transform="matrix(1 0 0 1.0280 0 -14.59)">94 meV</text>
<line x1="724.4" y1="501.1" x2="730.3" y2="510.8" stroke="#e8282c" stroke-width="2"/>
<text x="758.59" y="519.00" font-size="29.78" fill="#2b4ea6" stroke="#2b4ea6" stroke-width="0.42">95 meV</text>
<line x1="749.7" y1="503.4" x2="740.7" y2="510.8" stroke="#2b4ea6" stroke-width="2"/>
<text x="972.36" y="470.40" font-size="30.88" fill="#000" font-weight="bold" transform="matrix(1 0 0 0.9400 0 28.22)">e</text>
<rect x="1015.1" y="495.1" width="293.4" height="353.7" fill="none" stroke="#111" stroke-width="1.7"/>
<line x1="1019.4" y1="848.8" x2="1019.4" y2="844.2" stroke="#111" stroke-width="1.5"/>
<line x1="1034.0" y1="848.8" x2="1034.0" y2="844.2" stroke="#111" stroke-width="1.5"/>
<line x1="1048.6" y1="848.8" x2="1048.6" y2="839.5" stroke="#111" stroke-width="1.5"/>
<line x1="1063.3" y1="848.8" x2="1063.3" y2="844.2" stroke="#111" stroke-width="1.5"/>
<line x1="1077.9" y1="848.8" x2="1077.9" y2="844.2" stroke="#111" stroke-width="1.5"/>
<line x1="1092.5" y1="848.8" x2="1092.5" y2="844.2" stroke="#111" stroke-width="1.5"/>
<line x1="1107.2" y1="848.8" x2="1107.2" y2="844.2" stroke="#111" stroke-width="1.5"/>
<line x1="1121.8" y1="848.8" x2="1121.8" y2="839.5" stroke="#111" stroke-width="1.5"/>
<line x1="1136.4" y1="848.8" x2="1136.4" y2="844.2" stroke="#111" stroke-width="1.5"/>
<line x1="1151.1" y1="848.8" x2="1151.1" y2="844.2" stroke="#111" stroke-width="1.5"/>
<line x1="1165.7" y1="848.8" x2="1165.7" y2="844.2" stroke="#111" stroke-width="1.5"/>
<line x1="1180.3" y1="848.8" x2="1180.3" y2="844.2" stroke="#111" stroke-width="1.5"/>
<line x1="1194.9" y1="848.8" x2="1194.9" y2="839.5" stroke="#111" stroke-width="1.5"/>
<line x1="1209.6" y1="848.8" x2="1209.6" y2="844.2" stroke="#111" stroke-width="1.5"/>
<line x1="1224.2" y1="848.8" x2="1224.2" y2="844.2" stroke="#111" stroke-width="1.5"/>
<line x1="1238.8" y1="848.8" x2="1238.8" y2="844.2" stroke="#111" stroke-width="1.5"/>
<line x1="1253.5" y1="848.8" x2="1253.5" y2="844.2" stroke="#111" stroke-width="1.5"/>
<line x1="1268.1" y1="848.8" x2="1268.1" y2="839.5" stroke="#111" stroke-width="1.5"/>
<line x1="1282.7" y1="848.8" x2="1282.7" y2="844.2" stroke="#111" stroke-width="1.5"/>
<line x1="1297.4" y1="848.8" x2="1297.4" y2="844.2" stroke="#111" stroke-width="1.5"/>
<text x="1020.26" y="877.10" font-size="29.78" fill="#111" stroke="#111" stroke-width="0.42" transform="matrix(1 0 0 0.9676 0 28.45)">-0.15</text>
<text x="1092.85" y="877.10" font-size="29.98" fill="#111" stroke="#111" stroke-width="0.42" transform="matrix(1 0 0 0.9613 0 33.94)">-0.10</text>
<text x="1165.95" y="877.10" font-size="30.01" fill="#111" stroke="#111" stroke-width="0.42" transform="matrix(1 0 0 0.9602 0 34.90)">-0.05</text>
<text x="1259.30" y="877.10" font-size="32.46" fill="#111" stroke="#111" stroke-width="0.42" transform="matrix(1 0 0 0.9400 0 52.63)">0</text>
<text x="1105.36" y="908.80" font-size="29.61" fill="#111" stroke="#111" stroke-width="0.42" transform="matrix(1 0 0 1.0563 0 -51.14)">E - E</text>
<text x="1171.23" y="918.60" font-size="17.85" fill="#111" stroke="#111" stroke-width="0.42" transform="matrix(1 0 0 0.9862 0 12.67)">F</text>
<text x="1190.23" y="908.80" font-size="29.96" fill="#111" stroke="#111" stroke-width="0.42" transform="matrix(1 0 0 1.0200 0 -18.18)">(eV)</text>
<text transform="translate(1000.90 771.07) rotate(-90) scale(1 1.0002)" font-size="29.92" fill="#111" stroke="#111" stroke-width="0.42">Intensity (arb. units)</text>
<g fill="none" stroke="#2b4ea6" stroke-width="1.15"><circle cx="1020.0" cy="554.5" r="2.75"/><circle cx="1021.8" cy="561.1" r="2.75"/><circle cx="1023.7" cy="555.8" r="2.75"/><circle cx="1026.4" cy="561.2" r="2.75"/><circle cx="1028.2" cy="557.9" r="2.75"/><circle cx="1030.8" cy="558.5" r="2.75"/><circle cx="1033.5" cy="569.3" r="2.75"/><circle cx="1035.1" cy="567.4" r="2.75"/><circle cx="1038.1" cy="573.3" r="2.75"/><circle cx="1040.3" cy="563.1" r="2.75"/><circle cx="1042.5" cy="564.6" r="2.75"/><circle cx="1044.3" cy="564.4" r="2.75"/><circle cx="1046.5" cy="564.3" r="2.75"/><circle cx="1049.4" cy="565.2" r="2.75"/><circle cx="1051.7" cy="555.7" r="2.75"/><circle cx="1054.2" cy="564.1" r="2.75"/><circle cx="1056.2" cy="555.0" r="2.75"/><circle cx="1058.3" cy="559.1" r="2.75"/><circle cx="1061.3" cy="568.2" r="2.75"/><circle cx="1063.4" cy="554.9" r="2.75"/><circle cx="1065.2" cy="553.1" r="2.75"/><circle cx="1067.3" cy="556.5" r="2.75"/><circle cx="1070.5" cy="554.3" r="2.75"/><circle cx="1072.3" cy="550.9" r="2.75"/><circle cx="1074.1" cy="562.6" r="2.75"/><circle cx="1076.7" cy="555.3" r="2.75"/><circle cx="1079.9" cy="561.9" r="2.75"/><circle cx="1081.5" cy="557.9" r="2.75"/><circle cx="1084.2" cy="566.2" r="2.75"/><circle cx="1085.9" cy="565.5" r="2.75"/><circle cx="1089.1" cy="567.6" r="2.75"/><circle cx="1091.1" cy="568.2" r="2.75"/><circle cx="1092.6" cy="569.3" r="2.75"/><circle cx="1094.9" cy="570.0" r="2.75"/><circle cx="1097.8" cy="569.7" r="2.75"/><circle cx="1099.9" cy="567.4" r="2.75"/><circle cx="1101.9" cy="571.1" r="2.75"/><circle cx="1104.8" cy="573.9" r="2.75"/><circle cx="1106.6" cy="570.7" r="2.75"/><circle cx="1108.9" cy="569.2" r="2.75"/><circle cx="1111.3" cy="571.0" r="2.75"/><circle cx="1114.3" cy="561.4" r="2.75"/><circle cx="1116.5" cy="561.5" r="2.75"/><circle cx="1118.6" cy="561.3" r="2.75"/><circle cx="1120.4" cy="563.5" r="2.75"/><circle cx="1122.7" cy="558.1" r="2.75"/><circle cx="1125.1" cy="550.4" r="2.75"/><circle cx="1127.1" cy="545.2" r="2.75"/><circle cx="1129.6" cy="551.2" r="2.75"/><circle cx="1132.3" cy="551.6" r="2.75"/><circle cx="1135.1" cy="548.2" r="2.75"/><circle cx="1136.8" cy="557.7" r="2.75"/><circle cx="1138.7" cy="553.0" r="2.75"/><circle cx="1141.0" cy="561.0" r="2.75"/><circle cx="1143.4" cy="575.2" r="2.75"/><circle cx="1145.6" cy="572.2" r="2.75"/><circle cx="1147.9" cy="579.9" r="2.75"/><circle cx="1151.1" cy="581.0" r="2.75"/><circle cx="1152.8" cy="595.8" r="2.75"/><circle cx="1154.7" cy="594.0" r="2.75"/><circle cx="1157.2" cy="606.5" r="2.75"/><circle cx="1160.0" cy="604.3" r="2.75"/><circle cx="1162.2" cy="604.3" r="2.75"/><circle cx="1164.2" cy="610.3" r="2.75"/><circle cx="1166.2" cy="607.8" r="2.75"/><circle cx="1168.7" cy="609.9" r="2.75"/><circle cx="1171.4" cy="598.5" r="2.75"/><circle cx="1173.3" cy="599.3" r="2.75"/><circle cx="1175.3" cy="597.7" r="2.75"/><circle cx="1177.9" cy="590.2" r="2.75"/><circle cx="1180.1" cy="585.2" r="2.75"/><circle cx="1182.6" cy="581.5" r="2.75"/><circle cx="1184.9" cy="574.9" r="2.75"/><circle cx="1187.9" cy="570.6" r="2.75"/><circle cx="1189.9" cy="572.3" r="2.75"/><circle cx="1192.1" cy="565.7" r="2.75"/><circle cx="1193.7" cy="564.6" r="2.75"/><circle cx="1197.1" cy="565.8" r="2.75"/><circle cx="1198.3" cy="564.7" r="2.75"/><circle cx="1201.4" cy="563.9" r="2.75"/><circle cx="1203.3" cy="572.2" r="2.75"/><circle cx="1206.4" cy="583.9" r="2.75"/><circle cx="1208.4" cy="597.0" r="2.75"/><circle cx="1210.9" cy="606.8" r="2.75"/><circle cx="1213.1" cy="618.4" r="2.75"/><circle cx="1215.5" cy="627.6" r="2.75"/><circle cx="1217.8" cy="643.7" r="2.75"/><circle cx="1220.0" cy="656.9" r="2.75"/><circle cx="1222.3" cy="663.1" r="2.75"/><circle cx="1224.3" cy="675.0" r="2.75"/><circle cx="1226.6" cy="679.8" r="2.75"/><circle cx="1228.9" cy="685.2" r="2.75"/><circle cx="1231.7" cy="692.5" r="2.75"/><circle cx="1233.9" cy="696.0" r="2.75"/><circle cx="1236.0" cy="699.3" r="2.75"/><circle cx="1238.1" cy="702.4" r="2.75"/><circle cx="1239.8" cy="704.3" r="2.75"/><circle cx="1242.9" cy="709.7" r="2.75"/><circle cx="1244.9" cy="713.2" r="2.75"/><circle cx="1246.9" cy="714.8" r="2.75"/><circle cx="1249.6" cy="716.5" r="2.75"/><circle cx="1252.3" cy="717.5" r="2.75"/><circle cx="1253.9" cy="720.6" r="2.75"/><circle cx="1256.6" cy="722.6" r="2.75"/><circle cx="1259.2" cy="724.5" r="2.75"/><circle cx="1261.2" cy="726.0" r="2.75"/><circle cx="1263.1" cy="723.9" r="2.75"/><circle cx="1265.8" cy="727.6" r="2.75"/><circle cx="1268.3" cy="727.8" r="2.75"/><circle cx="1270.7" cy="729.2" r="2.75"/><circle cx="1272.6" cy="729.6" r="2.75"/><circle cx="1274.6" cy="728.1" r="2.75"/><circle cx="1277.5" cy="729.8" r="2.75"/><circle cx="1279.8" cy="730.0" r="2.75"/><circle cx="1281.4" cy="728.4" r="2.75"/><circle cx="1283.6" cy="726.5" r="2.75"/><circle cx="1286.0" cy="728.3" r="2.75"/><circle cx="1288.5" cy="729.5" r="2.75"/><circle cx="1290.7" cy="728.4" r="2.75"/><circle cx="1293.6" cy="728.4" r="2.75"/><circle cx="1295.0" cy="730.6" r="2.75"/><circle cx="1297.2" cy="729.3" r="2.75"/><circle cx="1300.4" cy="729.8" r="2.75"/><circle cx="1302.5" cy="729.4" r="2.75"/><circle cx="1304.1" cy="728.9" r="2.75"/></g>
<g fill="none" stroke="#e8282c" stroke-width="1.15"><circle cx="1019.1" cy="684.4" r="2.75"/><circle cx="1022.3" cy="680.6" r="2.75"/><circle cx="1024.0" cy="680.5" r="2.75"/><circle cx="1026.9" cy="680.1" r="2.75"/><circle cx="1029.0" cy="679.6" r="2.75"/><circle cx="1031.9" cy="676.9" r="2.75"/><circle cx="1034.5" cy="676.1" r="2.75"/><circle cx="1036.3" cy="676.6" r="2.75"/><circle cx="1038.3" cy="675.2" r="2.75"/><circle cx="1041.4" cy="677.3" r="2.75"/><circle cx="1043.1" cy="674.8" r="2.75"/><circle cx="1046.1" cy="674.1" r="2.75"/><circle cx="1048.3" cy="675.5" r="2.75"/><circle cx="1050.6" cy="671.4" r="2.75"/><circle cx="1053.5" cy="671.3" r="2.75"/><circle cx="1056.0" cy="674.2" r="2.75"/><circle cx="1058.2" cy="674.1" r="2.75"/><circle cx="1060.5" cy="676.7" r="2.75"/><circle cx="1063.2" cy="677.8" r="2.75"/><circle cx="1065.6" cy="675.9" r="2.75"/><circle cx="1067.9" cy="680.9" r="2.75"/><circle cx="1070.1" cy="683.1" r="2.75"/><circle cx="1071.9" cy="682.6" r="2.75"/><circle cx="1074.9" cy="684.6" r="2.75"/><circle cx="1077.4" cy="683.7" r="2.75"/><circle cx="1080.1" cy="689.1" r="2.75"/><circle cx="1082.5" cy="693.2" r="2.75"/><circle cx="1084.1" cy="688.2" r="2.75"/><circle cx="1087.2" cy="691.7" r="2.75"/><circle cx="1088.6" cy="693.9" r="2.75"/><circle cx="1091.4" cy="692.2" r="2.75"/><circle cx="1093.9" cy="691.1" r="2.75"/><circle cx="1095.7" cy="693.5" r="2.75"/><circle cx="1099.1" cy="694.6" r="2.75"/><circle cx="1100.7" cy="693.5" r="2.75"/><circle cx="1103.1" cy="692.3" r="2.75"/><circle cx="1105.5" cy="696.1" r="2.75"/><circle cx="1108.7" cy="689.0" r="2.75"/><circle cx="1110.9" cy="689.6" r="2.75"/><circle cx="1113.6" cy="690.0" r="2.75"/><circle cx="1115.0" cy="685.9" r="2.75"/><circle cx="1117.6" cy="685.7" r="2.75"/><circle cx="1120.6" cy="686.2" r="2.75"/><circle cx="1123.1" cy="681.6" r="2.75"/><circle cx="1125.2" cy="681.1" r="2.75"/><circle cx="1127.9" cy="682.1" r="2.75"/><circle cx="1130.4" cy="684.4" r="2.75"/><circle cx="1132.9" cy="685.8" r="2.75"/><circle cx="1134.7" cy="690.3" r="2.75"/><circle cx="1137.1" cy="688.1" r="2.75"/><circle cx="1139.5" cy="691.7" r="2.75"/><circle cx="1142.5" cy="696.1" r="2.75"/><circle cx="1144.3" cy="700.4" r="2.75"/><circle cx="1146.8" cy="702.4" r="2.75"/><circle cx="1149.1" cy="710.1" r="2.75"/><circle cx="1151.5" cy="711.3" r="2.75"/><circle cx="1153.8" cy="714.3" r="2.75"/><circle cx="1156.0" cy="721.4" r="2.75"/><circle cx="1158.7" cy="718.2" r="2.75"/><circle cx="1161.5" cy="722.0" r="2.75"/><circle cx="1164.0" cy="723.5" r="2.75"/><circle cx="1165.5" cy="720.6" r="2.75"/><circle cx="1168.4" cy="721.4" r="2.75"/><circle cx="1171.0" cy="721.1" r="2.75"/><circle cx="1172.5" cy="718.9" r="2.75"/><circle cx="1175.7" cy="716.2" r="2.75"/><circle cx="1177.7" cy="713.3" r="2.75"/><circle cx="1179.8" cy="706.4" r="2.75"/><circle cx="1183.0" cy="704.3" r="2.75"/><circle cx="1184.8" cy="698.5" r="2.75"/><circle cx="1187.1" cy="693.1" r="2.75"/><circle cx="1189.8" cy="686.0" r="2.75"/><circle cx="1192.2" cy="684.2" r="2.75"/><circle cx="1194.3" cy="680.3" r="2.75"/><circle cx="1197.3" cy="680.6" r="2.75"/><circle cx="1199.9" cy="680.8" r="2.75"/><circle cx="1202.0" cy="682.0" r="2.75"/><circle cx="1204.6" cy="689.6" r="2.75"/><circle cx="1207.1" cy="693.7" r="2.75"/><circle cx="1208.9" cy="703.4" r="2.75"/><circle cx="1212.0" cy="710.0" r="2.75"/><circle cx="1214.4" cy="723.2" r="2.75"/><circle cx="1215.9" cy="739.6" r="2.75"/><circle cx="1218.4" cy="745.5" r="2.75"/><circle cx="1220.6" cy="761.3" r="2.75"/><circle cx="1223.8" cy="771.2" r="2.75"/><circle cx="1225.5" cy="777.6" r="2.75"/><circle cx="1227.7" cy="785.8" r="2.75"/><circle cx="1230.3" cy="796.5" r="2.75"/><circle cx="1233.7" cy="799.5" r="2.75"/><circle cx="1235.0" cy="803.7" r="2.75"/><circle cx="1237.9" cy="810.2" r="2.75"/><circle cx="1240.5" cy="816.8" r="2.75"/><circle cx="1242.2" cy="820.9" r="2.75"/><circle cx="1244.5" cy="825.1" r="2.75"/><circle cx="1247.6" cy="826.4" r="2.75"/><circle cx="1249.5" cy="830.7" r="2.75"/><circle cx="1252.7" cy="834.0" r="2.75"/><circle cx="1255.3" cy="836.6" r="2.75"/><circle cx="1256.6" cy="838.8" r="2.75"/><circle cx="1260.0" cy="840.9" r="2.75"/><circle cx="1261.7" cy="841.1" r="2.75"/><circle cx="1264.3" cy="841.8" r="2.75"/><circle cx="1266.8" cy="842.0" r="2.75"/><circle cx="1268.5" cy="843.6" r="2.75"/><circle cx="1271.1" cy="844.0" r="2.75"/><circle cx="1273.8" cy="843.4" r="2.75"/><circle cx="1275.9" cy="844.7" r="2.75"/><circle cx="1278.3" cy="844.3" r="2.75"/><circle cx="1281.6" cy="845.0" r="2.75"/><circle cx="1283.9" cy="845.3" r="2.75"/><circle cx="1286.1" cy="845.1" r="2.75"/><circle cx="1288.2" cy="844.1" r="2.75"/><circle cx="1291.3" cy="844.4" r="2.75"/><circle cx="1293.5" cy="844.3" r="2.75"/><circle cx="1295.8" cy="844.4" r="2.75"/><circle cx="1298.2" cy="845.6" r="2.75"/><circle cx="1300.8" cy="844.3" r="2.75"/><circle cx="1303.2" cy="843.2" r="2.75"/></g>
<path d="M1019.5,557.4 C1021.65,558.2 1028.45,561.3 1032.4,562.2 C1036.35,563.1 1039.58,563.17 1043.2,562.8 C1046.82,562.43 1050.48,561.43 1054.1,560 C1057.72,558.57 1062.02,555.22 1064.9,554.2 C1067.78,553.18 1068.88,553.12 1071.4,553.9 C1073.92,554.68 1076.77,556.8 1080,558.9 C1083.23,561 1087.55,564.7 1090.8,566.5 C1094.05,568.3 1096.62,569.52 1099.5,569.7 C1102.38,569.88 1105.22,569.22 1108.1,567.6 C1110.98,565.98 1114.28,562.7 1116.8,560 C1119.32,557.3 1121.05,553.57 1123.2,551.4 C1125.35,549.23 1127.72,547 1129.7,547 C1131.68,547 1133.3,548.87 1135.1,551.4 C1136.9,553.93 1138.52,557.88 1140.5,562.2 C1142.48,566.52 1144.83,572.27 1147,577.3 C1149.17,582.33 1151.15,588.25 1153.5,592.4 C1155.85,596.55 1158.58,600.22 1161.1,602.2 C1163.62,604.18 1166.27,605.03 1168.6,604.3 C1170.93,603.57 1172.93,601.22 1175.1,597.8 C1177.27,594.38 1179.43,588.48 1181.6,583.8 C1183.77,579.12 1185.93,573.02 1188.1,569.7 C1190.27,566.38 1192.62,564.25 1194.6,563.9 C1196.58,563.55 1198.2,564.65 1200,567.6 C1201.8,570.55 1203.78,576.02 1205.4,581.6 C1207.02,587.18 1208.25,593.53 1209.7,601.1 C1211.15,608.67 1212.65,618.72 1214.1,627 C1215.55,635.28 1216.6,642.5 1218.4,650.8 C1220.2,659.1 1222.88,670.27 1224.9,676.8 C1226.92,683.33 1228.35,685.6 1230.5,690 C1232.65,694.4 1234.78,698.83 1237.8,703.2 C1240.82,707.57 1244.98,712.58 1248.6,716.2 C1252.22,719.82 1255.53,722.8 1259.5,724.9 C1263.47,727 1265.2,728.02 1272.4,728.8 C1279.6,729.58 1297.65,729.47 1302.7,729.6" fill="none" stroke="#1a1a1a" stroke-width="2.6"/>
<path d="M1019.5,681.6 C1021.65,681.07 1028.45,679.55 1032.4,678.4 C1036.35,677.25 1039.58,675.6 1043.2,674.7 C1046.82,673.8 1050.48,672.57 1054.1,673 C1057.72,673.43 1061.3,675.13 1064.9,677.3 C1068.5,679.47 1072.1,683.48 1075.7,686 C1079.3,688.52 1082.9,690.97 1086.5,692.4 C1090.1,693.83 1094.07,694.42 1097.3,694.6 C1100.53,694.78 1103.02,694.77 1105.9,693.5 C1108.78,692.23 1111.72,688.8 1114.6,687 C1117.48,685.2 1120.68,683.42 1123.2,682.7 C1125.72,681.98 1127.17,681.43 1129.7,682.7 C1132.23,683.97 1135.52,686.52 1138.4,690.3 C1141.28,694.08 1144.12,700.9 1147,705.4 C1149.88,709.9 1152.82,714.42 1155.7,717.3 C1158.58,720.18 1161.42,722.33 1164.3,722.7 C1167.18,723.07 1170.47,721.67 1173,719.5 C1175.53,717.33 1176.98,714.57 1179.5,709.7 C1182.02,704.83 1185.4,695.27 1188.1,690.3 C1190.8,685.33 1193.35,680.98 1195.7,679.9 C1198.05,678.82 1200.22,680.98 1202.2,683.8 C1204.18,686.62 1205.8,691.4 1207.6,696.8 C1209.4,702.2 1211.2,708.63 1213,716.2 C1214.8,723.77 1216.78,733.92 1218.4,742.2 C1220.02,750.48 1220.9,757.98 1222.7,765.9 C1224.5,773.82 1226.68,782.12 1229.2,789.7 C1231.72,797.28 1234.57,804.92 1237.8,811.4 C1241.03,817.88 1244.98,823.92 1248.6,828.6 C1252.22,833.28 1255.88,836.9 1259.5,839.5 C1263.12,842.1 1265.98,843.2 1270.3,844.2 C1274.62,845.2 1280,845.57 1285.4,845.5 C1290.8,845.43 1299.82,844.08 1302.7,843.8" fill="none" stroke="#1a1a1a" stroke-width="2.6"/>
<line x1="1241" y1="729.6" x2="1266" y2="729.6" stroke="#555" stroke-width="1.4" stroke-dasharray="5,3.5"/>
<text x="1083.95" y="526.60" font-size="30.05" fill="#111" stroke="#111" stroke-width="0.42" transform="matrix(1 0 0 1.0448 0 -23.62)">~88 meV</text>
<g stroke="#3050a8" stroke-width="2"><line x1="1068.8" y1="525.6" x2="1068.8" y2="545.5"/><line x1="1195.6" y1="525.6" x2="1195.6" y2="545.5"/><line x1="1088" y1="535.3" x2="1176" y2="535.3"/></g>
<path d="M1073.2,535.3 L1094.1,527.4 L1089.7,535.3 L1094.1,544.1 Z M1191.3,535.3 L1170.4,527.4 L1174.7,535.3 L1170.4,544.1 Z" fill="#3050a8"/>
<text x="1070.65" y="647.60" font-size="29.97" fill="#111" stroke="#111" stroke-width="0.42" transform="matrix(1 0 0 1.0332 0 -21.50)">~100 meV</text>
<g stroke="#e8282c" stroke-width="2"><line x1="1053" y1="647" x2="1053" y2="667"/><line x1="1196.8" y1="647" x2="1196.8" y2="667"/><line x1="1072" y1="657.3" x2="1178" y2="657.3"/></g>
<path d="M1057.3,657.3 L1078.2,649.4 L1073.8,657.3 L1078.2,666.1 Z M1193.5,657.3 L1172.6,649.4 L1177,657.3 L1172.6,666.1 Z" fill="#e8282c"/>
<circle cx="1045.6" cy="771.4" r="4" fill="none" stroke="#2b4ea6" stroke-width="2.6"/>
<circle cx="1045.6" cy="805.3" r="4" fill="none" stroke="#e8282c" stroke-width="2.6"/>
<text x="1059.42" y="781.90" font-size="30.07" fill="#111" stroke="#111" stroke-width="0.42" transform="matrix(1 0 0 0.9907 0 7.26)">FeSe/LFO</text>
<text x="1059.41" y="814.00" font-size="30.14" fill="#111" stroke="#111" stroke-width="0.42">FeSe/STO</text>
<text x="1360.41" y="470.80" font-size="28.03" fill="#000" font-weight="bold" transform="matrix(1 0 0 1.0628 0 -29.59)">f</text>
<defs>
<filter id="fb" color-interpolation-filters="sRGB" x="-10%" y="-20%" width="120%" height="140%"><feGaussianBlur stdDeviation="4"/></filter>
<filter id="fb2" color-interpolation-filters="sRGB" x="-20%" y="-20%" width="140%" height="140%"><feGaussianBlur stdDeviation="9"/></filter>
<radialGradient id="gP" cx="0.4" cy="0.35" r="0.65"><stop offset="0" stop-color="#d27fd0"/><stop offset="0.5" stop-color="#a64aa8"/><stop offset="1" stop-color="#7a2a80"/></radialGradient>
<radialGradient id="gY" cx="0.4" cy="0.35" r="0.65"><stop offset="0" stop-color="#f4ea70"/><stop offset="0.55" stop-color="#e4d232"/><stop offset="1" stop-color="#a89818"/></radialGradient>
<radialGradient id="gT" cx="0.4" cy="0.3" r="0.7"><stop offset="0" stop-color="#8fe0e0"/><stop offset="0.5" stop-color="#45b5b8"/><stop offset="1" stop-color="#25888e"/></radialGradient>
<linearGradient id="gG" x1="0" y1="0" x2="0" y2="1"><stop offset="0" stop-color="#bfe3cf"/><stop offset="0.45" stop-color="#a6d8bd"/><stop offset="0.85" stop-color="#9dd3b6"/><stop offset="1" stop-color="#b5dfc8"/></linearGradient>
<radialGradient id="gR" cx="0.4" cy="0.35" r="0.65"><stop offset="0" stop-color="#f04040"/><stop offset="1" stop-color="#b01820"/></radialGradient>
</defs>
<rect x="1373" y="486" width="309" height="76" fill="url(#gG)" filter="url(#fb)"/>
<rect x="1373" y="575.5" width="309" height="283.5" fill="#a6dbec" filter="url(#fb)"/>
<rect x="1424" y="585" width="200" height="262" fill="#ffffff" fill-opacity="0.06" filter="url(#fb2)"/>
<g stroke="#4d6275" stroke-width="2.0"><line x1="1440.1" y1="629.2" x2="1606.3" y2="629.2"/><line x1="1440.1" y1="674.5" x2="1606.3" y2="674.5"/><line x1="1440.1" y1="754.9" x2="1606.3" y2="754.9"/><line x1="1440.1" y1="836.5" x2="1606.3" y2="836.5"/><line x1="1440.1" y1="629.2" x2="1440.1" y2="836.5"/><line x1="1522.9" y1="629.2" x2="1522.9" y2="836.5"/><line x1="1606.3" y1="629.2" x2="1606.3" y2="836.5"/><line x1="1481.9" y1="629.2" x2="1481.9" y2="674.5"/><line x1="1564.5" y1="629.2" x2="1564.5" y2="674.5"/></g>
<circle cx="1481.9" cy="494.9" r="12.2" fill="url(#gY)"/>
<circle cx="1564.5" cy="494.9" r="12.2" fill="url(#gY)"/>
<circle cx="1440.1" cy="521.0" r="10.4" fill="url(#gP)"/>
<circle cx="1481.9" cy="521.0" r="10.4" fill="url(#gP)"/>
<circle cx="1522.9" cy="521.0" r="10.4" fill="url(#gP)"/>
<circle cx="1564.5" cy="521.0" r="10.4" fill="url(#gP)"/>
<circle cx="1606.3" cy="521.0" r="10.4" fill="url(#gP)"/>
<circle cx="1440.1" cy="544.6" r="12.2" fill="url(#gY)"/>
<circle cx="1522.9" cy="544.6" r="12.2" fill="url(#gY)"/>
<circle cx="1606.3" cy="544.6" r="12.2" fill="url(#gY)"/>
<circle cx="1440.1" cy="597.4" r="3.8" fill="url(#gR)"/>
<circle cx="1522.9" cy="597.4" r="3.8" fill="url(#gR)"/>
<circle cx="1606.3" cy="597.4" r="3.8" fill="url(#gR)"/>
<circle cx="1481.9" cy="597.4" r="10.4" fill="url(#gP)"/>
<circle cx="1564.5" cy="597.4" r="10.4" fill="url(#gP)"/>
<circle cx="1440.1" cy="629.2" r="10.4" fill="url(#gP)"/>
<circle cx="1481.9" cy="629.2" r="10.4" fill="url(#gP)"/>
<circle cx="1522.9" cy="629.2" r="10.4" fill="url(#gP)"/>
<circle cx="1564.5" cy="629.2" r="10.4" fill="url(#gP)"/>
<circle cx="1606.3" cy="629.2" r="10.4" fill="url(#gP)"/>
<circle cx="1440.1" cy="629.2" r="3.8" fill="url(#gR)"/>
<circle cx="1522.9" cy="629.2" r="3.8" fill="url(#gR)"/>
<circle cx="1606.3" cy="629.2" r="3.8" fill="url(#gR)"/>
<circle cx="1440.1" cy="674.5" r="10.4" fill="url(#gP)"/>
<circle cx="1522.9" cy="674.5" r="10.4" fill="url(#gP)"/>
<circle cx="1606.3" cy="674.5" r="10.4" fill="url(#gP)"/>
<circle cx="1481.9" cy="674.5" r="3.8" fill="url(#gR)"/>
<circle cx="1564.5" cy="674.5" r="3.8" fill="url(#gR)"/>
<circle cx="1440.1" cy="754.9" r="10.4" fill="url(#gP)"/>
<circle cx="1522.9" cy="754.9" r="10.4" fill="url(#gP)"/>
<circle cx="1606.3" cy="754.9" r="10.4" fill="url(#gP)"/>
<circle cx="1481.9" cy="754.9" r="3.8" fill="url(#gR)"/>
<circle cx="1564.5" cy="754.9" r="3.8" fill="url(#gR)"/>
<circle cx="1440.1" cy="836.5" r="10.4" fill="url(#gP)"/>
<circle cx="1522.9" cy="836.5" r="10.4" fill="url(#gP)"/>
<circle cx="1606.3" cy="836.5" r="10.4" fill="url(#gP)"/>
<circle cx="1481.9" cy="836.5" r="3.8" fill="url(#gR)"/>
<circle cx="1564.5" cy="836.5" r="3.8" fill="url(#gR)"/>
<circle cx="1440.1" cy="714.1" r="3.8" fill="url(#gR)"/>
<circle cx="1522.9" cy="714.1" r="3.8" fill="url(#gR)"/>
<circle cx="1606.3" cy="714.1" r="3.8" fill="url(#gR)"/>
<circle cx="1481.9" cy="714.1" r="15.4" fill="url(#gT)"/>
<circle cx="1564.5" cy="714.1" r="15.4" fill="url(#gT)"/>
<circle cx="1440.1" cy="796.0" r="3.8" fill="url(#gR)"/>
<circle cx="1522.9" cy="796.0" r="3.8" fill="url(#gR)"/>
<circle cx="1606.3" cy="796.0" r="3.8" fill="url(#gR)"/>
<circle cx="1481.9" cy="796.0" r="15.4" fill="url(#gT)"/>
<circle cx="1564.5" cy="796.0" r="15.4" fill="url(#gT)"/>
<text x="1392.32" y="577.00" font-size="30.22" fill="#000" stroke="#000" stroke-width="0.42" transform="matrix(1 0 0 0.9400 0 34.62)">e-ph</text>
<text x="1477.63" y="579.50" font-size="29.93" fill="#000" stroke="#000" stroke-width="0.42" transform="matrix(1 0 0 0.9580 0 24.36)">e-AFM magnon?</text>
<text x="1724.56" y="585.50" font-size="36.17" fill="#000" stroke="#000" stroke-width="0.42" transform="matrix(1 0 0 0.9516 0 28.35)">e</text>
<text x="1744.3" y="575.2" font-size="20" fill="#000">−</text>
<path d="M1670.3,648 C1700,612 1716,590 1712,562 C1709,548 1703,538 1697,527" fill="none" stroke="#111" stroke-width="2.7"/>
<path d="M1690.5,517.5 L1709,536.2 L1700.5,535.2 L1695.2,543.5 Z" fill="#111"/>
</svg>
</body></html>
